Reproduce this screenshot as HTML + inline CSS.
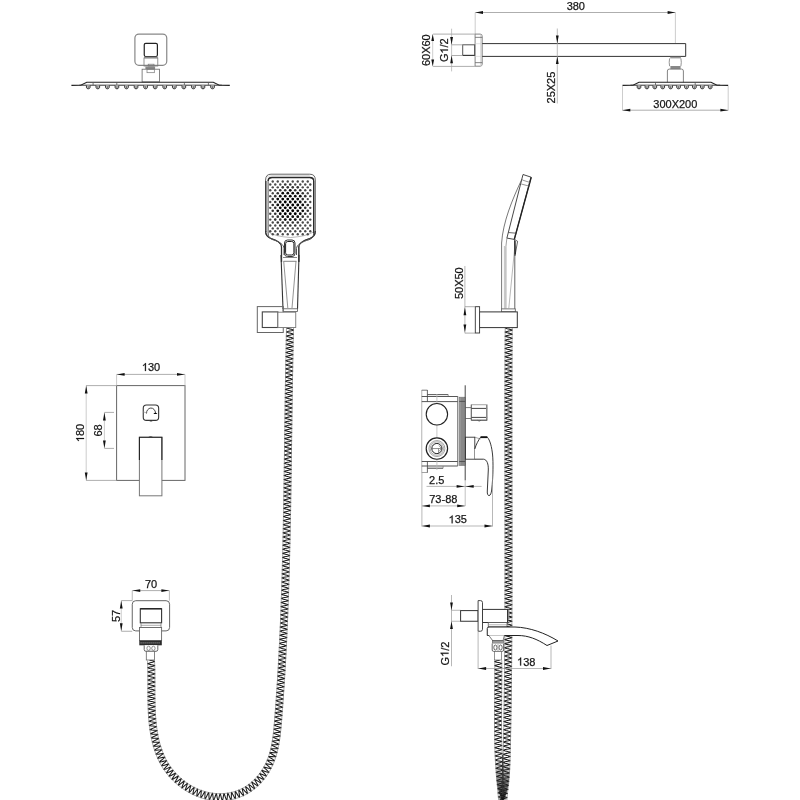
<!DOCTYPE html>
<html><head><meta charset="utf-8"><style>
html,body{margin:0;padding:0;background:#fff;width:800px;height:800px;overflow:hidden}
svg{display:block;will-change:transform}
text{font-family:"Liberation Sans",sans-serif;fill:#111;stroke:#222;stroke-width:0.25}
</style></head><body>
<svg width="800" height="800" viewBox="0 0 800 800">
<rect width="800" height="800" fill="#fff"/>
<path d="M286.52,327.88 L286.50,328.91 L286.48,329.93 L286.45,330.96 L286.43,331.98 L286.40,333.01 L286.38,334.03 L286.36,335.06 L286.34,336.08 L286.31,337.11 L286.29,338.13 L286.27,339.16 L286.24,340.18 L286.22,341.21 L286.20,342.24 L286.18,343.26 L286.16,344.29 L286.14,345.31 L286.11,346.34 L286.09,347.36 L286.07,348.39 L286.05,349.41 L286.03,350.44 L286.01,351.46 L285.99,352.49 L285.97,353.51 L285.95,354.54 L285.93,355.56 L285.91,356.59 L285.89,357.62 L285.87,358.64 L285.85,359.67 L285.83,360.69 L285.81,361.72 L285.79,362.74 L285.78,363.77 L285.76,364.79 L285.74,365.82 L285.72,366.84 L285.70,367.87 L285.68,368.89 L285.67,369.92 L285.65,370.94 L285.63,371.97 L285.61,372.99 L285.59,374.02 L285.58,375.04 L285.56,376.07 L285.54,377.10 L285.53,378.12 L285.51,379.15 L285.49,380.17 L285.48,381.20 L285.46,382.22 L285.44,383.25 L285.43,384.27 L285.41,385.30 L285.39,386.32 L285.38,387.35 L285.36,388.37 L285.34,389.40 L285.33,390.42 L285.31,391.45 L285.30,392.47 L285.28,393.50 L285.27,394.52 L285.25,395.55 L285.24,396.57 L285.22,397.60 L285.20,398.62 L285.19,399.65 L285.17,400.67 L285.16,401.70 L285.14,402.72 L285.13,403.75 L285.11,404.77 L285.10,405.80 L285.09,406.83 L285.07,407.85 L285.06,408.88 L285.04,409.90 L285.03,410.93 L285.01,411.95 L285.00,412.98 L284.98,414.00 L284.97,415.03 L284.95,416.05 L284.94,417.08 L284.93,418.10 L284.91,419.13 L284.90,420.15 L284.88,421.18 L284.87,422.20 L284.86,423.23 L284.84,424.25 L284.83,425.28 L284.81,426.30 L284.80,427.33 L284.79,428.35 L284.77,429.38 L284.76,430.40 L284.74,431.43 L284.73,432.45 L284.72,433.48 L284.70,434.50 L284.69,435.53 L284.68,436.55 L284.66,437.58 L284.65,438.60 L284.63,439.63 L284.62,440.65 L284.61,441.67 L284.59,442.70 L284.58,443.72 L284.57,444.75 L284.55,445.77 L284.54,446.80 L284.52,447.82 L284.51,448.85 L284.50,449.87 L284.48,450.90 L284.47,451.92 L284.45,452.95 L284.44,453.97 L284.43,455.00 L284.41,456.02 L284.40,457.05 L284.38,458.07 L284.37,459.10 L284.36,460.12 L284.34,461.15 L284.33,462.17 L284.31,463.20 L284.30,464.22 L284.29,465.25 L284.27,466.27 L284.26,467.30 L284.24,468.32 L284.23,469.34 L284.21,470.37 L284.20,471.39 L284.18,472.42 L284.17,473.44 L284.15,474.47 L284.14,475.49 L284.12,476.52 L284.11,477.54 L284.09,478.57 L284.08,479.59 L284.06,480.62 L284.05,481.64 L284.03,482.67 L284.02,483.69 L284.00,484.71 L283.99,485.74 L283.97,486.76 L283.95,487.79 L283.94,488.81 L283.92,489.84 L283.91,490.86 L283.89,491.89 L283.87,492.91 L283.86,493.94 L283.84,494.96 L283.83,495.98 L283.81,497.01 L283.79,498.03 L283.77,499.06 L283.76,500.08 L283.74,501.11 L283.72,502.13 L283.71,503.16 L283.69,504.18 L283.67,505.20 L283.65,506.23 L283.64,507.25 L283.62,508.28 L283.60,509.30 L283.58,510.33 L283.56,511.35 L283.55,512.38 L283.53,513.40 L283.51,514.42 L283.49,515.45 L283.47,516.47 L283.45,517.50 L283.43,518.52 L283.41,519.55 L283.39,520.57 L283.37,521.60 L283.35,522.62 L283.33,523.64 L283.31,524.67 L283.29,525.69 L283.27,526.72 L283.25,527.74 L283.23,528.76 L283.21,529.79 L283.19,530.81 L283.17,531.84 L283.15,532.86 L283.13,533.89 L283.11,534.91 L283.08,535.93 L283.06,536.96 L283.04,537.98 L283.02,539.01 L282.99,540.03 L282.97,541.06 L282.95,542.08 L282.93,543.10 L282.90,544.13 L282.88,545.15 L282.86,546.18 L282.83,547.20 L282.81,548.22 L282.78,549.25 L282.76,550.27 L282.73,551.30 L282.71,552.32 L282.68,553.34 L282.66,554.37 L282.63,555.39 L282.61,556.42 L282.58,557.44 L282.56,558.46 L282.53,559.49 L282.50,560.51 L282.48,561.54 L282.45,562.56 L282.42,563.58 L282.40,564.61 L282.37,565.63 L282.34,566.65 L282.31,567.68 L282.28,568.70 L282.26,569.73 L282.23,570.75 L282.20,571.77 L282.17,572.80 L282.14,573.82 L282.11,574.85 L282.08,575.87 L282.05,576.89 L282.02,577.92 L281.99,578.94 L281.96,579.96 L281.93,580.99 L281.90,582.01 L281.86,583.03 L281.83,584.06 L281.80,585.08 L281.77,586.11 L281.74,587.13 L281.70,588.15 L281.67,589.18 L281.64,590.20 L281.60,591.22 L281.57,592.25 L281.53,593.27 L281.50,594.29 L281.46,595.32 L281.43,596.34 L281.39,597.36 L281.36,598.39 L281.32,599.41 L281.29,600.43 L281.25,601.46 L281.21,602.48 L281.18,603.50 L281.14,604.53 L281.10,605.55 L281.06,606.57 L281.02,607.60 L280.99,608.62 L280.95,609.64 L280.91,610.67 L280.87,611.69 L280.83,612.71 L280.79,613.74 L280.75,614.76 L280.71,615.78 L280.67,616.81 L280.63,617.83 L280.58,618.85 L280.54,619.88 L280.50,620.90 L280.46,621.92 L280.41,622.94 L280.37,623.97 L280.33,624.99 L280.28,626.01 L280.24,627.04 L280.20,628.06 L280.15,629.08 L280.10,630.10 L280.06,631.13 L280.01,632.15 L279.97,633.17 L279.92,634.20 L279.87,635.22 L279.83,636.24 L279.78,637.26 L279.73,638.29 L279.68,639.31 L279.63,640.33 L279.59,641.35 L279.54,642.38 L279.49,643.40 L279.44,644.42 L279.39,645.45 L279.33,646.47 L279.28,647.49 L279.23,648.51 L279.18,649.53 L279.13,650.56 L279.07,651.58 L279.02,652.60 L278.97,653.62 L278.91,654.65 L278.86,655.67 L278.81,656.69 L278.75,657.71 L278.70,658.74 L278.64,659.76 L278.58,660.78 L278.53,661.80 L278.47,662.82 L278.41,663.85 L278.36,664.87 L278.30,665.89 L278.24,666.91 L278.18,667.93 L278.12,668.96 L278.06,669.98 L278.00,671.00 L277.94,672.02 L277.88,673.04 L277.82,674.06 L277.76,675.09 L277.70,676.11 L277.63,677.13 L277.57,678.15 L277.51,679.17 L277.44,680.19 L277.38,681.22 L277.31,682.24 L277.25,683.26 L277.18,684.28 L277.12,685.30 L277.05,686.32 L276.98,687.34 L276.92,688.37 L276.85,689.39 L276.78,690.41 L276.71,691.43 L276.64,692.45 L276.57,693.47 L276.50,694.49 L276.43,695.51 L276.36,696.54 L276.29,697.56 L276.22,698.58 L276.15,699.60 L276.08,700.62 L276.00,701.64 L275.93,702.66 L275.86,703.68 L275.78,704.70 L275.71,705.72 L275.63,706.74 L275.56,707.76 L275.48,708.78 L275.40,709.81 L275.33,710.83 L275.25,711.85 L275.17,712.87 L275.09,713.89 L275.01,714.91 L274.93,715.93 L274.85,716.95 L274.77,717.97 L274.69,718.99 L274.61,720.01 L274.53,721.03 L274.45,722.05 L274.36,723.06 L274.28,724.08 L274.19,725.09 L274.10,726.11 L274.01,727.12 L273.92,728.13 L273.82,729.14 L273.72,730.15 L273.62,731.15 L273.51,732.16 L273.40,733.16 L273.28,734.16 L273.16,735.16 L273.03,736.16 L272.90,737.15 L272.76,738.14 L272.61,739.14 L272.46,740.13 L272.31,741.11 L272.14,742.10 L271.97,743.08 L271.79,744.06 L271.60,745.03 L271.40,746.01 L271.19,746.98 L270.98,747.94 L270.75,748.90 L270.52,749.86 L270.27,750.82 L270.02,751.77 L269.75,752.72 L269.48,753.66 L269.19,754.60 L268.89,755.53 L268.58,756.46 L268.25,757.38 L267.92,758.30 L267.57,759.21 L267.21,760.11 L266.83,761.01 L266.45,761.90 L266.05,762.78 L265.63,763.66 L265.20,764.53 L264.76,765.39 L264.31,766.24 L263.84,767.09 L263.36,767.93 L262.86,768.76 L262.35,769.58 L261.83,770.39 L261.29,771.19 L260.74,771.98 L260.17,772.77 L259.59,773.55 L259.00,774.31 L258.40,775.07 L257.79,775.81 L257.16,776.55 L256.52,777.27 L255.87,777.98 L255.21,778.68 L254.53,779.37 L253.84,780.05 L253.15,780.72 L252.44,781.37 L251.72,782.00 L250.99,782.63 L250.25,783.24 L249.50,783.83 L248.73,784.41 L247.96,784.98 L247.18,785.52 L246.39,786.05 L245.59,786.57 L244.78,787.06 L243.95,787.54 L243.12,788.00 L242.28,788.45 L241.43,788.87 L240.57,789.28 L239.70,789.67 L238.83,790.04 L237.94,790.39 L237.05,790.73 L236.15,791.05 L235.24,791.35 L234.33,791.63 L233.41,791.89 L232.49,792.14 L231.56,792.36 L230.63,792.57 L229.69,792.76 L228.75,792.93 L227.80,793.09 L226.85,793.23 L225.90,793.34 L224.95,793.44 L223.99,793.53 L223.03,793.59 L222.07,793.64 L221.11,793.67 L220.15,793.68 L219.19,793.68 L218.23,793.66 L217.26,793.62 L216.30,793.56 L215.34,793.49 L214.39,793.40 L213.43,793.29 L212.47,793.16 L211.52,793.02 L210.57,792.87 L209.62,792.69 L208.68,792.50 L207.73,792.29 L206.80,792.07 L205.86,791.83 L204.93,791.57 L204.01,791.30 L203.09,791.01 L202.17,790.71 L201.26,790.39 L200.35,790.05 L199.45,789.70 L198.55,789.34 L197.66,788.96 L196.78,788.56 L195.90,788.15 L195.02,787.73 L194.15,787.29 L193.30,786.85 L192.44,786.38 L191.59,785.91 L190.75,785.42 L189.92,784.92 L189.09,784.40 L188.28,783.87 L187.47,783.33 L186.66,782.78 L185.87,782.22 L185.08,781.65 L184.30,781.06 L183.54,780.46 L182.77,779.85 L182.02,779.24 L181.28,778.60 L180.55,777.96 L179.82,777.31 L179.11,776.65 L178.40,775.98 L177.70,775.30 L177.02,774.60 L176.34,773.90 L175.68,773.19 L175.03,772.47 L174.39,771.74 L173.75,771.00 L173.13,770.25 L172.53,769.49 L171.93,768.73 L171.34,767.95 L170.77,767.17 L170.21,766.37 L169.67,765.57 L169.13,764.76 L168.61,763.94 L168.10,763.11 L167.60,762.28 L167.11,761.44 L166.64,760.59 L166.17,759.73 L165.72,758.86 L165.28,757.99 L164.86,757.11 L164.44,756.23 L164.04,755.34 L163.65,754.44 L163.27,753.54 L162.90,752.63 L162.54,751.71 L162.19,750.79 L161.86,749.87 L161.53,748.94 L161.21,748.01 L160.91,747.07 L160.62,746.13 L160.33,745.18 L160.06,744.24 L159.79,743.28 L159.53,742.33 L159.29,741.37 L159.05,740.40 L158.82,739.44 L158.60,738.47 L158.39,737.50 L158.19,736.52 L157.99,735.55 L157.81,734.57 L157.63,733.59 L157.46,732.61 L157.29,731.62 L157.14,730.63 L156.99,729.64 L156.85,728.66 L156.71,727.66 L156.58,726.67 L156.46,725.67 L156.34,724.68 L156.23,723.68 L156.13,722.68 L156.03,721.68 L155.93,720.68 L155.84,719.68 L155.76,718.67 L155.68,717.67 L155.61,716.66 L155.54,715.66 L155.48,714.65 L155.42,713.64 L155.36,712.63 L155.31,711.62 L155.26,710.61 L155.22,709.60 L155.18,708.59 L155.14,707.57 L155.11,706.56 L155.08,705.55 L155.05,704.53 L155.02,703.52 L155.00,702.50 L154.98,701.49 L154.96,700.47 L154.95,699.45 L154.94,698.43 L154.93,697.41 L154.92,696.40 L154.91,695.38 L154.90,694.36 L154.90,693.34 L154.90,692.31 L154.89,691.29 L154.89,690.27 L154.89,689.25 L154.89,688.23 L154.89,687.20 L154.89,686.18 L154.89,685.15 L154.90,684.13 L154.90,683.10 L154.90,682.07 L154.90,681.05 L154.90,680.02 L154.89,678.99 L154.89,677.96 L154.89,676.93 L154.88,675.90 L154.88,674.87 L154.87,673.84 L154.86,672.81 L154.84,671.78 L154.83,670.74 L154.81,669.71 L154.79,668.68 L154.77,667.64 L154.74,666.60 L154.71,665.57 L154.68,664.53 L154.64,663.49 L154.60,662.45 L154.55,661.41 L154.50,660.37 L147.49,660.40 L147.54,661.41 L147.59,662.42 L147.63,663.43 L147.67,664.44 L147.70,665.45 L147.73,666.46 L147.76,667.47 L147.79,668.49 L147.81,669.50 L147.82,670.52 L147.84,671.53 L147.85,672.55 L147.86,673.57 L147.87,674.59 L147.88,675.60 L147.89,676.62 L147.89,677.64 L147.89,678.67 L147.90,679.69 L147.90,680.71 L147.90,681.73 L147.90,682.76 L147.90,683.78 L147.89,684.80 L147.89,685.83 L147.89,686.85 L147.89,687.88 L147.89,688.91 L147.89,689.93 L147.89,690.96 L147.90,691.99 L147.90,693.02 L147.90,694.05 L147.91,695.08 L147.91,696.11 L147.92,697.14 L147.93,698.17 L147.95,699.20 L147.96,700.23 L147.98,701.27 L148.00,702.30 L148.02,703.33 L148.04,704.37 L148.07,705.40 L148.10,706.44 L148.13,707.47 L148.17,708.51 L148.21,709.55 L148.25,710.58 L148.30,711.62 L148.35,712.66 L148.41,713.69 L148.47,714.73 L148.53,715.77 L148.60,716.81 L148.68,717.85 L148.76,718.89 L148.84,719.93 L148.93,720.97 L149.03,722.00 L149.13,723.04 L149.23,724.08 L149.35,725.12 L149.47,726.16 L149.59,727.20 L149.73,728.24 L149.87,729.28 L150.01,730.32 L150.17,731.36 L150.33,732.40 L150.50,733.43 L150.68,734.47 L150.86,735.51 L151.06,736.54 L151.26,737.58 L151.47,738.61 L151.69,739.64 L151.92,740.67 L152.16,741.70 L152.41,742.73 L152.67,743.76 L152.94,744.78 L153.23,745.81 L153.52,746.83 L153.82,747.84 L154.13,748.86 L154.46,749.87 L154.80,750.88 L155.14,751.89 L155.51,752.89 L155.88,753.89 L156.26,754.89 L156.66,755.88 L157.07,756.87 L157.50,757.85 L157.94,758.83 L158.39,759.80 L158.85,760.77 L159.33,761.73 L159.82,762.69 L160.33,763.64 L160.85,764.58 L161.38,765.51 L161.93,766.44 L162.49,767.36 L163.06,768.27 L163.65,769.18 L164.26,770.07 L164.88,770.95 L165.51,771.83 L166.15,772.69 L166.81,773.55 L167.48,774.39 L168.16,775.23 L168.86,776.05 L169.57,776.86 L170.29,777.67 L171.02,778.46 L171.76,779.24 L172.51,780.00 L173.28,780.76 L174.05,781.51 L174.84,782.24 L175.63,782.96 L176.44,783.68 L177.26,784.38 L178.08,785.06 L178.92,785.74 L179.77,786.40 L180.63,787.05 L181.49,787.69 L182.37,788.32 L183.25,788.93 L184.14,789.53 L185.05,790.12 L185.96,790.70 L186.88,791.26 L187.81,791.80 L188.74,792.34 L189.69,792.85 L190.64,793.36 L191.60,793.85 L192.57,794.32 L193.55,794.78 L194.53,795.23 L195.53,795.66 L196.53,796.07 L197.53,796.47 L198.55,796.85 L199.57,797.21 L200.59,797.56 L201.63,797.89 L202.67,798.20 L203.71,798.50 L204.76,798.77 L205.82,799.03 L206.87,799.27 L207.94,799.49 L209.01,799.70 L210.07,799.88 L211.15,800.05 L212.22,800.19 L213.31,800.32 L214.39,800.43 L215.47,800.52 L216.55,800.59 L217.64,800.64 L218.73,800.67 L219.81,800.68 L220.91,800.68 L221.99,800.65 L223.08,800.60 L224.17,800.53 L225.25,800.45 L226.34,800.34 L227.42,800.21 L228.50,800.06 L229.58,799.89 L230.66,799.70 L231.73,799.49 L232.80,799.26 L233.86,799.01 L234.92,798.73 L235.98,798.44 L237.02,798.12 L238.07,797.79 L239.10,797.43 L240.13,797.05 L241.15,796.65 L242.17,796.23 L243.17,795.79 L244.17,795.32 L245.15,794.84 L246.13,794.33 L247.09,793.81 L248.05,793.26 L248.99,792.69 L249.92,792.11 L250.84,791.50 L251.74,790.88 L252.63,790.24 L253.50,789.59 L254.36,788.91 L255.21,788.23 L256.04,787.52 L256.86,786.81 L257.66,786.07 L258.46,785.33 L259.23,784.57 L260.00,783.80 L260.75,783.01 L261.48,782.22 L262.21,781.41 L262.92,780.59 L263.61,779.76 L264.29,778.91 L264.95,778.06 L265.61,777.19 L266.24,776.32 L266.87,775.43 L267.47,774.54 L268.07,773.63 L268.65,772.71 L269.21,771.79 L269.75,770.85 L270.29,769.90 L270.80,768.95 L271.30,767.99 L271.78,767.02 L272.25,766.05 L272.70,765.07 L273.13,764.08 L273.55,763.09 L273.96,762.09 L274.35,761.09 L274.72,760.08 L275.08,759.07 L275.43,758.05 L275.76,757.04 L276.08,756.02 L276.38,754.99 L276.68,753.97 L276.96,752.94 L277.22,751.91 L277.48,750.88 L277.72,749.84 L277.96,748.81 L278.18,747.77 L278.40,746.74 L278.60,745.70 L278.79,744.66 L278.98,743.63 L279.16,742.59 L279.33,741.55 L279.49,740.52 L279.64,739.48 L279.79,738.44 L279.93,737.40 L280.06,736.37 L280.19,735.33 L280.31,734.30 L280.43,733.26 L280.54,732.23 L280.65,731.19 L280.75,730.16 L280.85,729.13 L280.95,728.10 L281.04,727.07 L281.13,726.04 L281.22,725.01 L281.31,723.98 L281.39,722.96 L281.48,721.93 L281.56,720.91 L281.64,719.88 L281.72,718.86 L281.80,717.84 L281.89,716.81 L281.97,715.79 L282.04,714.77 L282.12,713.74 L282.20,712.72 L282.28,711.70 L282.36,710.67 L282.43,709.65 L282.51,708.62 L282.59,707.60 L282.66,706.58 L282.74,705.55 L282.81,704.53 L282.89,703.51 L282.96,702.48 L283.03,701.46 L283.11,700.43 L283.18,699.41 L283.25,698.39 L283.32,697.36 L283.39,696.34 L283.46,695.31 L283.54,694.29 L283.60,693.27 L283.67,692.24 L283.74,691.22 L283.81,690.19 L283.88,689.17 L283.95,688.14 L284.01,687.12 L284.08,686.10 L284.15,685.07 L284.21,684.05 L284.28,683.02 L284.34,682.00 L284.41,680.97 L284.47,679.95 L284.54,678.92 L284.60,677.90 L284.66,676.88 L284.72,675.85 L284.79,674.83 L284.85,673.80 L284.91,672.78 L284.97,671.75 L285.03,670.73 L285.09,669.70 L285.15,668.68 L285.21,667.65 L285.27,666.63 L285.33,665.61 L285.38,664.58 L285.44,663.56 L285.50,662.53 L285.55,661.51 L285.61,660.48 L285.67,659.46 L285.72,658.43 L285.78,657.41 L285.83,656.38 L285.89,655.36 L285.94,654.33 L285.99,653.31 L286.05,652.28 L286.10,651.26 L286.15,650.23 L286.21,649.21 L286.26,648.18 L286.31,647.16 L286.36,646.13 L286.41,645.11 L286.46,644.08 L286.51,643.06 L286.56,642.03 L286.61,641.01 L286.66,639.98 L286.71,638.96 L286.76,637.93 L286.80,636.91 L286.85,635.88 L286.90,634.86 L286.94,633.83 L286.99,632.81 L287.04,631.78 L287.08,630.76 L287.13,629.73 L287.17,628.71 L287.22,627.68 L287.26,626.66 L287.31,625.63 L287.35,624.61 L287.39,623.58 L287.44,622.56 L287.48,621.53 L287.52,620.51 L287.56,619.48 L287.61,618.45 L287.65,617.43 L287.69,616.40 L287.73,615.38 L287.77,614.35 L287.81,613.33 L287.85,612.30 L287.89,611.28 L287.93,610.25 L287.97,609.23 L288.01,608.20 L288.05,607.18 L288.08,606.15 L288.12,605.13 L288.16,604.10 L288.20,603.08 L288.23,602.05 L288.27,601.02 L288.31,600.00 L288.34,598.97 L288.38,597.95 L288.41,596.92 L288.45,595.90 L288.48,594.87 L288.52,593.85 L288.55,592.82 L288.59,591.80 L288.62,590.77 L288.65,589.75 L288.69,588.72 L288.72,587.70 L288.75,586.67 L288.79,585.64 L288.82,584.62 L288.85,583.59 L288.88,582.57 L288.91,581.54 L288.94,580.52 L288.98,579.49 L289.01,578.47 L289.04,577.44 L289.07,576.42 L289.10,575.39 L289.13,574.37 L289.16,573.34 L289.19,572.31 L289.22,571.29 L289.24,570.26 L289.27,569.24 L289.30,568.21 L289.33,567.19 L289.36,566.16 L289.38,565.14 L289.41,564.11 L289.44,563.09 L289.47,562.06 L289.49,561.04 L289.52,560.01 L289.55,558.98 L289.57,557.96 L289.60,556.93 L289.62,555.91 L289.65,554.88 L289.67,553.86 L289.70,552.83 L289.72,551.81 L289.75,550.78 L289.77,549.76 L289.80,548.73 L289.82,547.70 L289.85,546.68 L289.87,545.65 L289.89,544.63 L289.92,543.60 L289.94,542.58 L289.96,541.55 L289.99,540.53 L290.01,539.50 L290.03,538.48 L290.05,537.45 L290.07,536.43 L290.10,535.40 L290.12,534.38 L290.14,533.35 L290.16,532.32 L290.18,531.30 L290.20,530.27 L290.22,529.25 L290.25,528.22 L290.27,527.20 L290.29,526.17 L290.31,525.15 L290.33,524.12 L290.35,523.10 L290.37,522.07 L290.39,521.05 L290.41,520.02 L290.43,519.00 L290.44,517.97 L290.46,516.94 L290.48,515.92 L290.50,514.89 L290.52,513.87 L290.54,512.84 L290.56,511.82 L290.58,510.79 L290.59,509.77 L290.61,508.74 L290.63,507.72 L290.65,506.69 L290.66,505.67 L290.68,504.64 L290.70,503.62 L290.72,502.59 L290.73,501.57 L290.75,500.54 L290.77,499.52 L290.79,498.49 L290.80,497.46 L290.82,496.44 L290.84,495.41 L290.85,494.39 L290.87,493.36 L290.88,492.34 L290.90,491.31 L290.92,490.29 L290.93,489.26 L290.95,488.24 L290.96,487.21 L290.98,486.19 L291.00,485.16 L291.01,484.14 L291.03,483.11 L291.04,482.09 L291.06,481.06 L291.07,480.04 L291.09,479.01 L291.10,477.99 L291.12,476.96 L291.13,475.94 L291.15,474.91 L291.16,473.89 L291.18,472.86 L291.19,471.84 L291.21,470.81 L291.22,469.79 L291.24,468.76 L291.25,467.74 L291.27,466.71 L291.28,465.69 L291.29,464.66 L291.31,463.64 L291.32,462.61 L291.34,461.59 L291.35,460.56 L291.37,459.54 L291.38,458.51 L291.39,457.49 L291.41,456.46 L291.42,455.44 L291.44,454.41 L291.45,453.39 L291.46,452.36 L291.48,451.34 L291.49,450.31 L291.51,449.29 L291.52,448.26 L291.53,447.24 L291.55,446.21 L291.56,445.19 L291.57,444.16 L291.59,443.14 L291.60,442.11 L291.62,441.09 L291.63,440.06 L291.64,439.04 L291.66,438.01 L291.67,436.99 L291.68,435.96 L291.70,434.94 L291.71,433.91 L291.73,432.89 L291.74,431.86 L291.75,430.84 L291.77,429.81 L291.78,428.79 L291.80,427.76 L291.81,426.74 L291.82,425.71 L291.84,424.69 L291.85,423.66 L291.86,422.64 L291.88,421.61 L291.89,420.59 L291.91,419.56 L291.92,418.54 L291.94,417.51 L291.95,416.49 L291.96,415.46 L291.98,414.44 L291.99,413.42 L292.01,412.39 L292.02,411.37 L292.04,410.34 L292.05,409.32 L292.06,408.29 L292.08,407.27 L292.09,406.24 L292.11,405.22 L292.12,404.19 L292.14,403.17 L292.15,402.14 L292.17,401.12 L292.18,400.09 L292.20,399.07 L292.21,398.04 L292.23,397.02 L292.24,396.00 L292.26,394.97 L292.28,393.95 L292.29,392.92 L292.31,391.90 L292.32,390.87 L292.34,389.85 L292.35,388.82 L292.37,387.80 L292.39,386.77 L292.40,385.75 L292.42,384.73 L292.44,383.70 L292.45,382.68 L292.47,381.65 L292.49,380.63 L292.50,379.60 L292.52,378.58 L292.54,377.55 L292.55,376.53 L292.57,375.50 L292.59,374.48 L292.61,373.46 L292.62,372.43 L292.64,371.41 L292.66,370.38 L292.68,369.36 L292.69,368.33 L292.71,367.31 L292.73,366.28 L292.75,365.26 L292.77,364.24 L292.79,363.21 L292.81,362.19 L292.82,361.16 L292.84,360.14 L292.86,359.11 L292.88,358.09 L292.90,357.07 L292.92,356.04 L292.94,355.02 L292.96,353.99 L292.98,352.97 L293.00,351.94 L293.02,350.92 L293.04,349.90 L293.06,348.87 L293.08,347.85 L293.11,346.82 L293.13,345.80 L293.15,344.77 L293.17,343.75 L293.19,342.73 L293.21,341.70 L293.24,340.68 L293.26,339.65 L293.28,338.63 L293.30,337.61 L293.33,336.58 L293.35,335.56 L293.37,334.53 L293.40,333.51 L293.42,332.48 L293.44,331.46 L293.47,330.44 L293.49,329.41 L293.51,328.39Z" fill="#fff" stroke="none"/>
<path d="M286.52,327.88 L287.30,328.24 L288.52,328.61 L290.00,328.99 L291.48,329.36 L292.70,329.74 L293.47,330.10 L292.68,330.42 L291.45,330.73 L289.95,331.04 L288.46,331.34 L287.22,331.66 L286.43,331.98 L287.20,332.34 L288.42,332.71 L289.90,333.09 L291.38,333.46 L292.60,333.83 L293.38,334.19 L292.59,334.52 L291.35,334.83 L289.86,335.14 L288.36,335.44 L287.13,335.76 L286.34,336.08 L287.11,336.44 L288.33,336.81 L289.81,337.19 L291.29,337.56 L292.51,337.93 L293.29,338.29 L292.50,338.61 L291.26,338.93 L289.77,339.24 L288.27,339.54 L287.03,339.86 L286.24,340.18 L287.02,340.54 L288.24,340.91 L289.72,341.29 L291.20,341.66 L292.42,342.03 L293.20,342.38 L292.41,342.71 L291.17,343.02 L289.68,343.33 L288.18,343.64 L286.95,343.96 L286.16,344.29 L286.93,344.64 L288.15,345.01 L289.63,345.38 L291.11,345.76 L292.34,346.12 L293.11,346.48 L292.32,346.81 L291.09,347.12 L289.59,347.43 L288.10,347.74 L286.86,348.06 L286.07,348.39 L286.85,348.74 L288.07,349.11 L289.55,349.48 L291.03,349.85 L292.25,350.22 L293.03,350.58 L292.24,350.90 L291.00,351.22 L289.51,351.53 L288.02,351.84 L286.78,352.16 L285.99,352.49 L286.77,352.85 L287.99,353.21 L289.47,353.58 L290.95,353.95 L292.17,354.32 L292.95,354.68 L292.16,355.00 L290.92,355.32 L289.43,355.63 L287.93,355.95 L286.70,356.26 L285.91,356.59 L286.69,356.95 L287.91,357.31 L289.39,357.68 L290.87,358.05 L292.09,358.42 L292.87,358.77 L292.08,359.10 L290.84,359.42 L289.35,359.73 L287.86,360.05 L286.62,360.36 L285.83,360.69 L286.61,361.05 L287.83,361.41 L289.31,361.78 L290.79,362.15 L292.02,362.51 L292.79,362.87 L292.00,363.20 L290.77,363.52 L289.27,363.83 L287.78,364.15 L286.55,364.46 L285.76,364.79 L286.53,365.15 L287.76,365.51 L289.24,365.88 L290.72,366.25 L291.94,366.61 L292.72,366.97 L291.93,367.30 L290.69,367.61 L289.20,367.93 L287.71,368.25 L286.47,368.57 L285.68,368.89 L286.46,369.25 L287.68,369.61 L289.16,369.98 L290.65,370.35 L291.87,370.71 L292.65,371.07 L291.86,371.39 L290.62,371.71 L289.13,372.03 L287.64,372.35 L286.40,372.67 L285.61,372.99 L286.39,373.35 L287.61,373.71 L289.09,374.08 L290.58,374.45 L291.80,374.81 L292.58,375.16 L291.79,375.49 L290.55,375.81 L289.06,376.13 L287.57,376.45 L286.33,376.77 L285.54,377.10 L286.32,377.45 L287.54,377.81 L289.03,378.18 L290.51,378.54 L291.73,378.91 L292.51,379.26 L291.72,379.59 L290.48,379.91 L288.99,380.23 L287.50,380.55 L286.26,380.87 L285.48,381.20 L286.25,381.55 L287.48,381.91 L288.96,382.28 L290.44,382.64 L291.66,383.01 L292.44,383.36 L291.65,383.69 L290.42,384.01 L288.93,384.33 L287.43,384.65 L286.20,384.97 L285.41,385.30 L286.19,385.65 L287.41,386.01 L288.89,386.38 L290.37,386.74 L291.60,387.10 L292.38,387.46 L291.59,387.79 L290.35,388.11 L288.86,388.43 L287.37,388.75 L286.13,389.07 L285.34,389.40 L286.12,389.75 L287.35,390.11 L288.83,390.48 L290.31,390.84 L291.53,391.20 L292.31,391.56 L291.52,391.89 L290.29,392.21 L288.80,392.53 L287.30,392.85 L286.07,393.17 L285.28,393.50 L286.06,393.85 L287.28,394.21 L288.77,394.58 L290.25,394.94 L291.47,395.30 L292.25,395.65 L291.46,395.98 L290.23,396.31 L288.73,396.63 L287.24,396.95 L286.01,397.27 L285.22,397.60 L286.00,397.95 L287.22,398.31 L288.70,398.68 L290.19,399.04 L291.41,399.40 L292.19,399.75 L291.40,400.08 L290.17,400.41 L288.67,400.73 L287.18,401.05 L285.95,401.37 L285.16,401.70 L285.94,402.05 L287.16,402.41 L288.64,402.78 L290.13,403.14 L291.35,403.50 L292.13,403.85 L291.34,404.18 L290.11,404.51 L288.61,404.83 L287.12,405.15 L285.89,405.47 L285.10,405.80 L285.88,406.15 L287.10,406.51 L288.58,406.88 L290.07,407.24 L291.29,407.60 L292.07,407.95 L291.28,408.28 L290.05,408.60 L288.56,408.92 L287.06,409.25 L285.83,409.57 L285.04,409.90 L285.82,410.25 L287.04,410.61 L288.53,410.97 L290.01,411.34 L291.23,411.70 L292.01,412.05 L291.22,412.38 L289.99,412.70 L288.50,413.02 L287.01,413.35 L285.77,413.67 L284.98,414.00 L285.76,414.35 L286.99,414.71 L288.47,415.07 L289.95,415.44 L291.18,415.80 L291.95,416.15 L291.17,416.48 L289.93,416.80 L288.44,417.12 L286.95,417.45 L285.71,417.77 L284.93,418.10 L285.70,418.45 L286.93,418.81 L288.41,419.17 L289.89,419.54 L291.12,419.89 L291.90,420.25 L291.11,420.58 L289.88,420.90 L288.38,421.22 L286.89,421.54 L285.66,421.87 L284.87,422.20 L285.65,422.55 L286.87,422.91 L288.36,423.27 L289.84,423.64 L291.06,423.99 L291.84,424.35 L291.05,424.68 L289.82,425.00 L288.33,425.32 L286.84,425.64 L285.60,425.97 L284.81,426.30 L285.59,426.65 L286.82,427.01 L288.30,427.37 L289.78,427.73 L291.01,428.09 L291.79,428.45 L291.00,428.78 L289.76,429.10 L288.27,429.42 L286.78,429.74 L285.55,430.07 L284.76,430.40 L285.54,430.75 L286.76,431.11 L288.24,431.47 L289.73,431.83 L290.95,432.19 L291.73,432.54 L290.94,432.88 L289.71,433.20 L288.22,433.52 L286.72,433.84 L285.49,434.17 L284.70,434.50 L285.48,434.85 L286.71,435.21 L288.19,435.57 L289.67,435.93 L290.90,436.29 L291.68,436.64 L290.89,436.98 L289.65,437.30 L288.16,437.62 L286.67,437.94 L285.44,438.27 L284.65,438.60 L285.43,438.95 L286.65,439.31 L288.13,439.67 L289.62,440.03 L290.84,440.39 L291.62,440.74 L290.83,441.08 L289.60,441.40 L288.11,441.72 L286.61,442.04 L285.38,442.37 L284.59,442.70 L285.37,443.05 L286.60,443.41 L288.08,443.77 L289.56,444.13 L290.79,444.49 L291.56,444.84 L290.78,445.17 L289.54,445.50 L288.05,445.82 L286.56,446.14 L285.33,446.47 L284.54,446.80 L285.32,447.15 L286.54,447.51 L288.02,447.87 L289.51,448.23 L290.73,448.59 L291.51,448.94 L290.72,449.27 L289.49,449.60 L288.00,449.92 L286.50,450.24 L285.27,450.57 L284.48,450.90 L285.26,451.25 L286.49,451.61 L287.97,451.97 L289.45,452.33 L290.68,452.69 L291.45,453.04 L290.67,453.37 L289.43,453.70 L287.94,454.02 L286.45,454.34 L285.21,454.67 L284.43,455.00 L285.20,455.35 L286.43,455.71 L287.91,456.07 L289.40,456.43 L290.62,456.79 L291.40,457.14 L290.61,457.47 L289.38,457.80 L287.88,458.12 L286.39,458.44 L285.16,458.77 L284.37,459.10 L285.15,459.45 L286.37,459.81 L287.86,460.17 L289.34,460.53 L290.56,460.89 L291.34,461.24 L290.55,461.57 L289.32,461.90 L287.83,462.22 L286.34,462.54 L285.10,462.87 L284.31,463.20 L285.09,463.55 L286.32,463.91 L287.80,464.27 L289.28,464.63 L290.51,464.99 L291.28,465.34 L290.50,465.67 L289.26,466.00 L287.77,466.32 L286.28,466.64 L285.04,466.96 L284.26,467.30 L285.03,467.65 L286.26,468.01 L287.74,468.37 L289.22,468.73 L290.45,469.09 L291.23,469.44 L290.44,469.77 L289.20,470.10 L287.71,470.42 L286.22,470.74 L284.99,471.06 L284.20,471.39 L284.98,471.75 L286.20,472.11 L287.68,472.47 L289.17,472.83 L290.39,473.19 L291.17,473.54 L290.38,473.87 L289.15,474.20 L287.65,474.52 L286.16,474.84 L284.93,475.16 L284.14,475.49 L284.92,475.85 L286.14,476.21 L287.62,476.57 L289.11,476.93 L290.33,477.29 L291.11,477.64 L290.32,477.98 L289.09,478.30 L287.59,478.62 L286.10,478.94 L284.87,479.26 L284.08,479.59 L284.86,479.94 L286.08,480.30 L287.56,480.67 L289.05,481.03 L290.27,481.39 L291.05,481.75 L290.26,482.08 L289.02,482.40 L287.53,482.72 L286.04,483.04 L284.81,483.36 L284.02,483.69 L284.79,484.04 L286.02,484.40 L287.50,484.77 L288.98,485.13 L290.21,485.49 L290.99,485.85 L290.20,486.18 L288.96,486.50 L287.47,486.82 L285.98,487.14 L284.74,487.46 L283.95,487.79 L284.73,488.14 L285.96,488.50 L287.44,488.87 L288.92,489.23 L290.14,489.59 L290.92,489.95 L290.13,490.28 L288.90,490.60 L287.41,490.92 L285.91,491.24 L284.68,491.56 L283.89,491.89 L284.67,492.24 L285.89,492.60 L287.37,492.97 L288.86,493.33 L290.08,493.69 L290.86,494.05 L290.07,494.38 L288.83,494.70 L287.34,495.02 L285.85,495.33 L284.61,495.66 L283.83,495.98 L284.60,496.34 L285.83,496.70 L287.31,497.07 L288.79,497.43 L290.01,497.79 L290.79,498.15 L290.00,498.48 L288.77,498.80 L287.27,499.12 L285.78,499.43 L284.55,499.75 L283.76,500.08 L284.54,500.44 L285.76,500.80 L287.24,501.17 L288.72,501.53 L289.95,501.89 L290.72,502.25 L289.93,502.58 L288.70,502.90 L287.21,503.22 L285.71,503.53 L284.48,503.85 L283.69,504.18 L284.47,504.54 L285.69,504.90 L287.17,505.26 L288.65,505.63 L289.88,505.99 L290.65,506.35 L289.86,506.68 L288.63,507.00 L287.14,507.31 L285.64,507.63 L284.41,507.95 L283.62,508.28 L284.40,508.63 L285.62,509.00 L287.10,509.36 L288.58,509.73 L289.80,510.10 L290.58,510.45 L289.79,510.78 L288.56,511.10 L287.06,511.41 L285.57,511.73 L284.33,512.05 L283.55,512.38 L284.32,512.73 L285.55,513.10 L287.03,513.46 L288.51,513.83 L289.73,514.20 L290.51,514.55 L289.72,514.88 L288.48,515.20 L286.99,515.51 L285.50,515.83 L284.26,516.15 L283.47,516.47 L284.25,516.83 L285.47,517.19 L286.95,517.56 L288.43,517.93 L289.66,518.30 L290.43,518.65 L289.64,518.98 L288.41,519.30 L286.91,519.61 L285.42,519.93 L284.18,520.24 L283.39,520.57 L284.17,520.93 L285.39,521.29 L286.87,521.66 L288.35,522.03 L289.58,522.40 L290.35,522.75 L289.56,523.08 L288.33,523.40 L286.83,523.71 L285.34,524.02 L284.10,524.34 L283.31,524.67 L284.09,525.02 L285.31,525.39 L286.79,525.76 L288.27,526.13 L289.50,526.50 L290.27,526.86 L289.48,527.18 L288.25,527.50 L286.75,527.81 L285.26,528.12 L284.02,528.44 L283.23,528.76 L284.01,529.12 L285.23,529.49 L286.71,529.86 L288.19,530.23 L289.41,530.60 L290.19,530.96 L289.40,531.28 L288.16,531.60 L286.67,531.91 L285.18,532.22 L283.94,532.54 L283.15,532.86 L283.92,533.22 L285.15,533.59 L286.63,533.96 L288.11,534.33 L289.33,534.70 L290.10,535.06 L289.31,535.38 L288.08,535.70 L286.58,536.01 L285.09,536.32 L283.85,536.63 L283.06,536.96 L283.84,537.32 L285.06,537.69 L286.54,538.06 L288.02,538.43 L289.24,538.80 L290.02,539.16 L289.23,539.48 L287.99,539.80 L286.49,540.11 L285.00,540.42 L283.76,540.73 L282.97,541.06 L283.75,541.41 L284.97,541.78 L286.45,542.16 L287.93,542.53 L289.15,542.90 L289.92,543.26 L289.13,543.59 L287.90,543.90 L286.40,544.21 L284.91,544.51 L283.67,544.83 L282.88,545.15 L283.65,545.51 L284.88,545.88 L286.35,546.26 L287.83,546.63 L289.06,547.00 L289.83,547.36 L289.04,547.69 L287.80,548.00 L286.31,548.31 L284.81,548.61 L283.57,548.93 L282.78,549.25 L283.56,549.61 L284.78,549.98 L286.26,550.36 L287.74,550.73 L288.96,551.10 L289.73,551.46 L288.94,551.79 L287.70,552.10 L286.21,552.41 L284.71,552.71 L283.48,553.02 L282.68,553.34 L283.46,553.70 L284.68,554.08 L286.16,554.45 L287.64,554.83 L288.86,555.21 L289.63,555.57 L288.84,555.89 L287.60,556.20 L286.11,556.50 L284.61,556.81 L283.37,557.12 L282.58,557.44 L283.36,557.80 L284.58,558.17 L286.06,558.55 L287.53,558.93 L288.75,559.31 L289.53,559.67 L288.74,559.99 L287.50,560.30 L286.00,560.60 L284.51,560.91 L283.27,561.21 L282.48,561.54 L283.25,561.90 L284.47,562.27 L285.95,562.65 L287.43,563.03 L288.65,563.41 L289.42,563.77 L288.63,564.09 L287.39,564.40 L285.89,564.70 L284.40,565.00 L283.16,565.31 L282.37,565.63 L283.14,565.99 L284.36,566.37 L285.84,566.75 L287.32,567.13 L288.54,567.51 L289.31,567.87 L288.52,568.19 L287.28,568.50 L285.78,568.80 L284.29,569.10 L283.05,569.41 L282.26,569.73 L283.03,570.09 L284.25,570.47 L285.73,570.85 L287.20,571.23 L288.42,571.61 L289.20,571.97 L288.40,572.29 L287.16,572.60 L285.67,572.90 L284.17,573.20 L282.93,573.50 L282.14,573.82 L282.91,574.19 L284.13,574.56 L285.61,574.95 L287.09,575.33 L288.30,575.71 L289.08,576.07 L288.28,576.39 L287.05,576.70 L285.55,577.00 L284.05,577.29 L282.81,577.60 L282.02,577.92 L282.79,578.28 L284.01,578.66 L285.49,579.05 L286.96,579.43 L288.18,579.81 L288.96,580.18 L288.16,580.49 L286.92,580.80 L285.43,581.09 L283.93,581.39 L282.69,581.69 L281.90,582.01 L282.67,582.38 L283.89,582.76 L285.36,583.14 L286.84,583.53 L288.06,583.91 L288.83,584.28 L288.04,584.59 L286.80,584.90 L285.30,585.19 L283.80,585.49 L282.56,585.79 L281.77,586.11 L282.54,586.47 L283.76,586.85 L285.23,587.24 L286.71,587.63 L287.93,588.01 L288.70,588.38 L287.91,588.70 L286.67,589.00 L285.17,589.29 L283.67,589.58 L282.43,589.88 L281.64,590.20 L282.41,590.57 L283.62,590.95 L285.10,591.34 L286.58,591.73 L287.79,592.11 L288.56,592.48 L287.77,592.80 L286.53,593.10 L285.03,593.39 L283.53,593.68 L282.29,593.98 L281.50,594.29 L282.27,594.66 L283.49,595.04 L284.96,595.44 L286.44,595.83 L287.65,596.21 L288.43,596.58 L287.63,596.90 L286.39,597.20 L284.89,597.49 L283.39,597.78 L282.15,598.07 L281.36,598.39 L282.13,598.76 L283.35,599.14 L284.82,599.53 L286.29,599.93 L287.51,600.31 L288.28,600.68 L287.49,601.00 L286.25,601.29 L284.75,601.58 L283.25,601.87 L282.01,602.17 L281.21,602.48 L281.98,602.85 L283.20,603.24 L284.67,603.63 L286.15,604.03 L287.36,604.41 L288.13,604.78 L287.34,605.10 L286.10,605.39 L284.60,605.68 L283.10,605.97 L281.86,606.26 L281.06,606.57 L281.83,606.94 L283.05,607.33 L284.52,607.73 L286.00,608.13 L287.21,608.51 L287.98,608.89 L287.19,609.20 L285.94,609.49 L284.44,609.78 L282.95,610.06 L281.70,610.36 L280.91,610.67 L281.68,611.04 L282.89,611.43 L284.37,611.83 L285.84,612.23 L287.05,612.61 L287.82,612.99 L287.03,613.30 L285.79,613.59 L284.29,613.87 L282.79,614.16 L281.54,614.45 L280.75,614.76 L281.52,615.13 L282.73,615.52 L284.21,615.92 L285.68,616.32 L286.89,616.71 L287.66,617.09 L286.87,617.40 L285.62,617.69 L284.12,617.97 L282.62,618.25 L281.38,618.54 L280.58,618.85 L281.35,619.23 L282.57,619.62 L284.04,620.02 L285.51,620.42 L286.73,620.81 L287.49,621.19 L286.70,621.50 L285.45,621.79 L283.95,622.07 L282.45,622.35 L281.21,622.64 L280.41,622.94 L281.18,623.32 L282.40,623.71 L283.87,624.12 L285.34,624.52 L286.55,624.91 L287.32,625.29 L286.52,625.60 L285.28,625.89 L283.78,626.16 L282.28,626.44 L281.04,626.73 L280.24,627.04 L281.01,627.41 L282.22,627.81 L283.69,628.21 L285.16,628.62 L286.38,629.01 L287.14,629.39 L286.35,629.70 L285.10,629.98 L283.60,630.26 L282.10,630.54 L280.86,630.82 L280.06,631.13 L280.83,631.50 L282.04,631.90 L283.51,632.31 L284.98,632.72 L286.19,633.11 L286.96,633.49 L286.16,633.80 L284.92,634.08 L283.42,634.36 L281.92,634.63 L280.67,634.91 L279.87,635.22 L280.64,635.60 L281.85,635.99 L283.32,636.40 L284.79,636.81 L286.01,637.21 L286.77,637.59 L285.97,637.90 L284.73,638.18 L283.23,638.45 L281.73,638.72 L280.48,639.01 L279.68,639.31 L280.45,639.69 L281.66,640.09 L283.13,640.50 L284.60,640.91 L285.81,641.31 L286.58,641.69 L285.78,642.00 L284.53,642.28 L283.03,642.55 L281.53,642.82 L280.28,643.10 L279.49,643.40 L280.25,643.78 L281.46,644.18 L282.93,644.59 L284.40,645.01 L285.61,645.41 L286.38,645.79 L285.58,646.09 L284.33,646.37 L282.83,646.64 L281.33,646.91 L280.08,647.19 L279.28,647.49 L280.05,647.87 L281.26,648.27 L282.73,648.69 L284.20,649.11 L285.41,649.51 L286.17,649.89 L285.37,650.19 L284.13,650.47 L282.62,650.74 L281.12,651.00 L279.87,651.28 L279.07,651.58 L279.84,651.96 L281.05,652.37 L282.52,652.78 L283.98,653.20 L285.19,653.61 L285.96,653.99 L285.16,654.29 L283.91,654.57 L282.41,654.83 L280.91,655.09 L279.66,655.37 L278.86,655.67 L279.62,656.05 L280.83,656.46 L282.30,656.88 L283.77,657.30 L284.98,657.71 L285.74,658.09 L284.94,658.39 L283.69,658.66 L282.19,658.93 L280.69,659.19 L279.44,659.46 L278.64,659.76 L279.40,660.14 L280.61,660.55 L282.08,660.97 L283.55,661.40 L284.75,661.80 L285.52,662.19 L284.72,662.49 L283.47,662.76 L281.97,663.02 L280.46,663.28 L279.21,663.55 L278.41,663.85 L279.18,664.23 L280.38,664.64 L281.85,665.07 L283.32,665.49 L284.52,665.90 L285.29,666.29 L284.49,666.59 L283.24,666.86 L281.73,667.11 L280.23,667.37 L278.98,667.64 L278.18,667.93 L278.94,668.32 L280.15,668.73 L281.62,669.16 L283.08,669.59 L284.29,670.00 L285.05,670.39 L284.25,670.68 L283.00,670.95 L281.50,671.21 L279.99,671.46 L278.74,671.73 L277.94,672.02 L278.70,672.41 L279.91,672.82 L281.37,673.25 L282.84,673.68 L284.05,674.10 L284.81,674.49 L284.00,674.78 L282.76,675.05 L281.25,675.30 L279.75,675.55 L278.50,675.82 L277.70,676.11 L278.46,676.50 L279.66,676.91 L281.13,677.34 L282.59,677.78 L283.80,678.19 L284.56,678.58 L283.75,678.88 L282.51,679.14 L281.00,679.39 L279.49,679.64 L278.25,679.90 L277.44,680.19 L278.20,680.58 L279.41,681.00 L280.87,681.44 L282.33,681.87 L283.54,682.29 L284.30,682.68 L283.50,682.97 L282.25,683.24 L280.74,683.48 L279.24,683.73 L277.99,683.99 L277.18,684.28 L277.94,684.67 L279.15,685.09 L280.61,685.53 L282.07,685.97 L283.28,686.39 L284.04,686.78 L283.23,687.07 L281.98,687.33 L280.48,687.57 L278.97,687.82 L277.72,688.08 L276.92,688.37 L277.68,688.76 L278.88,689.18 L280.34,689.62 L281.80,690.06 L283.01,690.48 L283.77,690.88 L282.96,691.16 L281.71,691.42 L280.21,691.66 L278.70,691.91 L277.45,692.16 L276.64,692.45 L277.40,692.84 L278.61,693.27 L280.07,693.71 L281.53,694.15 L282.73,694.58 L283.49,694.97 L282.68,695.26 L281.43,695.52 L279.93,695.76 L278.42,695.99 L277.17,696.25 L276.36,696.54 L277.12,696.93 L278.32,697.36 L279.78,697.80 L281.24,698.25 L282.45,698.67 L283.20,699.07 L282.40,699.35 L281.15,699.61 L279.64,699.85 L278.13,700.08 L276.88,700.33 L276.08,700.62 L276.83,701.02 L278.04,701.44 L279.49,701.89 L280.95,702.34 L282.16,702.77 L282.91,703.16 L282.11,703.45 L280.86,703.70 L279.35,703.93 L277.84,704.17 L276.59,704.42 L275.78,704.70 L276.54,705.10 L277.74,705.53 L279.20,705.98 L280.66,706.43 L281.86,706.86 L282.61,707.26 L281.81,707.54 L280.56,707.79 L279.05,708.02 L277.54,708.25 L276.29,708.50 L275.48,708.78 L276.24,709.18 L277.44,709.62 L278.89,710.07 L280.35,710.52 L281.55,710.95 L282.31,711.35 L281.50,711.64 L280.25,711.88 L278.74,712.11 L277.23,712.34 L275.98,712.59 L275.17,712.87 L275.92,713.27 L277.12,713.70 L278.58,714.16 L280.04,714.61 L281.24,715.05 L281.99,715.45 L281.18,715.73 L279.93,715.98 L278.42,716.20 L276.91,716.42 L275.66,716.67 L274.85,716.95 L275.61,717.35 L276.81,717.79 L278.26,718.24 L279.72,718.70 L280.92,719.14 L281.67,719.54 L280.86,719.82 L279.61,720.07 L278.10,720.29 L276.59,720.51 L275.34,720.75 L274.53,721.03 L275.28,721.43 L276.48,721.87 L277.93,722.33 L279.39,722.79 L280.59,723.24 L281.34,723.64 L280.53,723.92 L279.28,724.16 L277.76,724.37 L276.25,724.59 L275.00,724.82 L274.19,725.09 L274.94,725.50 L276.14,725.95 L277.59,726.42 L279.04,726.89 L280.23,727.34 L280.98,727.76 L280.17,728.03 L278.91,728.26 L277.40,728.46 L275.89,728.66 L274.63,728.88 L273.82,729.14 L274.57,729.55 L275.76,730.01 L277.20,730.50 L278.65,730.99 L279.83,731.46 L280.58,731.88 L279.76,732.14 L278.50,732.36 L276.99,732.54 L275.47,732.71 L274.21,732.91 L273.40,733.16 L274.13,733.58 L275.32,734.06 L276.75,734.57 L278.19,735.09 L279.37,735.58 L280.10,736.02 L279.28,736.27 L278.02,736.46 L276.50,736.61 L274.98,736.75 L273.72,736.92 L272.90,737.15 L273.63,737.59 L274.80,738.09 L276.22,738.64 L277.65,739.19 L278.81,739.71 L279.54,740.17 L278.71,740.40 L277.44,740.55 L275.92,740.67 L274.40,740.77 L273.13,740.91 L272.31,741.11 L273.02,741.57 L274.18,742.10 L275.59,742.69 L277.00,743.28 L278.15,743.84 L278.86,744.32 L278.02,744.52 L276.75,744.64 L275.23,744.71 L273.70,744.76 L272.43,744.86 L271.60,745.03 L272.30,745.51 L273.44,746.09 L274.83,746.72 L276.21,747.36 L277.34,747.96 L278.03,748.46 L277.19,748.64 L275.92,748.71 L274.39,748.72 L272.87,748.72 L271.59,748.76 L270.75,748.90 L271.44,749.41 L272.55,750.03 L273.91,750.71 L275.27,751.41 L276.38,752.06 L277.05,752.60 L276.20,752.74 L274.92,752.76 L273.39,752.70 L271.87,752.63 L270.60,752.62 L269.75,752.72 L270.41,753.25 L271.50,753.92 L272.83,754.67 L274.15,755.43 L275.22,756.13 L275.87,756.70 L275.01,756.80 L273.74,756.76 L272.21,756.62 L270.70,756.48 L269.42,756.40 L268.58,756.46 L269.21,757.02 L270.26,757.74 L271.55,758.56 L272.83,759.39 L273.86,760.15 L274.47,760.75 L273.61,760.81 L272.34,760.70 L270.83,760.48 L269.32,760.25 L268.06,760.10 L267.21,760.11 L267.81,760.71 L268.82,761.49 L270.05,762.38 L271.29,763.28 L272.27,764.10 L272.84,764.74 L271.98,764.75 L270.72,764.56 L269.22,764.25 L267.73,763.93 L266.48,763.71 L265.63,763.66 L266.19,764.30 L267.15,765.13 L268.33,766.10 L269.50,767.08 L270.44,767.95 L270.97,768.63 L270.11,768.59 L268.86,768.32 L267.38,767.92 L265.92,767.50 L264.68,767.19 L263.84,767.09 L264.36,767.76 L265.26,768.66 L266.37,769.70 L267.48,770.76 L268.35,771.69 L268.83,772.40 L267.98,772.30 L266.75,771.95 L265.31,771.45 L263.87,770.93 L262.66,770.54 L261.83,770.39 L262.30,771.09 L263.14,772.05 L264.18,773.16 L265.21,774.29 L266.02,775.28 L266.45,776.02 L265.61,775.86 L264.40,775.43 L263.00,774.84 L261.60,774.23 L260.42,773.76 L259.59,773.55 L260.02,774.28 L260.79,775.29 L261.76,776.47 L262.71,777.66 L263.45,778.71 L263.84,779.48 L263.00,779.26 L261.83,778.75 L260.47,778.06 L259.11,777.36 L257.96,776.81 L257.16,776.55 L257.54,777.31 L258.24,778.37 L259.12,779.61 L259.99,780.86 L260.66,781.96 L261.00,782.75 L260.18,782.48 L259.04,781.89 L257.73,781.11 L256.42,780.32 L255.31,779.69 L254.53,779.37 L254.85,780.16 L255.48,781.26 L256.28,782.56 L257.06,783.88 L257.66,785.01 L257.93,785.83 L257.13,785.50 L256.04,784.83 L254.78,783.96 L253.54,783.08 L252.48,782.38 L251.72,782.00 L251.99,782.81 L252.54,783.96 L253.24,785.31 L253.92,786.67 L254.43,787.85 L254.64,788.69 L253.87,788.30 L252.83,787.56 L251.64,786.60 L250.47,785.62 L249.46,784.85 L248.73,784.41 L248.94,785.23 L249.40,786.42 L250.00,787.82 L250.58,789.24 L250.99,790.45 L251.14,791.30 L250.40,790.85 L249.42,790.03 L248.31,788.98 L247.21,787.92 L246.27,787.06 L245.59,786.57 L245.73,787.40 L246.09,788.62 L246.57,790.07 L247.03,791.53 L247.34,792.77 L247.41,793.63 L246.71,793.12 L245.80,792.22 L244.79,791.08 L243.79,789.93 L242.93,788.99 L242.28,788.45 L242.35,789.29 L242.61,790.53 L242.96,792.02 L243.30,793.51 L243.50,794.77 L243.50,795.63 L242.85,795.07 L242.02,794.10 L241.10,792.88 L240.20,791.64 L239.42,790.64 L238.83,790.04 L238.83,790.89 L238.98,792.15 L239.21,793.66 L239.42,795.17 L239.52,796.45 L239.45,797.31 L238.84,796.69 L238.09,795.65 L237.28,794.36 L236.49,793.06 L235.79,791.99 L235.24,791.35 L235.17,792.19 L235.22,793.46 L235.33,794.98 L235.41,796.51 L235.41,797.79 L235.27,798.64 L234.72,797.98 L234.06,796.88 L233.35,795.53 L232.66,794.17 L232.05,793.05 L231.56,792.36 L231.42,793.20 L231.37,794.47 L231.36,795.99 L231.32,797.52 L231.22,798.80 L231.02,799.63 L230.51,798.93 L229.94,797.79 L229.34,796.38 L228.76,794.97 L228.24,793.81 L227.80,793.09 L227.60,793.91 L227.45,795.17 L227.32,796.69 L227.17,798.21 L226.97,799.48 L226.70,800.30 L226.26,799.56 L225.77,798.37 L225.28,796.93 L224.81,795.48 L224.37,794.28 L223.99,793.53 L223.73,794.33 L223.48,795.58 L223.24,797.09 L222.97,798.59 L222.68,799.84 L222.36,800.63 L221.97,799.87 L221.57,798.65 L221.19,797.17 L220.82,795.69 L220.48,794.46 L220.15,793.68 L219.83,794.47 L219.49,795.69 L219.14,797.18 L218.77,798.66 L218.39,799.88 L218.00,800.65 L217.67,799.86 L217.37,798.61 L217.09,797.11 L216.83,795.61 L216.58,794.36 L216.30,793.56 L215.93,794.32 L215.50,795.52 L215.05,796.97 L214.57,798.43 L214.10,799.62 L213.66,800.36 L213.39,799.54 L213.17,798.28 L213.01,796.76 L212.86,795.25 L212.69,793.98 L212.47,793.16 L212.04,793.89 L211.54,795.06 L210.98,796.48 L210.40,797.89 L209.85,799.05 L209.36,799.76 L209.14,798.93 L209.02,797.65 L208.96,796.13 L208.91,794.60 L208.83,793.33 L208.68,792.50 L208.20,793.20 L207.61,794.33 L206.95,795.70 L206.28,797.07 L205.65,798.19 L205.11,798.86 L204.95,798.02 L204.92,796.74 L204.96,795.21 L205.02,793.69 L205.03,792.41 L204.93,791.57 L204.41,792.23 L203.74,793.32 L202.99,794.65 L202.22,795.97 L201.52,797.04 L200.94,797.67 L200.84,796.82 L200.89,795.54 L201.04,794.02 L201.20,792.50 L201.30,791.23 L201.26,790.39 L200.69,791.01 L199.95,792.05 L199.11,793.32 L198.26,794.59 L197.48,795.61 L196.86,796.21 L196.82,795.35 L196.96,794.07 L197.21,792.57 L197.47,791.06 L197.65,789.80 L197.66,788.96 L197.05,789.54 L196.25,790.53 L195.33,791.75 L194.39,792.96 L193.55,793.92 L192.90,794.48 L192.91,793.62 L193.13,792.36 L193.47,790.87 L193.83,789.39 L194.09,788.14 L194.15,787.29 L193.51,787.84 L192.64,788.78 L191.65,789.93 L190.64,791.08 L189.75,792.00 L189.06,792.51 L189.12,791.65 L189.42,790.41 L189.86,788.94 L190.30,787.49 L190.64,786.26 L190.75,785.42 L190.07,785.92 L189.15,786.80 L188.09,787.90 L187.02,788.98 L186.07,789.84 L185.35,790.31 L185.47,789.46 L185.84,788.24 L186.36,786.80 L186.89,785.37 L187.30,784.17 L187.47,783.33 L186.76,783.80 L185.79,784.62 L184.66,785.65 L183.53,786.67 L182.53,787.47 L181.78,787.90 L181.95,787.06 L182.39,785.86 L183.00,784.46 L183.62,783.06 L184.09,781.88 L184.30,781.06 L183.57,781.48 L182.55,782.25 L181.37,783.21 L180.17,784.16 L179.13,784.90 L178.36,785.29 L178.58,784.46 L179.09,783.29 L179.78,781.92 L180.47,780.56 L181.02,779.41 L181.28,778.60 L180.52,778.98 L179.46,779.69 L178.22,780.58 L176.98,781.46 L175.89,782.14 L175.10,782.48 L175.37,781.67 L175.95,780.52 L176.71,779.20 L177.48,777.89 L178.09,776.77 L178.40,775.98 L177.62,776.31 L176.52,776.96 L175.24,777.78 L173.94,778.58 L172.82,779.20 L172.01,779.49 L172.32,778.69 L172.96,777.59 L173.80,776.31 L174.65,775.04 L175.33,773.96 L175.68,773.19 L174.88,773.48 L173.75,774.06 L172.42,774.80 L171.07,775.53 L169.92,776.08 L169.09,776.32 L169.45,775.54 L170.16,774.47 L171.07,773.25 L172.00,772.04 L172.73,771.00 L173.13,770.25 L172.32,770.49 L171.15,771.00 L169.78,771.66 L168.40,772.31 L167.21,772.79 L166.37,772.98 L166.78,772.22 L167.55,771.20 L168.53,770.03 L169.53,768.88 L170.33,767.89 L170.77,767.17 L169.95,767.36 L168.75,767.79 L167.34,768.37 L165.92,768.93 L164.70,769.33 L163.85,769.47 L164.31,768.74 L165.14,767.77 L166.19,766.67 L167.26,765.58 L168.12,764.64 L168.61,763.94 L167.77,764.08 L166.55,764.44 L165.10,764.93 L163.65,765.41 L162.42,765.73 L161.56,765.82 L162.06,765.12 L162.95,764.20 L164.07,763.16 L165.20,762.14 L166.11,761.25 L166.64,760.59 L165.79,760.67 L164.55,760.97 L163.08,761.37 L161.60,761.75 L160.35,762.01 L159.49,762.05 L160.03,761.38 L160.97,760.51 L162.15,759.54 L163.33,758.58 L164.29,757.75 L164.86,757.11 L164.01,757.15 L162.76,757.37 L161.26,757.69 L159.77,758.00 L158.50,758.19 L157.64,758.18 L158.22,757.54 L159.20,756.72 L160.43,755.82 L161.67,754.92 L162.67,754.14 L163.27,753.54 L162.42,753.53 L161.15,753.68 L159.65,753.92 L158.14,754.15 L156.86,754.27 L156.01,754.23 L156.61,753.62 L157.64,752.85 L158.91,752.01 L160.19,751.18 L161.23,750.44 L161.86,749.87 L161.01,749.82 L159.74,749.91 L158.22,750.08 L156.70,750.24 L155.42,750.30 L154.57,750.21 L155.20,749.63 L156.26,748.92 L157.58,748.14 L158.89,747.36 L159.96,746.68 L160.62,746.13 L159.77,746.04 L158.50,746.08 L156.97,746.18 L155.45,746.26 L154.17,746.27 L153.32,746.15 L153.98,745.60 L155.07,744.93 L156.41,744.20 L157.76,743.49 L158.86,742.85 L159.53,742.33 L158.69,742.20 L157.42,742.18 L155.89,742.22 L154.37,742.25 L153.09,742.20 L152.25,742.05 L152.93,741.52 L154.04,740.90 L155.41,740.23 L156.79,739.56 L157.91,738.97 L158.60,738.47 L157.77,738.31 L156.49,738.25 L154.97,738.23 L153.44,738.20 L152.17,738.11 L151.33,737.92 L152.03,737.42 L153.17,736.84 L154.56,736.22 L155.96,735.60 L157.10,735.04 L157.81,734.57 L156.98,734.38 L155.71,734.27 L154.18,734.20 L152.66,734.12 L151.39,733.99 L150.56,733.78 L151.27,733.30 L152.43,732.76 L153.84,732.18 L155.25,731.61 L156.42,731.08 L157.14,730.63 L156.31,730.42 L155.05,730.27 L153.53,730.16 L152.00,730.03 L150.74,729.86 L149.91,729.63 L150.64,729.17 L151.81,728.66 L153.24,728.13 L154.67,727.59 L155.85,727.10 L156.58,726.67 L155.76,726.43 L154.50,726.25 L152.98,726.09 L151.47,725.93 L150.20,725.73 L149.39,725.47 L150.13,725.04 L151.31,724.56 L152.75,724.06 L154.19,723.56 L155.38,723.09 L156.13,722.68 L155.31,722.43 L154.06,722.21 L152.54,722.02 L151.03,721.82 L149.77,721.59 L148.96,721.31 L149.71,720.90 L150.91,720.44 L152.36,719.97 L153.81,719.51 L155.01,719.07 L155.76,718.67 L154.95,718.40 L153.70,718.16 L152.19,717.93 L150.68,717.70 L149.43,717.44 L148.63,717.16 L149.38,716.75 L150.59,716.33 L152.05,715.89 L153.51,715.45 L154.72,715.03 L155.48,714.65 L154.68,714.36 L153.43,714.09 L151.92,713.84 L150.42,713.58 L149.17,713.31 L148.37,713.00 L149.13,712.62 L150.35,712.21 L151.81,711.79 L153.28,711.38 L154.50,710.98 L155.26,710.61 L154.46,710.31 L153.22,710.02 L151.72,709.74 L150.22,709.46 L148.98,709.17 L148.18,708.85 L148.95,708.48 L150.17,708.09 L151.64,707.70 L153.12,707.30 L154.34,706.92 L155.11,706.56 L154.31,706.25 L153.07,705.94 L151.58,705.65 L150.08,705.35 L148.84,705.04 L148.05,704.71 L148.82,704.35 L150.05,703.98 L151.52,703.60 L153.00,703.22 L154.23,702.86 L155.00,702.50 L154.21,702.18 L152.98,701.86 L151.48,701.55 L149.99,701.23 L148.75,700.91 L147.97,700.58 L148.74,700.22 L149.97,699.86 L151.45,699.50 L152.93,699.14 L154.16,698.78 L154.94,698.43 L154.15,698.10 L152.92,697.78 L151.43,697.45 L149.94,697.12 L148.70,696.79 L147.92,696.45 L148.70,696.10 L149.92,695.75 L151.41,695.40 L152.90,695.05 L154.12,694.70 L154.90,694.36 L154.12,694.02 L152.89,693.68 L151.40,693.35 L149.91,693.01 L148.68,692.67 L147.90,692.33 L148.68,691.99 L149.91,691.64 L151.39,691.30 L152.88,690.96 L154.11,690.61 L154.89,690.27 L154.11,689.93 L152.88,689.59 L151.39,689.25 L149.90,688.91 L148.68,688.57 L147.89,688.22 L148.68,687.88 L149.91,687.54 L151.39,687.20 L152.88,686.86 L154.11,686.52 L154.89,686.18 L154.11,685.83 L152.88,685.49 L151.39,685.15 L149.91,684.81 L148.68,684.46 L147.90,684.12 L148.68,683.78 L149.91,683.44 L151.40,683.10 L152.88,682.76 L154.11,682.42 L154.90,682.07 L154.11,681.73 L152.88,681.39 L151.40,681.05 L149.91,680.71 L148.68,680.37 L147.90,680.03 L148.68,679.69 L149.91,679.34 L151.39,679.00 L152.88,678.65 L154.11,678.31 L154.89,677.96 L154.11,677.62 L152.88,677.28 L151.39,676.95 L149.90,676.61 L148.67,676.28 L147.88,675.94 L148.66,675.60 L149.89,675.25 L151.38,674.90 L152.86,674.55 L154.09,674.19 L154.87,673.84 L154.08,673.51 L152.85,673.18 L151.36,672.85 L149.87,672.53 L148.63,672.20 L147.85,671.87 L148.62,671.52 L149.85,671.16 L151.33,670.80 L152.81,670.43 L154.04,670.07 L154.81,669.71 L154.02,669.38 L152.79,669.06 L151.29,668.75 L149.80,668.44 L148.56,668.13 L147.77,667.81 L148.54,667.45 L149.76,667.08 L151.24,666.70 L152.72,666.32 L153.94,665.94 L154.71,665.57 L153.92,665.25 L152.68,664.94 L151.18,664.65 L149.68,664.36 L148.44,664.07 L147.64,663.76 L148.41,663.39 L149.63,663.01 L151.10,662.60 L152.57,662.20 L153.78,661.80 L154.55,661.41 L153.75,661.10 L152.51,660.82 L151.00,660.56 L149.50,660.29" fill="none" stroke="#1a1a1a" stroke-width="1.05" stroke-linejoin="round"/>
<path d="M286.52,327.88 L286.50,328.91 L286.48,329.93 L286.45,330.96 L286.43,331.98 L286.40,333.01 L286.38,334.03 L286.36,335.06 L286.34,336.08 L286.31,337.11 L286.29,338.13 L286.27,339.16 L286.24,340.18 L286.22,341.21 L286.20,342.24 L286.18,343.26 L286.16,344.29 L286.14,345.31 L286.11,346.34 L286.09,347.36 L286.07,348.39 L286.05,349.41 L286.03,350.44 L286.01,351.46 L285.99,352.49 L285.97,353.51 L285.95,354.54 L285.93,355.56 L285.91,356.59 L285.89,357.62 L285.87,358.64 L285.85,359.67 L285.83,360.69 L285.81,361.72 L285.79,362.74 L285.78,363.77 L285.76,364.79 L285.74,365.82 L285.72,366.84 L285.70,367.87 L285.68,368.89 L285.67,369.92 L285.65,370.94 L285.63,371.97 L285.61,372.99 L285.59,374.02 L285.58,375.04 L285.56,376.07 L285.54,377.10 L285.53,378.12 L285.51,379.15 L285.49,380.17 L285.48,381.20 L285.46,382.22 L285.44,383.25 L285.43,384.27 L285.41,385.30 L285.39,386.32 L285.38,387.35 L285.36,388.37 L285.34,389.40 L285.33,390.42 L285.31,391.45 L285.30,392.47 L285.28,393.50 L285.27,394.52 L285.25,395.55 L285.24,396.57 L285.22,397.60 L285.20,398.62 L285.19,399.65 L285.17,400.67 L285.16,401.70 L285.14,402.72 L285.13,403.75 L285.11,404.77 L285.10,405.80 L285.09,406.83 L285.07,407.85 L285.06,408.88 L285.04,409.90 L285.03,410.93 L285.01,411.95 L285.00,412.98 L284.98,414.00 L284.97,415.03 L284.95,416.05 L284.94,417.08 L284.93,418.10 L284.91,419.13 L284.90,420.15 L284.88,421.18 L284.87,422.20 L284.86,423.23 L284.84,424.25 L284.83,425.28 L284.81,426.30 L284.80,427.33 L284.79,428.35 L284.77,429.38 L284.76,430.40 L284.74,431.43 L284.73,432.45 L284.72,433.48 L284.70,434.50 L284.69,435.53 L284.68,436.55 L284.66,437.58 L284.65,438.60 L284.63,439.63 L284.62,440.65 L284.61,441.67 L284.59,442.70 L284.58,443.72 L284.57,444.75 L284.55,445.77 L284.54,446.80 L284.52,447.82 L284.51,448.85 L284.50,449.87 L284.48,450.90 L284.47,451.92 L284.45,452.95 L284.44,453.97 L284.43,455.00 L284.41,456.02 L284.40,457.05 L284.38,458.07 L284.37,459.10 L284.36,460.12 L284.34,461.15 L284.33,462.17 L284.31,463.20 L284.30,464.22 L284.29,465.25 L284.27,466.27 L284.26,467.30 L284.24,468.32 L284.23,469.34 L284.21,470.37 L284.20,471.39 L284.18,472.42 L284.17,473.44 L284.15,474.47 L284.14,475.49 L284.12,476.52 L284.11,477.54 L284.09,478.57 L284.08,479.59 L284.06,480.62 L284.05,481.64 L284.03,482.67 L284.02,483.69 L284.00,484.71 L283.99,485.74 L283.97,486.76 L283.95,487.79 L283.94,488.81 L283.92,489.84 L283.91,490.86 L283.89,491.89 L283.87,492.91 L283.86,493.94 L283.84,494.96 L283.83,495.98 L283.81,497.01 L283.79,498.03 L283.77,499.06 L283.76,500.08 L283.74,501.11 L283.72,502.13 L283.71,503.16 L283.69,504.18 L283.67,505.20 L283.65,506.23 L283.64,507.25 L283.62,508.28 L283.60,509.30 L283.58,510.33 L283.56,511.35 L283.55,512.38 L283.53,513.40 L283.51,514.42 L283.49,515.45 L283.47,516.47 L283.45,517.50 L283.43,518.52 L283.41,519.55 L283.39,520.57 L283.37,521.60 L283.35,522.62 L283.33,523.64 L283.31,524.67 L283.29,525.69 L283.27,526.72 L283.25,527.74 L283.23,528.76 L283.21,529.79 L283.19,530.81 L283.17,531.84 L283.15,532.86 L283.13,533.89 L283.11,534.91 L283.08,535.93 L283.06,536.96 L283.04,537.98 L283.02,539.01 L282.99,540.03 L282.97,541.06 L282.95,542.08 L282.93,543.10 L282.90,544.13 L282.88,545.15 L282.86,546.18 L282.83,547.20 L282.81,548.22 L282.78,549.25 L282.76,550.27 L282.73,551.30 L282.71,552.32 L282.68,553.34 L282.66,554.37 L282.63,555.39 L282.61,556.42 L282.58,557.44 L282.56,558.46 L282.53,559.49 L282.50,560.51 L282.48,561.54 L282.45,562.56 L282.42,563.58 L282.40,564.61 L282.37,565.63 L282.34,566.65 L282.31,567.68 L282.28,568.70 L282.26,569.73 L282.23,570.75 L282.20,571.77 L282.17,572.80 L282.14,573.82 L282.11,574.85 L282.08,575.87 L282.05,576.89 L282.02,577.92 L281.99,578.94 L281.96,579.96 L281.93,580.99 L281.90,582.01 L281.86,583.03 L281.83,584.06 L281.80,585.08 L281.77,586.11 L281.74,587.13 L281.70,588.15 L281.67,589.18 L281.64,590.20 L281.60,591.22 L281.57,592.25 L281.53,593.27 L281.50,594.29 L281.46,595.32 L281.43,596.34 L281.39,597.36 L281.36,598.39 L281.32,599.41 L281.29,600.43 L281.25,601.46 L281.21,602.48 L281.18,603.50 L281.14,604.53 L281.10,605.55 L281.06,606.57 L281.02,607.60 L280.99,608.62 L280.95,609.64 L280.91,610.67 L280.87,611.69 L280.83,612.71 L280.79,613.74 L280.75,614.76 L280.71,615.78 L280.67,616.81 L280.63,617.83 L280.58,618.85 L280.54,619.88 L280.50,620.90 L280.46,621.92 L280.41,622.94 L280.37,623.97 L280.33,624.99 L280.28,626.01 L280.24,627.04 L280.20,628.06 L280.15,629.08 L280.10,630.10 L280.06,631.13 L280.01,632.15 L279.97,633.17 L279.92,634.20 L279.87,635.22 L279.83,636.24 L279.78,637.26 L279.73,638.29 L279.68,639.31 L279.63,640.33 L279.59,641.35 L279.54,642.38 L279.49,643.40 L279.44,644.42 L279.39,645.45 L279.33,646.47 L279.28,647.49 L279.23,648.51 L279.18,649.53 L279.13,650.56 L279.07,651.58 L279.02,652.60 L278.97,653.62 L278.91,654.65 L278.86,655.67 L278.81,656.69 L278.75,657.71 L278.70,658.74 L278.64,659.76 L278.58,660.78 L278.53,661.80 L278.47,662.82 L278.41,663.85 L278.36,664.87 L278.30,665.89 L278.24,666.91 L278.18,667.93 L278.12,668.96 L278.06,669.98 L278.00,671.00 L277.94,672.02 L277.88,673.04 L277.82,674.06 L277.76,675.09 L277.70,676.11 L277.63,677.13 L277.57,678.15 L277.51,679.17 L277.44,680.19 L277.38,681.22 L277.31,682.24 L277.25,683.26 L277.18,684.28 L277.12,685.30 L277.05,686.32 L276.98,687.34 L276.92,688.37 L276.85,689.39 L276.78,690.41 L276.71,691.43 L276.64,692.45 L276.57,693.47 L276.50,694.49 L276.43,695.51 L276.36,696.54 L276.29,697.56 L276.22,698.58 L276.15,699.60 L276.08,700.62 L276.00,701.64 L275.93,702.66 L275.86,703.68 L275.78,704.70 L275.71,705.72 L275.63,706.74 L275.56,707.76 L275.48,708.78 L275.40,709.81 L275.33,710.83 L275.25,711.85 L275.17,712.87 L275.09,713.89 L275.01,714.91 L274.93,715.93 L274.85,716.95 L274.77,717.97 L274.69,718.99 L274.61,720.01 L274.53,721.03 L274.45,722.05 L274.36,723.06 L274.28,724.08 L274.19,725.09 L274.10,726.11 L274.01,727.12 L273.92,728.13 L273.82,729.14 L273.72,730.15 L273.62,731.15 L273.51,732.16 L273.40,733.16 L273.28,734.16 L273.16,735.16 L273.03,736.16 L272.90,737.15 L272.76,738.14 L272.61,739.14 L272.46,740.13 L272.31,741.11 L272.14,742.10 L271.97,743.08 L271.79,744.06 L271.60,745.03 L271.40,746.01 L271.19,746.98 L270.98,747.94 L270.75,748.90 L270.52,749.86 L270.27,750.82 L270.02,751.77 L269.75,752.72 L269.48,753.66 L269.19,754.60 L268.89,755.53 L268.58,756.46 L268.25,757.38 L267.92,758.30 L267.57,759.21 L267.21,760.11 L266.83,761.01 L266.45,761.90 L266.05,762.78 L265.63,763.66 L265.20,764.53 L264.76,765.39 L264.31,766.24 L263.84,767.09 L263.36,767.93 L262.86,768.76 L262.35,769.58 L261.83,770.39 L261.29,771.19 L260.74,771.98 L260.17,772.77 L259.59,773.55 L259.00,774.31 L258.40,775.07 L257.79,775.81 L257.16,776.55 L256.52,777.27 L255.87,777.98 L255.21,778.68 L254.53,779.37 L253.84,780.05 L253.15,780.72 L252.44,781.37 L251.72,782.00 L250.99,782.63 L250.25,783.24 L249.50,783.83 L248.73,784.41 L247.96,784.98 L247.18,785.52 L246.39,786.05 L245.59,786.57 L244.78,787.06 L243.95,787.54 L243.12,788.00 L242.28,788.45 L241.43,788.87 L240.57,789.28 L239.70,789.67 L238.83,790.04 L237.94,790.39 L237.05,790.73 L236.15,791.05 L235.24,791.35 L234.33,791.63 L233.41,791.89 L232.49,792.14 L231.56,792.36 L230.63,792.57 L229.69,792.76 L228.75,792.93 L227.80,793.09 L226.85,793.23 L225.90,793.34 L224.95,793.44 L223.99,793.53 L223.03,793.59 L222.07,793.64 L221.11,793.67 L220.15,793.68 L219.19,793.68 L218.23,793.66 L217.26,793.62 L216.30,793.56 L215.34,793.49 L214.39,793.40 L213.43,793.29 L212.47,793.16 L211.52,793.02 L210.57,792.87 L209.62,792.69 L208.68,792.50 L207.73,792.29 L206.80,792.07 L205.86,791.83 L204.93,791.57 L204.01,791.30 L203.09,791.01 L202.17,790.71 L201.26,790.39 L200.35,790.05 L199.45,789.70 L198.55,789.34 L197.66,788.96 L196.78,788.56 L195.90,788.15 L195.02,787.73 L194.15,787.29 L193.30,786.85 L192.44,786.38 L191.59,785.91 L190.75,785.42 L189.92,784.92 L189.09,784.40 L188.28,783.87 L187.47,783.33 L186.66,782.78 L185.87,782.22 L185.08,781.65 L184.30,781.06 L183.54,780.46 L182.77,779.85 L182.02,779.24 L181.28,778.60 L180.55,777.96 L179.82,777.31 L179.11,776.65 L178.40,775.98 L177.70,775.30 L177.02,774.60 L176.34,773.90 L175.68,773.19 L175.03,772.47 L174.39,771.74 L173.75,771.00 L173.13,770.25 L172.53,769.49 L171.93,768.73 L171.34,767.95 L170.77,767.17 L170.21,766.37 L169.67,765.57 L169.13,764.76 L168.61,763.94 L168.10,763.11 L167.60,762.28 L167.11,761.44 L166.64,760.59 L166.17,759.73 L165.72,758.86 L165.28,757.99 L164.86,757.11 L164.44,756.23 L164.04,755.34 L163.65,754.44 L163.27,753.54 L162.90,752.63 L162.54,751.71 L162.19,750.79 L161.86,749.87 L161.53,748.94 L161.21,748.01 L160.91,747.07 L160.62,746.13 L160.33,745.18 L160.06,744.24 L159.79,743.28 L159.53,742.33 L159.29,741.37 L159.05,740.40 L158.82,739.44 L158.60,738.47 L158.39,737.50 L158.19,736.52 L157.99,735.55 L157.81,734.57 L157.63,733.59 L157.46,732.61 L157.29,731.62 L157.14,730.63 L156.99,729.64 L156.85,728.66 L156.71,727.66 L156.58,726.67 L156.46,725.67 L156.34,724.68 L156.23,723.68 L156.13,722.68 L156.03,721.68 L155.93,720.68 L155.84,719.68 L155.76,718.67 L155.68,717.67 L155.61,716.66 L155.54,715.66 L155.48,714.65 L155.42,713.64 L155.36,712.63 L155.31,711.62 L155.26,710.61 L155.22,709.60 L155.18,708.59 L155.14,707.57 L155.11,706.56 L155.08,705.55 L155.05,704.53 L155.02,703.52 L155.00,702.50 L154.98,701.49 L154.96,700.47 L154.95,699.45 L154.94,698.43 L154.93,697.41 L154.92,696.40 L154.91,695.38 L154.90,694.36 L154.90,693.34 L154.90,692.31 L154.89,691.29 L154.89,690.27 L154.89,689.25 L154.89,688.23 L154.89,687.20 L154.89,686.18 L154.89,685.15 L154.90,684.13 L154.90,683.10 L154.90,682.07 L154.90,681.05 L154.90,680.02 L154.89,678.99 L154.89,677.96 L154.89,676.93 L154.88,675.90 L154.88,674.87 L154.87,673.84 L154.86,672.81 L154.84,671.78 L154.83,670.74 L154.81,669.71 L154.79,668.68 L154.77,667.64 L154.74,666.60 L154.71,665.57 L154.68,664.53 L154.64,663.49 L154.60,662.45 L154.55,661.41 L154.50,660.37" fill="none" stroke="#666" stroke-width="0.6"/>
<path d="M293.52,328.05 L293.50,329.07 L293.47,330.10 L293.45,331.12 L293.43,332.14 L293.40,333.17 L293.38,334.19 L293.36,335.22 L293.33,336.24 L293.31,337.26 L293.29,338.29 L293.27,339.31 L293.24,340.34 L293.22,341.36 L293.20,342.38 L293.18,343.41 L293.16,344.43 L293.13,345.46 L293.11,346.48 L293.09,347.51 L293.07,348.53 L293.05,349.55 L293.03,350.58 L293.01,351.60 L292.99,352.63 L292.97,353.65 L292.95,354.68 L292.93,355.70 L292.91,356.72 L292.89,357.75 L292.87,358.77 L292.85,359.80 L292.83,360.82 L292.81,361.85 L292.79,362.87 L292.77,363.89 L292.76,364.92 L292.74,365.94 L292.72,366.97 L292.70,367.99 L292.68,369.02 L292.66,370.04 L292.65,371.07 L292.63,372.09 L292.61,373.11 L292.59,374.14 L292.58,375.16 L292.56,376.19 L292.54,377.21 L292.52,378.24 L292.51,379.26 L292.49,380.29 L292.47,381.31 L292.46,382.33 L292.44,383.36 L292.42,384.38 L292.41,385.41 L292.39,386.43 L292.38,387.46 L292.36,388.48 L292.34,389.51 L292.33,390.53 L292.31,391.56 L292.30,392.58 L292.28,393.60 L292.27,394.63 L292.25,395.65 L292.23,396.68 L292.22,397.70 L292.20,398.73 L292.19,399.75 L292.17,400.78 L292.16,401.80 L292.14,402.83 L292.13,403.85 L292.11,404.88 L292.10,405.90 L292.08,406.93 L292.07,407.95 L292.06,408.97 L292.04,410.00 L292.03,411.02 L292.01,412.05 L292.00,413.07 L291.98,414.10 L291.97,415.12 L291.95,416.15 L291.94,417.17 L291.93,418.20 L291.91,419.22 L291.90,420.25 L291.88,421.27 L291.87,422.30 L291.86,423.32 L291.84,424.35 L291.83,425.37 L291.81,426.40 L291.80,427.42 L291.79,428.45 L291.77,429.47 L291.76,430.50 L291.74,431.52 L291.73,432.54 L291.72,433.57 L291.70,434.59 L291.69,435.62 L291.68,436.64 L291.66,437.67 L291.65,438.69 L291.63,439.72 L291.62,440.74 L291.61,441.77 L291.59,442.79 L291.58,443.82 L291.56,444.84 L291.55,445.87 L291.54,446.89 L291.52,447.92 L291.51,448.94 L291.50,449.97 L291.48,450.99 L291.47,452.02 L291.45,453.04 L291.44,454.07 L291.43,455.09 L291.41,456.12 L291.40,457.14 L291.38,458.17 L291.37,459.19 L291.36,460.22 L291.34,461.24 L291.33,462.27 L291.31,463.29 L291.30,464.32 L291.28,465.34 L291.27,466.37 L291.26,467.39 L291.24,468.42 L291.23,469.44 L291.21,470.47 L291.20,471.49 L291.18,472.52 L291.17,473.54 L291.15,474.57 L291.14,475.59 L291.12,476.62 L291.11,477.64 L291.09,478.67 L291.08,479.70 L291.06,480.72 L291.05,481.75 L291.03,482.77 L291.02,483.80 L291.00,484.82 L290.99,485.85 L290.97,486.87 L290.95,487.90 L290.94,488.92 L290.92,489.95 L290.91,490.97 L290.89,492.00 L290.87,493.02 L290.86,494.05 L290.84,495.07 L290.82,496.10 L290.81,497.12 L290.79,498.15 L290.77,499.17 L290.76,500.20 L290.74,501.22 L290.72,502.25 L290.71,503.27 L290.69,504.30 L290.67,505.32 L290.65,506.35 L290.64,507.38 L290.62,508.40 L290.60,509.43 L290.58,510.45 L290.56,511.48 L290.54,512.50 L290.53,513.53 L290.51,514.55 L290.49,515.58 L290.47,516.60 L290.45,517.63 L290.43,518.65 L290.41,519.68 L290.39,520.70 L290.37,521.73 L290.35,522.75 L290.33,523.78 L290.31,524.81 L290.29,525.83 L290.27,526.86 L290.25,527.88 L290.23,528.91 L290.21,529.93 L290.19,530.96 L290.17,531.98 L290.15,533.01 L290.13,534.03 L290.10,535.06 L290.08,536.08 L290.06,537.11 L290.04,538.13 L290.02,539.16 L289.99,540.19 L289.97,541.21 L289.95,542.24 L289.92,543.26 L289.90,544.29 L289.88,545.31 L289.85,546.34 L289.83,547.36 L289.81,548.39 L289.78,549.41 L289.76,550.44 L289.73,551.46 L289.71,552.49 L289.68,553.52 L289.66,554.54 L289.63,555.57 L289.61,556.59 L289.58,557.62 L289.55,558.64 L289.53,559.67 L289.50,560.69 L289.48,561.72 L289.45,562.74 L289.42,563.77 L289.39,564.79 L289.37,565.82 L289.34,566.85 L289.31,567.87 L289.28,568.90 L289.25,569.92 L289.22,570.95 L289.20,571.97 L289.17,573.00 L289.14,574.02 L289.11,575.05 L289.08,576.07 L289.05,577.10 L289.02,578.12 L288.99,579.15 L288.96,580.18 L288.92,581.20 L288.89,582.23 L288.86,583.25 L288.83,584.28 L288.80,585.30 L288.76,586.33 L288.73,587.35 L288.70,588.38 L288.67,589.40 L288.63,590.43 L288.60,591.45 L288.56,592.48 L288.53,593.51 L288.50,594.53 L288.46,595.56 L288.43,596.58 L288.39,597.61 L288.35,598.63 L288.32,599.66 L288.28,600.68 L288.25,601.71 L288.21,602.73 L288.17,603.76 L288.13,604.78 L288.10,605.81 L288.06,606.83 L288.02,607.86 L287.98,608.89 L287.94,609.91 L287.90,610.94 L287.86,611.96 L287.82,612.99 L287.78,614.01 L287.74,615.04 L287.70,616.06 L287.66,617.09 L287.62,618.11 L287.58,619.14 L287.54,620.16 L287.49,621.19 L287.45,622.21 L287.41,623.24 L287.36,624.26 L287.32,625.29 L287.28,626.31 L287.23,627.34 L287.19,628.36 L287.14,629.39 L287.10,630.42 L287.05,631.44 L287.01,632.47 L286.96,633.49 L286.91,634.52 L286.87,635.54 L286.82,636.57 L286.77,637.59 L286.72,638.62 L286.67,639.64 L286.63,640.67 L286.58,641.69 L286.53,642.72 L286.48,643.74 L286.43,644.77 L286.38,645.79 L286.33,646.82 L286.27,647.84 L286.22,648.87 L286.17,649.89 L286.12,650.92 L286.07,651.94 L286.01,652.97 L285.96,653.99 L285.91,655.02 L285.85,656.04 L285.80,657.07 L285.74,658.09 L285.69,659.12 L285.63,660.14 L285.57,661.16 L285.52,662.19 L285.46,663.21 L285.40,664.24 L285.34,665.26 L285.29,666.29 L285.23,667.31 L285.17,668.34 L285.11,669.36 L285.05,670.39 L284.99,671.41 L284.93,672.44 L284.87,673.46 L284.81,674.49 L284.74,675.51 L284.68,676.53 L284.62,677.56 L284.56,678.58 L284.49,679.61 L284.43,680.63 L284.36,681.66 L284.30,682.68 L284.23,683.71 L284.17,684.73 L284.10,685.75 L284.04,686.78 L283.97,687.80 L283.90,688.83 L283.83,689.85 L283.77,690.88 L283.70,691.90 L283.63,692.92 L283.56,693.95 L283.49,694.97 L283.42,696.00 L283.35,697.02 L283.28,698.04 L283.20,699.07 L283.13,700.09 L283.06,701.12 L282.99,702.14 L282.91,703.16 L282.84,704.19 L282.76,705.21 L282.69,706.24 L282.61,707.26 L282.54,708.28 L282.46,709.31 L282.38,710.33 L282.31,711.35 L282.23,712.38 L282.15,713.40 L282.07,714.43 L281.99,715.45 L281.91,716.47 L281.83,717.50 L281.75,718.52 L281.67,719.54 L281.59,720.57 L281.51,721.59 L281.42,722.62 L281.34,723.64 L281.25,724.67 L281.16,725.70 L281.07,726.73 L280.98,727.76 L280.89,728.79 L280.79,729.82 L280.68,730.85 L280.58,731.88 L280.47,732.92 L280.35,733.95 L280.23,734.99 L280.10,736.02 L279.97,737.06 L279.83,738.10 L279.69,739.13 L279.54,740.17 L279.38,741.21 L279.21,742.24 L279.04,743.28 L278.86,744.32 L278.67,745.36 L278.46,746.39 L278.25,747.43 L278.03,748.46 L277.80,749.50 L277.56,750.53 L277.31,751.56 L277.05,752.60 L276.77,753.62 L276.48,754.65 L276.18,755.68 L275.87,756.70 L275.54,757.72 L275.20,758.73 L274.84,759.74 L274.47,760.75 L274.09,761.76 L273.69,762.76 L273.27,763.75 L272.84,764.74 L272.40,765.72 L271.94,766.70 L271.46,767.67 L270.97,768.63 L270.46,769.59 L269.93,770.54 L269.39,771.48 L268.83,772.40 L268.26,773.33 L267.67,774.24 L267.07,775.14 L266.45,776.02 L265.82,776.90 L265.17,777.77 L264.51,778.63 L263.84,779.48 L263.15,780.31 L262.44,781.14 L261.73,781.95 L261.00,782.75 L260.25,783.54 L259.49,784.31 L258.72,785.08 L257.93,785.83 L257.13,786.56 L256.31,787.29 L255.49,787.99 L254.64,788.69 L253.79,789.36 L252.92,790.02 L252.03,790.67 L251.14,791.30 L250.23,791.91 L249.30,792.50 L248.36,793.07 L247.41,793.63 L246.45,794.16 L245.48,794.67 L244.50,795.16 L243.50,795.63 L242.50,796.08 L241.49,796.51 L240.47,796.92 L239.45,797.31 L238.41,797.67 L237.37,798.01 L236.33,798.34 L235.27,798.64 L234.22,798.92 L233.15,799.18 L232.09,799.42 L231.02,799.63 L229.94,799.83 L228.86,800.01 L227.78,800.16 L226.70,800.30 L225.62,800.41 L224.53,800.51 L223.44,800.58 L222.36,800.63 L221.27,800.67 L220.18,800.68 L219.09,800.68 L218.00,800.65 L216.92,800.61 L215.83,800.54 L214.75,800.46 L213.66,800.36 L212.59,800.24 L211.51,800.10 L210.43,799.94 L209.36,799.76 L208.29,799.56 L207.23,799.35 L206.17,799.11 L205.11,798.86 L204.06,798.59 L203.01,798.30 L201.97,798.00 L200.94,797.67 L199.91,797.33 L198.89,796.97 L197.87,796.60 L196.86,796.21 L195.86,795.80 L194.87,795.37 L193.88,794.93 L192.90,794.48 L191.93,794.01 L190.96,793.52 L190.00,793.02 L189.06,792.51 L188.12,791.98 L187.19,791.44 L186.26,790.88 L185.35,790.31 L184.44,789.73 L183.55,789.14 L182.66,788.53 L181.78,787.90 L180.91,787.27 L180.05,786.62 L179.20,785.96 L178.36,785.29 L177.53,784.61 L176.71,783.91 L175.90,783.20 L175.10,782.48 L174.31,781.75 L173.53,781.01 L172.77,780.26 L172.01,779.49 L171.26,778.72 L170.53,777.93 L169.81,777.13 L169.09,776.32 L168.40,775.50 L167.71,774.67 L167.03,773.83 L166.37,772.98 L165.72,772.12 L165.09,771.25 L164.46,770.36 L163.85,769.47 L163.26,768.57 L162.68,767.67 L162.11,766.75 L161.56,765.82 L161.02,764.89 L160.50,763.95 L159.99,763.01 L159.49,762.05 L159.01,761.09 L158.54,760.13 L158.08,759.16 L157.64,758.18 L157.21,757.20 L156.80,756.21 L156.40,755.22 L156.01,754.23 L155.63,753.23 L155.26,752.23 L154.91,751.22 L154.57,750.21 L154.24,749.20 L153.92,748.18 L153.62,747.17 L153.32,746.15 L153.04,745.13 L152.76,744.10 L152.50,743.07 L152.25,742.05 L152.00,741.02 L151.77,739.99 L151.55,738.95 L151.33,737.92 L151.12,736.89 L150.93,735.85 L150.74,734.82 L150.56,733.78 L150.39,732.74 L150.22,731.70 L150.06,730.67 L149.91,729.63 L149.77,728.59 L149.64,727.55 L149.51,726.51 L149.39,725.47 L149.27,724.43 L149.16,723.39 L149.06,722.35 L148.96,721.31 L148.87,720.27 L148.78,719.23 L148.70,718.19 L148.63,717.16 L148.56,716.12 L148.49,715.08 L148.43,714.04 L148.37,713.00 L148.32,711.96 L148.27,710.93 L148.22,709.89 L148.18,708.85 L148.14,707.82 L148.11,706.78 L148.08,705.75 L148.05,704.71 L148.03,703.68 L148.00,702.64 L147.98,701.61 L147.97,700.58 L147.95,699.55 L147.94,698.51 L147.93,697.48 L147.92,696.45 L147.91,695.42 L147.90,694.39 L147.90,693.36 L147.90,692.33 L147.89,691.30 L147.89,690.28 L147.89,689.25 L147.89,688.22 L147.89,687.20 L147.89,686.17 L147.89,685.15 L147.90,684.12 L147.90,683.10 L147.90,682.07 L147.90,681.05 L147.90,680.03 L147.89,679.01 L147.89,677.98 L147.89,676.96 L147.88,675.94 L147.88,674.92 L147.87,673.91 L147.86,672.89 L147.85,671.87 L147.83,670.85 L147.81,669.84 L147.79,668.82 L147.77,667.81 L147.74,666.80 L147.71,665.78 L147.68,664.77 L147.64,663.76 L147.60,662.75 L147.56,661.74 L147.51,660.74" fill="none" stroke="#666" stroke-width="0.6"/>
<path d="M505.20,327.98 L505.20,329.00 L505.19,330.03 L505.18,331.05 L505.17,332.08 L505.17,333.11 L505.16,334.13 L505.15,335.16 L505.14,336.18 L505.14,337.21 L505.13,338.23 L505.12,339.26 L505.12,340.28 L505.11,341.31 L505.10,342.33 L505.10,343.36 L505.09,344.38 L505.09,345.41 L505.08,346.43 L505.07,347.46 L505.07,348.49 L505.06,349.51 L505.06,350.54 L505.05,351.56 L505.05,352.59 L505.04,353.61 L505.04,354.64 L505.03,355.66 L505.03,356.69 L505.02,357.71 L505.02,358.74 L505.01,359.76 L505.01,360.79 L505.00,361.81 L505.00,362.84 L504.99,363.87 L504.99,364.89 L504.99,365.92 L504.98,366.94 L504.98,367.97 L504.97,368.99 L504.97,370.02 L504.97,371.04 L504.96,372.07 L504.96,373.09 L504.96,374.12 L504.95,375.14 L504.95,376.17 L504.95,377.19 L504.94,378.22 L504.94,379.24 L504.94,380.27 L504.94,381.30 L504.93,382.32 L504.93,383.35 L504.93,384.37 L504.93,385.40 L504.92,386.42 L504.92,387.45 L504.92,388.47 L504.92,389.50 L504.91,390.52 L504.91,391.55 L504.91,392.57 L504.91,393.60 L504.91,394.62 L504.91,395.65 L504.90,396.67 L504.90,397.70 L504.90,398.72 L504.90,399.75 L504.90,400.78 L504.90,401.80 L504.90,402.83 L504.89,403.85 L504.89,404.88 L504.89,405.90 L504.89,406.93 L504.89,407.95 L504.89,408.98 L504.89,410.00 L504.89,411.03 L504.89,412.05 L504.89,413.08 L504.89,414.10 L504.89,415.13 L504.88,416.15 L504.88,417.18 L504.88,418.20 L504.88,419.23 L504.88,420.25 L504.88,421.28 L504.88,422.30 L504.88,423.33 L504.88,424.35 L504.88,425.38 L504.88,426.41 L504.88,427.43 L504.88,428.46 L504.88,429.48 L504.88,430.51 L504.88,431.53 L504.88,432.56 L504.88,433.58 L504.89,434.61 L504.89,435.63 L504.89,436.66 L504.89,437.68 L504.89,438.71 L504.89,439.73 L504.89,440.76 L504.89,441.78 L504.89,442.81 L504.89,443.83 L504.89,444.86 L504.89,445.88 L504.89,446.91 L504.89,447.93 L504.90,448.96 L504.90,449.98 L504.90,451.01 L504.90,452.03 L504.90,453.06 L504.90,454.08 L504.90,455.11 L504.90,456.13 L504.90,457.16 L504.90,458.18 L504.91,459.21 L504.91,460.23 L504.91,461.26 L504.91,462.28 L504.91,463.31 L504.91,464.33 L504.91,465.36 L504.91,466.38 L504.92,467.41 L504.92,468.43 L504.92,469.46 L504.92,470.48 L504.92,471.51 L504.92,472.53 L504.92,473.56 L504.93,474.58 L504.93,475.61 L504.93,476.63 L504.93,477.66 L504.93,478.68 L504.93,479.71 L504.94,480.73 L504.94,481.76 L504.94,482.78 L504.94,483.81 L504.94,484.83 L504.94,485.86 L504.94,486.89 L504.95,487.91 L504.95,488.94 L504.95,489.96 L504.95,490.99 L504.95,492.01 L504.95,493.04 L504.96,494.06 L504.96,495.08 L504.96,496.11 L504.96,497.13 L504.96,498.16 L504.96,499.18 L504.96,500.21 L504.97,501.23 L504.97,502.26 L504.97,503.28 L504.97,504.31 L504.97,505.33 L504.97,506.36 L504.98,507.38 L504.98,508.41 L504.98,509.43 L504.98,510.46 L504.98,511.48 L504.98,512.51 L504.98,513.53 L504.99,514.56 L504.99,515.58 L504.99,516.61 L504.99,517.63 L504.99,518.66 L504.99,519.68 L504.99,520.71 L504.99,521.73 L505.00,522.76 L505.00,523.78 L505.00,524.81 L505.00,525.83 L505.00,526.86 L505.00,527.88 L505.00,528.91 L505.00,529.93 L505.00,530.96 L505.01,531.98 L505.01,533.01 L505.01,534.03 L505.01,535.06 L505.01,536.08 L505.01,537.11 L505.01,538.13 L505.01,539.16 L505.01,540.18 L505.01,541.21 L505.01,542.23 L505.01,543.26 L505.01,544.28 L505.01,545.31 L505.02,546.33 L505.02,547.36 L505.02,548.38 L505.02,549.41 L505.02,550.43 L505.02,551.46 L505.02,552.48 L505.02,553.51 L505.02,554.53 L505.02,555.55 L505.02,556.58 L505.02,557.60 L505.02,558.63 L505.02,559.65 L505.02,560.68 L505.02,561.70 L505.02,562.73 L505.02,563.75 L505.02,564.78 L505.02,565.80 L505.02,566.83 L505.01,567.85 L505.01,568.88 L505.01,569.90 L505.01,570.93 L505.01,571.95 L505.01,572.98 L505.01,574.00 L505.01,575.03 L505.01,576.05 L505.01,577.08 L505.01,578.10 L505.00,579.13 L505.00,580.15 L505.00,581.17 L505.00,582.20 L505.00,583.22 L505.00,584.25 L505.00,585.27 L504.99,586.30 L504.99,587.32 L504.99,588.35 L504.99,589.37 L504.99,590.40 L504.99,591.42 L504.98,592.45 L504.98,593.47 L504.98,594.50 L504.98,595.52 L504.97,596.55 L504.97,597.57 L504.97,598.60 L504.97,599.62 L504.96,600.65 L504.96,601.67 L504.96,602.69 L504.95,603.72 L504.95,604.74 L504.95,605.77 L504.95,606.79 L504.94,607.82 L504.94,608.84 L504.94,609.87 L504.93,610.89 L504.93,611.92 L504.92,612.94 L504.92,613.97 L504.92,614.99 L504.91,616.02 L504.91,617.04 L504.90,618.06 L504.90,619.09 L504.90,620.11 L504.89,621.14 L504.89,622.16 L504.88,623.19 L504.88,624.21 L504.87,625.24 L504.87,626.26 L504.86,627.29 L504.86,628.31 L504.85,629.34 L504.85,630.36 L504.84,631.39 L504.84,632.41 L504.83,633.43 L504.82,634.46 L504.82,635.48 L504.81,636.51 L504.81,637.53 L504.80,638.56 L504.79,639.58 L504.79,640.61 L504.78,641.63 L504.77,642.66 L504.77,643.68 L504.76,644.71 L504.75,645.73 L504.75,646.75 L504.74,647.78 L504.73,648.80 L504.72,649.83 L504.72,650.85 L504.71,651.88 L504.70,652.90 L504.69,653.93 L504.68,654.95 L504.68,655.98 L504.67,657.00 L504.66,658.02 L504.65,659.05 L504.64,660.07 L504.63,661.10 L504.62,662.12 L504.62,663.15 L504.61,664.17 L504.60,665.20 L504.59,666.22 L504.58,667.25 L504.57,668.27 L504.56,669.29 L504.55,670.32 L504.54,671.34 L504.53,672.37 L504.52,673.39 L504.51,674.42 L504.50,675.44 L504.49,676.47 L504.48,677.49 L504.46,678.51 L504.45,679.54 L504.44,680.56 L504.43,681.59 L504.42,682.61 L504.41,683.64 L504.40,684.66 L504.38,685.69 L504.37,686.71 L504.36,687.73 L504.35,688.76 L504.33,689.78 L504.32,690.81 L504.31,691.83 L504.29,692.86 L504.28,693.88 L504.27,694.91 L504.25,695.93 L504.24,696.95 L504.23,697.98 L504.21,699.00 L504.20,700.03 L504.18,701.05 L504.17,702.08 L504.16,703.10 L504.14,704.13 L504.13,705.15 L504.11,706.17 L504.10,707.20 L504.08,708.22 L504.07,709.25 L504.05,710.27 L504.03,711.30 L504.02,712.32 L504.00,713.34 L503.98,714.37 L503.97,715.39 L503.95,716.42 L503.93,717.44 L503.92,718.47 L503.90,719.49 L503.88,720.51 L503.87,721.54 L503.85,722.56 L503.83,723.59 L503.81,724.61 L503.79,725.64 L503.78,726.66 L503.76,727.68 L503.74,728.71 L503.72,729.73 L503.70,730.76 L503.68,731.78 L503.66,732.80 L503.64,733.83 L503.62,734.85 L503.60,735.88 L503.58,736.90 L503.56,737.93 L503.54,738.95 L503.52,739.97 L503.50,741.00 L503.48,742.02 L503.46,743.05 L503.44,744.07 L503.41,745.09 L503.39,746.12 L503.37,747.14 L503.35,748.17 L503.32,749.19 L503.30,750.22 L503.28,751.24 L503.26,752.26 L503.23,753.28 L503.21,754.31 L503.18,755.33 L503.16,756.35 L503.13,757.37 L503.10,758.39 L503.07,759.41 L503.04,760.43 L503.00,761.44 L502.97,762.46 L502.93,763.48 L502.89,764.49 L502.85,765.51 L502.80,766.52 L502.75,767.54 L502.70,768.55 L502.65,769.57 L502.59,770.58 L502.53,771.59 L502.47,772.60 L502.40,773.61 L502.33,774.62 L502.26,775.63 L502.18,776.64 L502.10,777.64 L502.01,778.65 L501.92,779.66 L501.82,780.66 L501.73,781.67 L501.62,782.67 L501.51,783.67 L501.40,784.68 L501.28,785.69 L501.16,786.70 L501.04,787.72 L500.92,788.75 L500.81,789.78 L500.69,790.82 L500.59,791.85 L500.48,792.89 L500.39,793.93 L500.30,794.96 L500.21,795.98 L500.12,797.00 L500.03,798.01 L499.93,799.02 L499.83,800.00 L499.72,800.94 L499.61,801.72 L505.96,801.67 L505.88,801.20 L505.76,800.30 L505.64,799.33 L505.54,798.34 L505.43,797.34 L505.34,796.34 L505.25,795.32 L505.15,794.31 L505.06,793.29 L504.97,792.27 L504.88,791.24 L504.78,790.22 L504.69,789.20 L504.60,788.17 L504.50,787.15 L504.41,786.13 L504.31,785.11 L504.22,784.09 L504.12,783.07 L504.03,782.05 L503.94,781.03 L503.84,780.01 L503.75,779.00 L503.66,777.98 L503.57,776.96 L503.48,775.95 L503.40,774.93 L503.31,773.92 L503.23,772.90 L503.15,771.89 L503.07,770.87 L503.00,769.86 L502.92,768.85 L502.85,767.83 L502.78,766.82 L502.72,765.80 L502.65,764.79 L502.59,763.77 L502.53,762.76 L502.48,761.74 L502.42,760.72 L502.37,759.71 L502.32,758.69 L502.27,757.67 L502.22,756.66 L502.18,755.64 L502.13,754.62 L502.09,753.60 L502.05,752.58 L502.01,751.57 L501.98,750.55 L501.94,749.53 L501.91,748.51 L501.88,747.49 L501.85,746.47 L501.82,745.45 L501.79,744.43 L501.77,743.41 L501.74,742.39 L501.72,741.37 L501.70,740.35 L501.68,739.33 L501.66,738.31 L501.65,737.29 L501.63,736.27 L501.62,735.25 L501.60,734.23 L501.59,733.21 L501.58,732.19 L501.57,731.17 L501.56,730.14 L501.55,729.12 L501.54,728.10 L501.54,727.08 L501.53,726.06 L501.53,725.04 L501.52,724.01 L501.52,722.99 L501.52,721.97 L501.52,720.95 L501.52,719.92 L501.52,718.90 L501.52,717.88 L501.52,716.86 L501.52,715.83 L501.53,714.81 L501.53,713.79 L501.53,712.76 L501.54,711.74 L501.54,710.72 L501.55,709.69 L501.55,708.67 L501.56,707.65 L501.56,706.62 L501.57,705.60 L501.58,704.57 L501.59,703.55 L501.59,702.52 L501.60,701.50 L501.61,700.48 L501.62,699.45 L501.62,698.43 L501.63,697.40 L501.64,696.38 L501.65,695.35 L501.66,694.33 L501.66,693.30 L501.67,692.28 L501.68,691.25 L501.69,690.23 L501.69,689.20 L501.70,688.17 L501.71,687.15 L501.72,686.12 L501.72,685.10 L501.73,684.07 L501.73,683.04 L501.74,682.02 L501.74,680.99 L501.75,679.96 L501.75,678.94 L501.76,677.91 L501.76,676.88 L501.76,675.86 L501.76,674.83 L501.76,673.80 L501.76,672.77 L501.76,671.75 L501.76,670.72 L501.76,669.69 L501.76,668.66 L501.75,667.64 L501.75,666.61 L501.74,665.58 L501.74,664.55 L501.73,663.52 L501.72,662.49 L501.71,661.47 L501.70,660.44 L494.70,660.17 L494.71,661.19 L494.72,662.21 L494.73,663.24 L494.74,664.26 L494.74,665.28 L494.75,666.30 L494.75,667.32 L494.76,668.35 L494.76,669.37 L494.76,670.39 L494.76,671.41 L494.76,672.43 L494.76,673.46 L494.76,674.48 L494.76,675.50 L494.76,676.53 L494.76,677.55 L494.75,678.57 L494.75,679.59 L494.75,680.62 L494.74,681.64 L494.74,682.66 L494.73,683.69 L494.72,684.71 L494.72,685.74 L494.71,686.76 L494.70,687.78 L494.70,688.81 L494.69,689.83 L494.68,690.86 L494.67,691.88 L494.67,692.91 L494.66,693.93 L494.65,694.96 L494.64,695.98 L494.63,697.01 L494.63,698.03 L494.62,699.06 L494.61,700.08 L494.60,701.11 L494.60,702.13 L494.59,703.16 L494.58,704.18 L494.57,705.21 L494.57,706.24 L494.56,707.26 L494.55,708.29 L494.55,709.31 L494.54,710.34 L494.54,711.37 L494.53,712.39 L494.53,713.42 L494.53,714.45 L494.52,715.47 L494.52,716.50 L494.52,717.53 L494.52,718.55 L494.52,719.58 L494.52,720.61 L494.52,721.64 L494.52,722.66 L494.52,723.69 L494.53,724.72 L494.53,725.75 L494.54,726.78 L494.54,727.80 L494.55,728.83 L494.56,729.86 L494.56,730.89 L494.57,731.92 L494.59,732.95 L494.60,733.98 L494.61,735.00 L494.63,736.03 L494.64,737.06 L494.66,738.09 L494.68,739.12 L494.70,740.15 L494.72,741.18 L494.74,742.21 L494.76,743.24 L494.79,744.27 L494.81,745.30 L494.84,746.33 L494.87,747.36 L494.90,748.39 L494.94,749.42 L494.97,750.45 L495.01,751.48 L495.04,752.51 L495.08,753.54 L495.12,754.57 L495.17,755.60 L495.21,756.63 L495.26,757.66 L495.31,758.69 L495.36,759.72 L495.41,760.75 L495.47,761.78 L495.53,762.81 L495.59,763.84 L495.65,764.87 L495.71,765.90 L495.78,766.94 L495.85,767.97 L495.92,769.00 L495.99,770.03 L496.07,771.06 L496.14,772.09 L496.22,773.12 L496.31,774.15 L496.39,775.18 L496.48,776.20 L496.57,777.23 L496.66,778.26 L496.75,779.28 L496.84,780.31 L496.93,781.33 L497.03,782.35 L497.12,783.37 L497.22,784.40 L497.31,785.42 L497.41,786.44 L497.50,787.46 L497.60,788.48 L497.69,789.50 L497.78,790.52 L497.88,791.53 L497.97,792.55 L498.06,793.57 L498.15,794.59 L498.24,795.62 L498.34,796.65 L498.43,797.68 L498.54,798.71 L498.65,799.76 L498.77,800.82 L498.91,801.92 L499.13,803.18 L506.32,803.71 L506.62,802.22 L506.76,801.10 L506.87,800.04 L506.97,798.99 L507.06,797.96 L507.15,796.93 L507.24,795.91 L507.33,794.90 L507.42,793.89 L507.52,792.89 L507.62,791.89 L507.73,790.89 L507.84,789.88 L507.95,788.87 L508.07,787.86 L508.19,786.84 L508.31,785.82 L508.43,784.79 L508.55,783.75 L508.65,782.72 L508.76,781.68 L508.86,780.65 L508.95,779.61 L509.04,778.57 L509.13,777.54 L509.21,776.50 L509.29,775.47 L509.36,774.43 L509.43,773.40 L509.50,772.36 L509.56,771.33 L509.62,770.29 L509.67,769.26 L509.73,768.22 L509.78,767.19 L509.82,766.16 L509.87,765.12 L509.91,764.09 L509.95,763.06 L509.99,762.03 L510.02,761.00 L510.05,759.97 L510.09,758.94 L510.12,757.91 L510.14,756.88 L510.17,755.85 L510.20,754.82 L510.22,753.79 L510.25,752.77 L510.27,751.74 L510.29,750.71 L510.32,749.69 L510.34,748.66 L510.36,747.64 L510.38,746.61 L510.40,745.59 L510.43,744.56 L510.45,743.53 L510.47,742.51 L510.49,741.48 L510.51,740.46 L510.53,739.43 L510.55,738.41 L510.57,737.38 L510.59,736.36 L510.61,735.33 L510.63,734.31 L510.65,733.28 L510.67,732.25 L510.69,731.23 L510.71,730.20 L510.73,729.18 L510.75,728.15 L510.77,727.13 L510.79,726.10 L510.80,725.08 L510.82,724.05 L510.84,723.03 L510.86,722.00 L510.88,720.98 L510.89,719.95 L510.91,718.92 L510.93,717.90 L510.95,716.87 L510.96,715.85 L510.98,714.82 L510.99,713.80 L511.01,712.77 L511.03,711.75 L511.04,710.72 L511.06,709.70 L511.07,708.67 L511.09,707.64 L511.11,706.62 L511.12,705.59 L511.14,704.57 L511.15,703.54 L511.16,702.52 L511.18,701.49 L511.19,700.47 L511.21,699.44 L511.22,698.42 L511.24,697.39 L511.25,696.36 L511.26,695.34 L511.28,694.31 L511.29,693.29 L511.30,692.26 L511.32,691.24 L511.33,690.21 L511.34,689.19 L511.35,688.16 L511.37,687.14 L511.38,686.11 L511.39,685.09 L511.40,684.06 L511.41,683.03 L511.43,682.01 L511.44,680.98 L511.45,679.96 L511.46,678.93 L511.47,677.91 L511.48,676.88 L511.49,675.86 L511.50,674.83 L511.51,673.81 L511.52,672.78 L511.53,671.75 L511.55,670.73 L511.56,669.70 L511.56,668.68 L511.57,667.65 L511.58,666.63 L511.59,665.60 L511.60,664.58 L511.61,663.55 L511.62,662.53 L511.63,661.50 L511.64,660.48 L511.65,659.45 L511.66,658.42 L511.67,657.40 L511.67,656.37 L511.68,655.35 L511.69,654.32 L511.70,653.30 L511.71,652.27 L511.71,651.25 L511.72,650.22 L511.73,649.20 L511.74,648.17 L511.74,647.15 L511.75,646.12 L511.76,645.09 L511.76,644.07 L511.77,643.04 L511.78,642.02 L511.78,640.99 L511.79,639.97 L511.80,638.94 L511.80,637.92 L511.81,636.89 L511.82,635.87 L511.82,634.84 L511.83,633.82 L511.83,632.79 L511.84,631.77 L511.84,630.74 L511.85,629.71 L511.85,628.69 L511.86,627.66 L511.87,626.64 L511.87,625.61 L511.88,624.59 L511.88,623.56 L511.88,622.54 L511.89,621.51 L511.89,620.49 L511.90,619.46 L511.90,618.44 L511.91,617.41 L511.91,616.39 L511.92,615.36 L511.92,614.33 L511.92,613.31 L511.93,612.28 L511.93,611.26 L511.93,610.23 L511.94,609.21 L511.94,608.18 L511.94,607.16 L511.95,606.13 L511.95,605.11 L511.95,604.08 L511.96,603.06 L511.96,602.03 L511.96,601.01 L511.97,599.98 L511.97,598.96 L511.97,597.93 L511.97,596.90 L511.98,595.88 L511.98,594.85 L511.98,593.83 L511.98,592.80 L511.98,591.78 L511.99,590.75 L511.99,589.73 L511.99,588.70 L511.99,587.68 L511.99,586.65 L512.00,585.63 L512.00,584.60 L512.00,583.58 L512.00,582.55 L512.00,581.53 L512.00,580.50 L512.00,579.48 L512.01,578.45 L512.01,577.43 L512.01,576.40 L512.01,575.37 L512.01,574.35 L512.01,573.32 L512.01,572.30 L512.01,571.27 L512.01,570.25 L512.01,569.22 L512.01,568.20 L512.02,567.17 L512.02,566.15 L512.02,565.12 L512.02,564.10 L512.02,563.07 L512.02,562.05 L512.02,561.02 L512.02,560.00 L512.02,558.97 L512.02,557.95 L512.02,556.92 L512.02,555.90 L512.02,554.87 L512.02,553.85 L512.02,552.82 L512.02,551.80 L512.02,550.77 L512.02,549.75 L512.02,548.72 L512.02,547.69 L512.02,546.67 L512.01,545.64 L512.01,544.62 L512.01,543.59 L512.01,542.57 L512.01,541.54 L512.01,540.52 L512.01,539.49 L512.01,538.47 L512.01,537.44 L512.01,536.42 L512.01,535.39 L512.01,534.37 L512.01,533.34 L512.01,532.32 L512.00,531.29 L512.00,530.27 L512.00,529.24 L512.00,528.22 L512.00,527.19 L512.00,526.17 L512.00,525.14 L512.00,524.12 L512.00,523.09 L511.99,522.07 L511.99,521.04 L511.99,520.02 L511.99,518.99 L511.99,517.97 L511.99,516.94 L511.99,515.92 L511.99,514.89 L511.98,513.87 L511.98,512.84 L511.98,511.82 L511.98,510.79 L511.98,509.77 L511.98,508.74 L511.98,507.72 L511.97,506.69 L511.97,505.67 L511.97,504.64 L511.97,503.62 L511.97,502.59 L511.97,501.57 L511.97,500.54 L511.96,499.52 L511.96,498.49 L511.96,497.47 L511.96,496.44 L511.96,495.42 L511.96,494.39 L511.95,493.37 L511.95,492.34 L511.95,491.32 L511.95,490.29 L511.95,489.27 L511.95,488.24 L511.95,487.22 L511.94,486.19 L511.94,485.17 L511.94,484.14 L511.94,483.12 L511.94,482.09 L511.94,481.07 L511.93,480.04 L511.93,479.02 L511.93,477.99 L511.93,476.97 L511.93,475.94 L511.93,474.92 L511.93,473.89 L511.92,472.87 L511.92,471.84 L511.92,470.82 L511.92,469.79 L511.92,468.77 L511.92,467.74 L511.92,466.72 L511.91,465.69 L511.91,464.67 L511.91,463.64 L511.91,462.62 L511.91,461.59 L511.91,460.57 L511.91,459.54 L511.91,458.52 L511.90,457.49 L511.90,456.47 L511.90,455.44 L511.90,454.42 L511.90,453.39 L511.90,452.37 L511.90,451.34 L511.90,450.32 L511.90,449.29 L511.89,448.27 L511.89,447.24 L511.89,446.22 L511.89,445.19 L511.89,444.17 L511.89,443.14 L511.89,442.12 L511.89,441.09 L511.89,440.07 L511.89,439.04 L511.89,438.02 L511.89,436.99 L511.89,435.97 L511.89,434.94 L511.88,433.92 L511.88,432.90 L511.88,431.87 L511.88,430.85 L511.88,429.82 L511.88,428.80 L511.88,427.77 L511.88,426.75 L511.88,425.72 L511.88,424.70 L511.88,423.67 L511.88,422.65 L511.88,421.62 L511.88,420.60 L511.88,419.57 L511.88,418.55 L511.88,417.52 L511.88,416.50 L511.88,415.47 L511.89,414.45 L511.89,413.42 L511.89,412.40 L511.89,411.37 L511.89,410.35 L511.89,409.32 L511.89,408.30 L511.89,407.27 L511.89,406.25 L511.89,405.22 L511.89,404.20 L511.89,403.18 L511.90,402.15 L511.90,401.13 L511.90,400.10 L511.90,399.08 L511.90,398.05 L511.90,397.03 L511.90,396.00 L511.91,394.98 L511.91,393.95 L511.91,392.93 L511.91,391.90 L511.91,390.88 L511.92,389.85 L511.92,388.83 L511.92,387.80 L511.92,386.78 L511.92,385.75 L511.93,384.73 L511.93,383.71 L511.93,382.68 L511.93,381.66 L511.94,380.63 L511.94,379.61 L511.94,378.58 L511.95,377.56 L511.95,376.53 L511.95,375.51 L511.96,374.48 L511.96,373.46 L511.96,372.43 L511.97,371.41 L511.97,370.38 L511.97,369.36 L511.98,368.33 L511.98,367.31 L511.98,366.29 L511.99,365.26 L511.99,364.24 L512.00,363.21 L512.00,362.19 L512.01,361.16 L512.01,360.14 L512.02,359.11 L512.02,358.09 L512.02,357.06 L512.03,356.04 L512.03,355.01 L512.04,353.99 L512.04,352.96 L512.05,351.94 L512.06,350.92 L512.06,349.89 L512.07,348.87 L512.07,347.84 L512.08,346.82 L512.08,345.79 L512.09,344.77 L512.10,343.74 L512.10,342.72 L512.11,341.69 L512.12,340.67 L512.12,339.64 L512.13,338.62 L512.14,337.60 L512.14,336.57 L512.15,335.55 L512.16,334.52 L512.16,333.50 L512.17,332.47 L512.18,331.45 L512.19,330.42 L512.19,329.40 L512.20,328.37Z" fill="#fff" stroke="none"/>
<path d="M505.20,327.98 L505.99,328.33 L507.21,328.68 L508.70,329.03 L510.18,329.38 L511.41,329.73 L512.19,330.08 L511.40,330.42 L510.17,330.75 L508.68,331.08 L507.19,331.41 L505.96,331.74 L505.17,332.08 L505.95,332.43 L507.18,332.78 L508.67,333.13 L510.15,333.48 L511.38,333.83 L512.16,334.18 L511.37,334.52 L510.14,334.85 L508.65,335.18 L507.16,335.51 L505.93,335.84 L505.14,336.18 L505.93,336.53 L507.15,336.88 L508.64,337.23 L510.12,337.58 L511.35,337.93 L512.13,338.28 L511.35,338.61 L510.11,338.95 L508.62,339.28 L507.13,339.61 L505.90,339.95 L505.12,340.28 L505.90,340.63 L507.13,340.98 L508.61,341.33 L510.10,341.68 L511.32,342.03 L512.10,342.38 L511.32,342.71 L510.09,343.05 L508.60,343.38 L507.11,343.71 L505.88,344.05 L505.09,344.38 L505.87,344.73 L507.10,345.08 L508.59,345.43 L510.07,345.78 L511.30,346.13 L512.08,346.48 L511.30,346.81 L510.06,347.15 L508.57,347.48 L507.08,347.81 L505.85,348.15 L505.07,348.49 L505.85,348.83 L507.08,349.18 L508.56,349.53 L510.05,349.88 L511.28,350.23 L512.06,350.57 L511.27,350.91 L510.04,351.25 L508.55,351.58 L507.06,351.91 L505.83,352.25 L505.05,352.59 L505.83,352.93 L507.06,353.28 L508.54,353.63 L510.03,353.98 L511.26,354.33 L512.04,354.67 L511.25,355.01 L510.02,355.35 L508.53,355.68 L507.04,356.01 L505.81,356.35 L505.03,356.69 L505.81,357.03 L507.04,357.38 L508.52,357.73 L510.01,358.08 L511.24,358.43 L512.02,358.77 L511.23,359.11 L510.00,359.44 L508.51,359.78 L507.02,360.11 L505.79,360.45 L505.01,360.79 L505.79,361.13 L507.02,361.48 L508.50,361.83 L509.99,362.18 L511.22,362.52 L512.00,362.87 L511.21,363.21 L509.98,363.54 L508.49,363.88 L507.01,364.22 L505.77,364.55 L504.99,364.89 L505.77,365.24 L507.00,365.58 L508.49,365.93 L509.97,366.28 L511.20,366.62 L511.98,366.97 L511.20,367.31 L509.97,367.64 L508.48,367.98 L506.99,368.32 L505.76,368.65 L504.97,368.99 L505.76,369.34 L506.98,369.68 L508.47,370.03 L509.96,370.38 L511.19,370.72 L511.97,371.07 L511.18,371.41 L509.95,371.74 L508.46,372.08 L506.98,372.42 L505.74,372.75 L504.96,373.09 L505.74,373.44 L506.97,373.78 L508.46,374.13 L509.94,374.48 L511.17,374.82 L511.95,375.17 L511.17,375.50 L509.94,375.84 L508.45,376.18 L506.96,376.52 L505.73,376.85 L504.95,377.19 L505.73,377.54 L506.96,377.88 L508.44,378.23 L509.93,378.58 L511.16,378.92 L511.94,379.26 L511.16,379.60 L509.93,379.94 L508.44,380.28 L506.95,380.62 L505.72,380.96 L504.94,381.30 L505.72,381.64 L506.95,381.98 L508.43,382.33 L509.92,382.68 L511.15,383.02 L511.93,383.36 L511.15,383.70 L509.92,384.04 L508.43,384.38 L506.94,384.72 L505.71,385.06 L504.93,385.40 L505.71,385.74 L506.94,386.08 L508.42,386.43 L509.91,386.77 L511.14,387.12 L511.92,387.46 L511.14,387.80 L509.91,388.14 L508.42,388.48 L506.93,388.82 L505.70,389.16 L504.92,389.50 L505.70,389.84 L506.93,390.19 L508.41,390.53 L509.90,390.87 L511.13,391.22 L511.91,391.56 L511.13,391.90 L509.90,392.24 L508.41,392.58 L506.92,392.92 L505.69,393.26 L504.91,393.60 L505.69,393.94 L506.92,394.29 L508.41,394.63 L509.89,394.97 L511.12,395.32 L511.91,395.66 L511.12,396.00 L509.89,396.34 L508.40,396.68 L506.92,397.02 L505.69,397.36 L504.90,397.70 L505.68,398.04 L506.91,398.39 L508.40,398.73 L509.89,399.07 L511.12,399.42 L511.90,399.76 L511.12,400.10 L509.89,400.44 L508.40,400.78 L506.91,401.12 L505.68,401.46 L504.90,401.80 L505.68,402.14 L506.91,402.49 L508.40,402.83 L509.88,403.17 L511.11,403.52 L511.89,403.86 L511.11,404.20 L509.88,404.54 L508.39,404.88 L506.90,405.22 L505.68,405.56 L504.89,405.90 L505.67,406.24 L506.90,406.59 L508.39,406.93 L509.88,407.27 L511.11,407.62 L511.89,407.96 L511.11,408.30 L509.88,408.64 L508.39,408.98 L506.90,409.32 L505.67,409.66 L504.89,410.00 L505.67,410.34 L506.90,410.69 L508.39,411.03 L509.87,411.37 L511.10,411.71 L511.89,412.06 L511.10,412.40 L509.87,412.74 L508.39,413.08 L506.90,413.42 L505.67,413.76 L504.89,414.10 L505.67,414.45 L506.90,414.79 L508.39,415.13 L509.87,415.47 L511.10,415.81 L511.88,416.16 L511.10,416.50 L509.87,416.84 L508.38,417.18 L506.90,417.52 L505.67,417.86 L504.88,418.20 L505.67,418.55 L506.90,418.89 L508.38,419.23 L509.87,419.57 L511.10,419.91 L511.88,420.26 L511.10,420.60 L509.87,420.94 L508.38,421.28 L506.90,421.62 L505.67,421.96 L504.88,422.30 L505.67,422.65 L506.90,422.99 L508.38,423.33 L509.87,423.67 L511.10,424.01 L511.88,424.35 L511.10,424.70 L509.87,425.04 L508.38,425.38 L506.90,425.72 L505.67,426.06 L504.88,426.41 L505.67,426.75 L506.90,427.09 L508.38,427.43 L509.87,427.77 L511.10,428.11 L511.88,428.45 L511.10,428.80 L509.87,429.14 L508.38,429.48 L506.90,429.82 L505.67,430.16 L504.88,430.51 L505.67,430.85 L506.90,431.19 L508.38,431.53 L509.87,431.87 L511.10,432.21 L511.88,432.55 L511.10,432.90 L509.87,433.24 L508.38,433.58 L506.90,433.92 L505.67,434.26 L504.89,434.61 L505.67,434.95 L506.90,435.29 L508.39,435.63 L509.87,435.97 L511.10,436.31 L511.89,436.65 L511.10,436.99 L509.87,437.34 L508.39,437.68 L506.90,438.02 L505.67,438.36 L504.89,438.71 L505.67,439.05 L506.90,439.39 L508.39,439.73 L509.88,440.07 L511.11,440.41 L511.89,440.75 L511.11,441.09 L509.88,441.44 L508.39,441.78 L506.90,442.12 L505.67,442.46 L504.89,442.81 L505.67,443.15 L506.90,443.49 L508.39,443.83 L509.88,444.17 L511.11,444.51 L511.89,444.85 L511.11,445.19 L509.88,445.54 L508.39,445.88 L506.91,446.22 L505.68,446.57 L504.89,446.91 L505.68,447.25 L506.91,447.59 L508.39,447.93 L509.88,448.27 L511.11,448.61 L511.90,448.95 L511.11,449.29 L509.88,449.64 L508.40,449.98 L506.91,450.32 L505.68,450.67 L504.90,451.01 L505.68,451.35 L506.91,451.69 L508.40,452.03 L509.89,452.37 L511.12,452.71 L511.90,453.05 L511.12,453.39 L509.89,453.74 L508.40,454.08 L506.91,454.42 L505.68,454.77 L504.90,455.11 L505.68,455.45 L506.91,455.79 L508.40,456.13 L509.89,456.47 L511.12,456.81 L511.90,457.15 L511.12,457.49 L509.89,457.84 L508.40,458.18 L506.92,458.52 L505.69,458.87 L504.91,459.21 L505.69,459.55 L506.92,459.89 L508.41,460.23 L509.89,460.57 L511.12,460.91 L511.91,461.25 L511.13,461.59 L509.90,461.94 L508.41,462.28 L506.92,462.62 L505.69,462.97 L504.91,463.31 L505.69,463.65 L506.92,463.99 L508.41,464.33 L509.90,464.67 L511.13,465.01 L511.91,465.35 L511.13,465.69 L509.90,466.04 L508.41,466.38 L506.93,466.72 L505.70,467.07 L504.92,467.41 L505.70,467.75 L506.93,468.09 L508.42,468.43 L509.91,468.77 L511.14,469.11 L511.92,469.45 L511.14,469.79 L509.91,470.14 L508.42,470.48 L506.93,470.82 L505.70,471.17 L504.92,471.51 L505.71,471.85 L506.94,472.19 L508.42,472.53 L509.91,472.87 L511.14,473.21 L511.92,473.55 L511.14,473.89 L509.91,474.24 L508.43,474.58 L506.94,474.92 L505.71,475.27 L504.93,475.61 L505.71,475.95 L506.94,476.29 L508.43,476.63 L509.92,476.97 L511.15,477.31 L511.93,477.65 L511.15,477.99 L509.92,478.34 L508.43,478.68 L506.95,479.02 L505.72,479.37 L504.93,479.71 L505.72,480.05 L506.95,480.39 L508.44,480.73 L509.92,481.07 L511.15,481.41 L511.94,481.75 L511.15,482.09 L509.93,482.44 L508.44,482.78 L506.95,483.12 L505.72,483.47 L504.94,483.81 L505.72,484.15 L506.95,484.49 L508.44,484.83 L509.93,485.17 L511.16,485.51 L511.94,485.85 L511.16,486.19 L509.93,486.54 L508.44,486.88 L506.96,487.22 L505.73,487.57 L504.95,487.91 L505.73,488.25 L506.96,488.59 L508.45,488.93 L509.94,489.27 L511.17,489.61 L511.95,489.95 L511.17,490.29 L509.94,490.64 L508.45,490.98 L506.96,491.32 L505.73,491.67 L504.95,492.01 L505.74,492.35 L506.97,492.69 L508.45,493.03 L509.94,493.37 L511.17,493.71 L511.96,494.05 L511.17,494.39 L509.94,494.74 L508.46,495.08 L506.97,495.42 L505.74,495.77 L504.96,496.11 L505.74,496.45 L506.97,496.79 L508.46,497.13 L509.95,497.47 L511.18,497.81 L511.96,498.15 L511.18,498.49 L509.95,498.84 L508.46,499.18 L506.98,499.52 L505.75,499.87 L504.96,500.21 L505.75,500.55 L506.98,500.89 L508.47,501.23 L509.95,501.57 L511.18,501.91 L511.97,502.25 L511.19,502.59 L509.96,502.94 L508.47,503.28 L506.98,503.62 L505.75,503.97 L504.97,504.31 L505.75,504.65 L506.98,504.99 L508.47,505.33 L509.96,505.67 L511.19,506.01 L511.97,506.35 L511.19,506.69 L509.96,507.04 L508.48,507.38 L506.99,507.72 L505.76,508.07 L504.98,508.41 L505.76,508.75 L506.99,509.09 L508.48,509.43 L509.97,509.77 L511.20,510.11 L511.98,510.45 L511.20,510.79 L509.97,511.14 L508.48,511.48 L506.99,511.82 L505.76,512.17 L504.98,512.51 L505.77,512.85 L507.00,513.19 L508.48,513.53 L509.97,513.87 L511.20,514.21 L511.99,514.55 L511.20,514.89 L509.97,515.24 L508.49,515.58 L507.00,515.92 L505.77,516.27 L504.99,516.61 L505.77,516.95 L507.00,517.29 L508.49,517.63 L509.98,517.97 L511.21,518.31 L511.99,518.65 L511.21,518.99 L509.98,519.34 L508.49,519.68 L507.00,520.02 L505.78,520.37 L504.99,520.71 L505.78,521.05 L507.01,521.39 L508.49,521.73 L509.98,522.07 L511.21,522.41 L512.00,522.75 L511.21,523.09 L509.98,523.44 L508.50,523.78 L507.01,524.12 L505.78,524.47 L505.00,524.81 L505.78,525.15 L507.01,525.49 L508.50,525.83 L509.99,526.17 L511.22,526.51 L512.00,526.85 L511.22,527.19 L509.99,527.54 L508.50,527.88 L507.01,528.22 L505.78,528.57 L505.00,528.91 L505.79,529.25 L507.02,529.59 L508.50,529.93 L509.99,530.27 L511.22,530.61 L512.00,530.95 L511.22,531.29 L509.99,531.64 L508.51,531.98 L507.02,532.32 L505.79,532.67 L505.01,533.01 L505.79,533.35 L507.02,533.69 L508.51,534.03 L509.99,534.37 L511.22,534.71 L512.01,535.05 L511.23,535.39 L510.00,535.74 L508.51,536.08 L507.02,536.42 L505.79,536.77 L505.01,537.11 L505.79,537.45 L507.02,537.79 L508.51,538.13 L510.00,538.47 L511.23,538.81 L512.01,539.15 L511.23,539.49 L510.00,539.84 L508.51,540.18 L507.02,540.52 L505.80,540.86 L505.01,541.21 L505.80,541.55 L507.03,541.89 L508.51,542.23 L510.00,542.57 L511.23,542.91 L512.01,543.25 L511.23,543.59 L510.00,543.94 L508.51,544.28 L507.03,544.62 L505.80,544.96 L505.01,545.31 L505.80,545.65 L507.03,545.99 L508.52,546.33 L510.00,546.67 L511.23,547.01 L512.02,547.35 L511.23,547.70 L510.00,548.04 L508.52,548.38 L507.03,548.72 L505.80,549.06 L505.02,549.41 L505.80,549.75 L507.03,550.09 L508.52,550.43 L510.00,550.77 L511.23,551.11 L512.02,551.45 L511.23,551.80 L510.00,552.14 L508.52,552.48 L507.03,552.82 L505.80,553.16 L505.02,553.51 L505.80,553.85 L507.03,554.19 L508.52,554.53 L510.01,554.87 L511.23,555.21 L512.02,555.55 L511.23,555.90 L510.01,556.24 L508.52,556.58 L507.03,556.92 L505.80,557.26 L505.02,557.60 L505.80,557.95 L507.03,558.29 L508.52,558.63 L510.01,558.97 L511.23,559.31 L512.02,559.66 L511.23,560.00 L510.00,560.34 L508.52,560.68 L507.03,561.02 L505.80,561.36 L505.02,561.70 L505.80,562.05 L507.03,562.39 L508.52,562.73 L510.00,563.07 L511.23,563.41 L512.02,563.76 L511.23,564.10 L510.00,564.44 L508.52,564.78 L507.03,565.12 L505.80,565.46 L505.02,565.80 L505.80,566.15 L507.03,566.49 L508.52,566.83 L510.00,567.17 L511.23,567.51 L512.01,567.86 L511.23,568.20 L510.00,568.54 L508.51,568.88 L507.03,569.22 L505.80,569.56 L505.01,569.90 L505.80,570.24 L507.03,570.59 L508.51,570.93 L510.00,571.27 L511.23,571.62 L512.01,571.96 L511.23,572.30 L510.00,572.64 L508.51,572.98 L507.02,573.32 L505.79,573.66 L505.01,574.00 L505.79,574.34 L507.02,574.69 L508.51,575.03 L510.00,575.37 L511.23,575.72 L512.01,576.06 L511.23,576.40 L510.00,576.74 L508.51,577.08 L507.02,577.42 L505.79,577.76 L505.01,578.10 L505.79,578.44 L507.02,578.79 L508.50,579.13 L509.99,579.47 L511.22,579.82 L512.00,580.16 L511.22,580.50 L509.99,580.84 L508.50,581.18 L507.01,581.52 L505.78,581.86 L505.00,582.20 L505.78,582.54 L507.01,582.89 L508.50,583.23 L509.99,583.57 L511.22,583.92 L512.00,584.26 L511.21,584.60 L509.98,584.94 L508.50,585.28 L507.01,585.62 L505.78,585.96 L504.99,586.30 L505.78,586.64 L507.01,586.99 L508.49,587.33 L509.98,587.67 L511.21,588.02 L511.99,588.36 L511.21,588.70 L509.98,589.04 L508.49,589.38 L507.00,589.72 L505.77,590.06 L504.99,590.40 L505.77,590.74 L507.00,591.08 L508.49,591.43 L509.97,591.77 L511.20,592.12 L511.98,592.46 L511.20,592.80 L509.97,593.14 L508.48,593.48 L506.99,593.82 L505.76,594.16 L504.98,594.50 L505.76,594.84 L506.99,595.18 L508.48,595.53 L509.96,595.87 L511.19,596.22 L511.97,596.56 L511.19,596.90 L509.96,597.24 L508.47,597.58 L506.98,597.92 L505.75,598.26 L504.97,598.60 L505.75,598.94 L506.98,599.28 L508.47,599.63 L509.95,599.98 L511.18,600.32 L511.96,600.66 L511.18,601.00 L509.95,601.34 L508.46,601.68 L506.97,602.02 L505.74,602.36 L504.96,602.69 L505.74,603.04 L506.97,603.38 L508.45,603.73 L509.94,604.08 L511.17,604.42 L511.95,604.77 L511.17,605.10 L509.94,605.44 L508.45,605.78 L506.96,606.12 L505.73,606.45 L504.95,606.79 L505.73,607.14 L506.96,607.48 L508.44,607.83 L509.93,608.18 L511.16,608.52 L511.94,608.87 L511.15,609.21 L509.92,609.54 L508.44,609.88 L506.95,610.22 L505.72,610.55 L504.93,610.89 L505.71,611.24 L506.94,611.58 L508.43,611.93 L509.91,612.28 L511.14,612.62 L511.92,612.97 L511.14,613.31 L509.91,613.64 L508.42,613.98 L506.93,614.32 L505.70,614.65 L504.92,614.99 L505.70,615.34 L506.93,615.68 L508.41,616.03 L509.90,616.38 L511.13,616.72 L511.91,617.07 L511.12,617.41 L509.89,617.74 L508.40,618.08 L506.92,618.41 L505.68,618.75 L504.90,619.09 L505.68,619.43 L506.91,619.78 L508.40,620.13 L509.88,620.48 L511.11,620.82 L511.89,621.17 L511.11,621.51 L509.88,621.84 L508.39,622.18 L506.90,622.51 L505.67,622.85 L504.88,623.19 L505.66,623.53 L506.89,623.88 L508.38,624.23 L509.86,624.58 L511.09,624.93 L511.87,625.27 L511.09,625.61 L509.86,625.94 L508.37,626.28 L506.88,626.61 L505.65,626.95 L504.86,627.29 L505.64,627.63 L506.87,627.98 L508.36,628.33 L509.84,628.68 L511.07,629.03 L511.85,629.37 L511.07,629.71 L509.84,630.05 L508.35,630.38 L506.86,630.71 L505.63,631.05 L504.84,631.39 L505.62,631.73 L506.85,632.08 L508.34,632.43 L509.82,632.78 L511.05,633.13 L511.83,633.47 L511.04,633.81 L509.81,634.15 L508.32,634.48 L506.83,634.81 L505.60,635.15 L504.82,635.48 L505.60,635.83 L506.83,636.18 L508.31,636.53 L509.80,636.88 L511.02,637.23 L511.81,637.58 L511.02,637.91 L509.79,638.25 L508.30,638.58 L506.81,638.91 L505.58,639.25 L504.79,639.58 L505.57,639.93 L506.80,640.28 L508.29,640.63 L509.77,640.98 L511.00,641.33 L511.78,641.68 L510.99,642.01 L509.76,642.35 L508.27,642.68 L506.78,643.01 L505.55,643.34 L504.77,643.68 L505.55,644.03 L506.77,644.38 L508.26,644.73 L509.74,645.08 L510.97,645.43 L511.75,645.78 L510.97,646.11 L509.74,646.45 L508.25,646.78 L506.76,647.11 L505.52,647.44 L504.74,647.78 L505.52,648.13 L506.75,648.48 L508.23,648.83 L509.72,649.18 L510.94,649.53 L511.72,649.88 L510.94,650.22 L509.71,650.55 L508.22,650.88 L506.73,651.21 L505.49,651.54 L504.71,651.88 L505.49,652.22 L506.72,652.58 L508.20,652.93 L509.69,653.28 L510.91,653.63 L511.69,653.98 L510.91,654.32 L509.67,654.65 L508.18,654.98 L506.69,655.31 L505.46,655.64 L504.68,655.98 L505.46,656.32 L506.68,656.68 L508.17,657.03 L509.65,657.38 L510.88,657.73 L511.66,658.08 L510.87,658.42 L509.64,658.75 L508.15,659.08 L506.66,659.41 L505.43,659.74 L504.64,660.07 L505.42,660.42 L506.65,660.77 L508.13,661.13 L509.62,661.48 L510.84,661.84 L511.62,662.18 L510.84,662.52 L509.61,662.85 L508.12,663.18 L506.63,663.51 L505.39,663.84 L504.61,664.17 L505.39,664.52 L506.61,664.87 L508.10,665.23 L509.58,665.58 L510.81,665.94 L511.59,666.29 L510.80,666.62 L509.57,666.95 L508.08,667.28 L506.59,667.61 L505.35,667.94 L504.57,668.27 L505.35,668.62 L506.57,668.97 L508.06,669.33 L509.54,669.68 L510.77,670.04 L511.55,670.39 L510.76,670.72 L509.53,671.05 L508.04,671.38 L506.55,671.70 L505.31,672.03 L504.53,672.37 L505.31,672.72 L506.53,673.07 L508.02,673.43 L509.50,673.78 L510.73,674.14 L511.51,674.49 L510.72,674.82 L509.49,675.15 L508.00,675.48 L506.51,675.80 L505.27,676.13 L504.49,676.47 L505.27,676.82 L506.49,677.17 L507.98,677.53 L509.46,677.89 L510.68,678.24 L511.46,678.59 L510.68,678.92 L509.44,679.25 L507.95,679.58 L506.46,679.90 L505.23,680.23 L504.44,680.56 L505.22,680.91 L506.45,681.27 L507.93,681.63 L509.41,681.99 L510.64,682.34 L511.42,682.69 L510.63,683.03 L509.40,683.35 L507.91,683.68 L506.42,684.00 L505.18,684.33 L504.40,684.66 L505.17,685.01 L506.40,685.37 L507.88,685.73 L509.37,686.09 L510.59,686.44 L511.37,686.79 L510.58,687.13 L509.35,687.45 L507.86,687.78 L506.37,688.10 L505.13,688.43 L504.35,688.76 L505.12,689.11 L506.35,689.47 L507.83,689.83 L509.32,690.19 L510.54,690.54 L511.32,690.90 L510.53,691.23 L509.30,691.55 L507.81,691.88 L506.32,692.20 L505.08,692.53 L504.29,692.86 L505.07,693.21 L506.30,693.57 L507.78,693.93 L509.26,694.29 L510.49,694.65 L511.27,695.00 L510.48,695.33 L509.25,695.65 L507.75,695.98 L506.26,696.30 L505.03,696.62 L504.24,696.95 L505.02,697.31 L506.24,697.66 L507.73,698.03 L509.21,698.39 L510.43,698.75 L511.21,699.10 L510.43,699.43 L509.19,699.76 L507.70,700.08 L506.21,700.40 L504.97,700.72 L504.18,701.05 L504.96,701.40 L506.19,701.76 L507.67,702.13 L509.15,702.49 L510.38,702.85 L511.16,703.20 L510.37,703.53 L509.13,703.86 L507.64,704.18 L506.15,704.50 L504.91,704.82 L504.13,705.15 L504.90,705.50 L506.13,705.86 L507.61,706.23 L509.09,706.59 L510.32,706.95 L511.10,707.30 L510.31,707.63 L509.07,707.96 L507.58,708.28 L506.09,708.59 L504.85,708.92 L504.07,709.25 L504.84,709.60 L506.07,709.96 L507.55,710.33 L509.03,710.69 L510.26,711.05 L511.03,711.40 L510.24,711.73 L509.01,712.06 L507.52,712.37 L506.02,712.69 L504.79,713.02 L504.00,713.34 L504.78,713.70 L506.00,714.06 L507.48,714.42 L508.97,714.79 L510.19,715.15 L510.97,715.51 L510.18,715.84 L508.94,716.16 L507.45,716.47 L505.96,716.79 L504.72,717.11 L503.93,717.44 L504.71,717.80 L505.94,718.16 L507.42,718.52 L508.90,718.89 L510.12,719.25 L510.90,719.61 L510.11,719.94 L508.88,720.26 L507.38,720.57 L505.89,720.89 L504.65,721.21 L503.87,721.54 L504.64,721.89 L505.87,722.26 L507.35,722.62 L508.83,722.99 L510.05,723.35 L510.83,723.71 L510.04,724.04 L508.80,724.36 L507.31,724.67 L505.82,724.99 L504.58,725.31 L503.79,725.64 L504.57,725.99 L505.79,726.35 L507.27,726.72 L508.76,727.09 L509.98,727.46 L510.76,727.81 L509.97,728.14 L508.73,728.46 L507.24,728.77 L505.74,729.09 L504.51,729.41 L503.72,729.73 L504.50,730.09 L505.72,730.45 L507.20,730.82 L508.68,731.19 L509.90,731.56 L510.68,731.91 L509.89,732.24 L508.65,732.56 L507.16,732.87 L505.67,733.18 L504.43,733.50 L503.64,733.83 L504.42,734.19 L505.64,734.55 L507.12,734.92 L508.60,735.29 L509.82,735.66 L510.60,736.01 L509.81,736.34 L508.57,736.66 L507.08,736.97 L505.59,737.28 L504.35,737.60 L503.56,737.93 L504.34,738.28 L505.56,738.65 L507.04,739.02 L508.52,739.39 L509.74,739.76 L510.52,740.12 L509.73,740.44 L508.49,740.76 L507.00,741.07 L505.50,741.38 L504.27,741.70 L503.48,742.02 L504.25,742.38 L505.48,742.75 L506.96,743.12 L508.44,743.49 L509.66,743.86 L510.43,744.22 L509.64,744.54 L508.41,744.86 L506.91,745.17 L505.42,745.48 L504.18,745.79 L503.39,746.12 L504.17,746.48 L505.39,746.85 L506.87,747.22 L508.35,747.59 L509.57,747.96 L510.35,748.32 L509.56,748.64 L508.32,748.96 L506.82,749.27 L505.33,749.58 L504.09,749.89 L503.30,750.22 L504.08,750.57 L505.30,750.94 L506.78,751.32 L508.26,751.69 L509.48,752.06 L510.25,752.42 L509.46,752.75 L508.23,753.06 L506.73,753.37 L505.24,753.67 L504.00,753.98 L503.21,754.31 L503.98,754.67 L505.20,755.04 L506.68,755.42 L508.16,755.80 L509.38,756.17 L510.15,756.53 L509.36,756.86 L508.12,757.16 L506.63,757.47 L505.13,757.77 L503.89,758.07 L503.10,758.39 L503.87,758.75 L505.09,759.13 L506.57,759.51 L508.04,759.90 L509.26,760.28 L510.03,760.65 L509.24,760.97 L508.00,761.27 L506.50,761.56 L505.00,761.85 L503.76,762.15 L502.97,762.46 L503.74,762.83 L504.95,763.22 L506.43,763.61 L507.90,764.01 L509.11,764.40 L509.88,764.78 L509.09,765.09 L507.84,765.38 L506.34,765.66 L504.84,765.94 L503.60,766.22 L502.80,766.52 L503.57,766.90 L504.78,767.30 L506.25,767.71 L507.72,768.12 L508.93,768.53 L509.69,768.91 L508.89,769.22 L507.65,769.49 L506.14,769.76 L504.64,770.01 L503.39,770.28 L502.59,770.58 L503.35,770.96 L504.56,771.37 L506.03,771.80 L507.49,772.24 L508.69,772.66 L509.45,773.05 L508.65,773.34 L507.40,773.61 L505.89,773.85 L504.39,774.09 L503.14,774.34 L502.33,774.62 L503.09,775.01 L504.29,775.44 L505.75,775.89 L507.20,776.35 L508.40,776.79 L509.16,777.19 L508.35,777.47 L507.10,777.72 L505.58,777.94 L504.07,778.15 L502.82,778.38 L502.01,778.65 L502.76,779.06 L503.95,779.50 L505.40,779.98 L506.85,780.46 L508.05,780.92 L508.79,781.34 L507.98,781.61 L506.72,781.83 L505.21,782.02 L503.69,782.21 L502.44,782.42 L501.62,782.67 L502.36,783.09 L503.55,783.56 L504.99,784.06 L506.43,784.56 L507.61,785.04 L508.35,785.48 L507.54,785.73 L506.27,785.93 L504.76,786.09 L503.24,786.26 L501.98,786.45 L501.16,786.70 L501.90,787.13 L503.08,787.62 L504.52,788.13 L505.96,788.64 L507.14,789.12 L507.88,789.55 L507.06,789.79 L505.80,789.99 L504.28,790.17 L502.77,790.34 L501.51,790.55 L500.69,790.82 L501.44,791.24 L502.62,791.71 L504.07,792.21 L505.51,792.69 L506.71,793.15 L507.45,793.56 L506.64,793.82 L505.39,794.04 L503.87,794.25 L502.36,794.45 L501.11,794.69 L500.30,794.96 L501.05,795.37 L502.24,795.82 L503.69,796.29 L505.14,796.76 L506.34,797.21 L507.09,797.62 L506.28,797.89 L505.02,798.12 L503.51,798.33 L502.00,798.53 L500.74,798.76 L499.93,799.02 L500.68,799.42 L501.87,799.88 L503.31,800.37 L504.76,800.88 L505.94,801.37 L506.67,801.83 L505.84,802.11 L504.57,802.30 L503.04,802.40 L501.54,802.32 L502.56,800.32 L505.96,801.67 L505.20,801.84 L503.95,801.82 L502.43,801.75 L500.90,801.63 L499.64,801.44 L498.81,801.18 L499.54,800.73 L500.72,800.23 L502.16,799.72 L503.60,799.22 L504.79,798.76 L505.54,798.34 L504.72,798.09 L503.47,797.88 L501.95,797.68 L500.44,797.48 L499.18,797.26 L498.37,796.99 L499.12,796.57 L500.31,796.12 L501.76,795.64 L503.21,795.17 L504.40,794.72 L505.15,794.31 L504.34,794.04 L503.09,793.81 L501.58,793.60 L500.06,793.39 L498.81,793.16 L498.00,792.89 L498.75,792.48 L499.94,792.03 L501.39,791.56 L502.84,791.08 L504.04,790.63 L504.78,790.22 L503.97,789.95 L502.72,789.72 L501.21,789.52 L499.69,789.31 L498.44,789.08 L497.63,788.82 L498.38,788.41 L499.57,787.95 L501.02,787.47 L502.47,787.00 L503.66,786.54 L504.41,786.13 L503.60,785.86 L502.34,785.64 L500.83,785.43 L499.32,785.23 L498.06,785.00 L497.25,784.74 L498.00,784.32 L499.19,783.87 L500.64,783.39 L502.09,782.92 L503.28,782.46 L504.03,782.05 L503.22,781.78 L501.96,781.56 L500.45,781.35 L498.94,781.15 L497.68,780.92 L496.87,780.65 L497.62,780.24 L498.81,779.78 L500.27,779.31 L501.72,778.84 L502.91,778.39 L503.66,777.98 L502.85,777.71 L501.60,777.48 L500.08,777.27 L498.57,777.06 L497.32,776.82 L496.51,776.55 L497.26,776.14 L498.46,775.69 L499.91,775.23 L501.36,774.76 L502.56,774.32 L503.31,773.92 L502.50,773.64 L501.25,773.40 L499.74,773.18 L498.23,772.96 L496.98,772.71 L496.17,772.43 L496.92,772.03 L498.12,771.59 L499.58,771.14 L501.04,770.69 L502.24,770.26 L503.00,769.86 L502.19,769.58 L500.94,769.33 L499.43,769.09 L497.92,768.86 L496.67,768.60 L495.87,768.31 L496.63,767.91 L497.83,767.49 L499.29,767.05 L500.75,766.61 L501.96,766.19 L502.72,765.80 L501.92,765.51 L500.67,765.25 L499.16,765.00 L497.66,764.75 L496.41,764.48 L495.61,764.19 L496.37,763.80 L497.57,763.38 L499.04,762.96 L500.51,762.53 L501.71,762.12 L502.48,761.74 L501.68,761.44 L500.43,761.17 L498.93,760.91 L497.42,760.65 L496.18,760.37 L495.38,760.06 L496.14,759.68 L497.35,759.28 L498.82,758.86 L500.29,758.45 L501.50,758.05 L502.27,757.67 L501.47,757.37 L500.23,757.09 L498.73,756.81 L497.22,756.54 L495.98,756.25 L495.18,755.94 L495.95,755.57 L497.16,755.17 L498.64,754.77 L500.11,754.36 L501.32,753.97 L502.09,753.60 L501.30,753.29 L500.05,753.00 L498.55,752.72 L497.05,752.43 L495.81,752.14 L495.02,751.82 L495.79,751.45 L497.00,751.06 L498.48,750.67 L499.95,750.28 L501.17,749.89 L501.94,749.53 L501.15,749.21 L499.91,748.91 L498.41,748.62 L496.91,748.33 L495.67,748.02 L494.88,747.70 L495.65,747.33 L496.87,746.96 L498.35,746.57 L499.83,746.19 L501.05,745.81 L501.82,745.45 L501.03,745.13 L499.79,744.82 L498.29,744.52 L496.80,744.22 L495.56,743.91 L494.77,743.58 L495.54,743.22 L496.77,742.85 L498.25,742.47 L499.72,742.10 L500.95,741.73 L501.72,741.37 L500.93,741.05 L499.70,740.73 L498.20,740.42 L496.71,740.11 L495.47,739.79 L494.68,739.46 L495.46,739.11 L496.68,738.74 L498.16,738.37 L499.64,738.01 L500.87,737.65 L501.65,737.29 L500.86,736.96 L499.62,736.64 L498.13,736.32 L496.64,736.00 L495.40,735.68 L494.62,735.35 L495.39,734.99 L496.62,734.64 L498.10,734.27 L499.59,733.91 L500.81,733.56 L501.59,733.21 L500.80,732.88 L499.57,732.55 L498.08,732.22 L496.59,731.90 L495.35,731.57 L494.57,731.23 L495.35,730.88 L496.57,730.53 L498.06,730.17 L499.54,729.82 L500.77,729.47 L501.55,729.12 L500.77,728.79 L499.53,728.46 L498.04,728.12 L496.55,727.79 L495.32,727.46 L494.54,727.12 L495.32,726.77 L496.55,726.42 L498.03,726.07 L499.52,725.73 L500.75,725.38 L501.53,725.04 L500.74,724.70 L499.51,724.36 L498.02,724.02 L496.54,723.69 L495.30,723.35 L494.52,723.01 L495.30,722.66 L496.53,722.32 L498.02,721.97 L499.51,721.63 L500.74,721.29 L501.52,720.95 L500.73,720.61 L499.51,720.27 L498.02,719.92 L496.53,719.58 L495.30,719.24 L494.52,718.90 L495.30,718.56 L496.53,718.21 L498.02,717.87 L499.51,717.53 L500.74,717.20 L501.52,716.86 L500.74,716.51 L499.51,716.17 L498.02,715.82 L496.54,715.48 L495.31,715.13 L494.53,714.79 L495.31,714.45 L496.54,714.11 L498.03,713.77 L499.52,713.44 L500.75,713.10 L501.53,712.76 L500.75,712.42 L499.52,712.07 L498.04,711.72 L496.55,711.38 L495.32,711.03 L494.54,710.68 L495.33,710.34 L496.56,710.01 L498.05,709.67 L499.54,709.34 L500.77,709.01 L501.55,708.67 L500.77,708.32 L499.54,707.97 L498.06,707.62 L496.57,707.27 L495.35,706.92 L494.56,706.58 L495.35,706.24 L496.58,705.91 L498.07,705.57 L499.56,705.24 L500.79,704.91 L501.58,704.57 L500.80,704.23 L499.57,703.88 L498.09,703.52 L496.60,703.17 L495.37,702.82 L494.59,702.47 L495.38,702.14 L496.61,701.81 L498.10,701.47 L499.59,701.14 L500.82,700.81 L501.61,700.48 L500.83,700.13 L499.60,699.78 L498.12,699.42 L496.63,699.07 L495.40,698.72 L494.62,698.37 L495.41,698.04 L496.64,697.70 L498.13,697.37 L499.62,697.04 L500.85,696.71 L501.64,696.38 L500.86,696.03 L499.63,695.68 L498.15,695.32 L496.66,694.97 L495.44,694.62 L494.66,694.27 L495.44,693.94 L496.67,693.60 L498.16,693.27 L499.65,692.94 L500.89,692.61 L501.67,692.28 L500.89,691.93 L499.66,691.58 L498.18,691.22 L496.69,690.87 L495.47,690.52 L494.69,690.17 L495.47,689.84 L496.70,689.51 L498.19,689.17 L499.68,688.84 L500.92,688.51 L501.70,688.17 L500.92,687.83 L499.69,687.48 L498.21,687.12 L496.72,686.77 L495.50,686.42 L494.72,686.08 L495.50,685.74 L496.73,685.41 L498.22,685.07 L499.71,684.74 L500.94,684.41 L501.73,684.07 L500.95,683.72 L499.72,683.37 L498.23,683.02 L496.75,682.68 L495.52,682.33 L494.74,681.98 L495.52,681.65 L496.75,681.31 L498.24,680.98 L499.73,680.64 L500.96,680.30 L501.75,679.96 L500.97,679.62 L499.74,679.27 L498.25,678.93 L496.77,678.58 L495.54,678.23 L494.76,677.89 L495.54,677.55 L496.77,677.21 L498.26,676.88 L499.75,676.54 L500.98,676.20 L501.76,675.86 L500.98,675.51 L499.75,675.17 L498.26,674.83 L496.78,674.48 L495.55,674.14 L494.76,673.80 L495.55,673.46 L496.78,673.12 L498.26,672.78 L499.75,672.43 L500.98,672.09 L501.76,671.75 L500.98,671.41 L499.75,671.06 L498.26,670.73 L496.77,670.39 L495.54,670.05 L494.76,669.71 L495.54,669.37 L496.77,669.02 L498.26,668.68 L499.74,668.33 L500.97,667.98 L501.75,667.64 L500.97,667.30 L499.74,666.96 L498.25,666.63 L496.76,666.29 L495.53,665.96 L494.74,665.62 L495.53,665.27 L496.75,664.93 L498.24,664.58 L499.72,664.22 L500.95,663.87 L501.73,663.52 L500.94,663.19 L499.71,662.85 L498.22,662.53 L496.73,662.20 L495.50,661.87 L494.71,661.53 L495.49,661.19 L496.72,660.83 L498.20,660.48 L499.69,660.12" fill="none" stroke="#1a1a1a" stroke-width="1.05" stroke-linejoin="round"/>
<path d="M505.20,327.98 L505.20,329.00 L505.19,330.03 L505.18,331.05 L505.17,332.08 L505.17,333.11 L505.16,334.13 L505.15,335.16 L505.14,336.18 L505.14,337.21 L505.13,338.23 L505.12,339.26 L505.12,340.28 L505.11,341.31 L505.10,342.33 L505.10,343.36 L505.09,344.38 L505.09,345.41 L505.08,346.43 L505.07,347.46 L505.07,348.49 L505.06,349.51 L505.06,350.54 L505.05,351.56 L505.05,352.59 L505.04,353.61 L505.04,354.64 L505.03,355.66 L505.03,356.69 L505.02,357.71 L505.02,358.74 L505.01,359.76 L505.01,360.79 L505.00,361.81 L505.00,362.84 L504.99,363.87 L504.99,364.89 L504.99,365.92 L504.98,366.94 L504.98,367.97 L504.97,368.99 L504.97,370.02 L504.97,371.04 L504.96,372.07 L504.96,373.09 L504.96,374.12 L504.95,375.14 L504.95,376.17 L504.95,377.19 L504.94,378.22 L504.94,379.24 L504.94,380.27 L504.94,381.30 L504.93,382.32 L504.93,383.35 L504.93,384.37 L504.93,385.40 L504.92,386.42 L504.92,387.45 L504.92,388.47 L504.92,389.50 L504.91,390.52 L504.91,391.55 L504.91,392.57 L504.91,393.60 L504.91,394.62 L504.91,395.65 L504.90,396.67 L504.90,397.70 L504.90,398.72 L504.90,399.75 L504.90,400.78 L504.90,401.80 L504.90,402.83 L504.89,403.85 L504.89,404.88 L504.89,405.90 L504.89,406.93 L504.89,407.95 L504.89,408.98 L504.89,410.00 L504.89,411.03 L504.89,412.05 L504.89,413.08 L504.89,414.10 L504.89,415.13 L504.88,416.15 L504.88,417.18 L504.88,418.20 L504.88,419.23 L504.88,420.25 L504.88,421.28 L504.88,422.30 L504.88,423.33 L504.88,424.35 L504.88,425.38 L504.88,426.41 L504.88,427.43 L504.88,428.46 L504.88,429.48 L504.88,430.51 L504.88,431.53 L504.88,432.56 L504.88,433.58 L504.89,434.61 L504.89,435.63 L504.89,436.66 L504.89,437.68 L504.89,438.71 L504.89,439.73 L504.89,440.76 L504.89,441.78 L504.89,442.81 L504.89,443.83 L504.89,444.86 L504.89,445.88 L504.89,446.91 L504.89,447.93 L504.90,448.96 L504.90,449.98 L504.90,451.01 L504.90,452.03 L504.90,453.06 L504.90,454.08 L504.90,455.11 L504.90,456.13 L504.90,457.16 L504.90,458.18 L504.91,459.21 L504.91,460.23 L504.91,461.26 L504.91,462.28 L504.91,463.31 L504.91,464.33 L504.91,465.36 L504.91,466.38 L504.92,467.41 L504.92,468.43 L504.92,469.46 L504.92,470.48 L504.92,471.51 L504.92,472.53 L504.92,473.56 L504.93,474.58 L504.93,475.61 L504.93,476.63 L504.93,477.66 L504.93,478.68 L504.93,479.71 L504.94,480.73 L504.94,481.76 L504.94,482.78 L504.94,483.81 L504.94,484.83 L504.94,485.86 L504.94,486.89 L504.95,487.91 L504.95,488.94 L504.95,489.96 L504.95,490.99 L504.95,492.01 L504.95,493.04 L504.96,494.06 L504.96,495.08 L504.96,496.11 L504.96,497.13 L504.96,498.16 L504.96,499.18 L504.96,500.21 L504.97,501.23 L504.97,502.26 L504.97,503.28 L504.97,504.31 L504.97,505.33 L504.97,506.36 L504.98,507.38 L504.98,508.41 L504.98,509.43 L504.98,510.46 L504.98,511.48 L504.98,512.51 L504.98,513.53 L504.99,514.56 L504.99,515.58 L504.99,516.61 L504.99,517.63 L504.99,518.66 L504.99,519.68 L504.99,520.71 L504.99,521.73 L505.00,522.76 L505.00,523.78 L505.00,524.81 L505.00,525.83 L505.00,526.86 L505.00,527.88 L505.00,528.91 L505.00,529.93 L505.00,530.96 L505.01,531.98 L505.01,533.01 L505.01,534.03 L505.01,535.06 L505.01,536.08 L505.01,537.11 L505.01,538.13 L505.01,539.16 L505.01,540.18 L505.01,541.21 L505.01,542.23 L505.01,543.26 L505.01,544.28 L505.01,545.31 L505.02,546.33 L505.02,547.36 L505.02,548.38 L505.02,549.41 L505.02,550.43 L505.02,551.46 L505.02,552.48 L505.02,553.51 L505.02,554.53 L505.02,555.55 L505.02,556.58 L505.02,557.60 L505.02,558.63 L505.02,559.65 L505.02,560.68 L505.02,561.70 L505.02,562.73 L505.02,563.75 L505.02,564.78 L505.02,565.80 L505.02,566.83 L505.01,567.85 L505.01,568.88 L505.01,569.90 L505.01,570.93 L505.01,571.95 L505.01,572.98 L505.01,574.00 L505.01,575.03 L505.01,576.05 L505.01,577.08 L505.01,578.10 L505.00,579.13 L505.00,580.15 L505.00,581.17 L505.00,582.20 L505.00,583.22 L505.00,584.25 L505.00,585.27 L504.99,586.30 L504.99,587.32 L504.99,588.35 L504.99,589.37 L504.99,590.40 L504.99,591.42 L504.98,592.45 L504.98,593.47 L504.98,594.50 L504.98,595.52 L504.97,596.55 L504.97,597.57 L504.97,598.60 L504.97,599.62 L504.96,600.65 L504.96,601.67 L504.96,602.69 L504.95,603.72 L504.95,604.74 L504.95,605.77 L504.95,606.79 L504.94,607.82 L504.94,608.84 L504.94,609.87 L504.93,610.89 L504.93,611.92 L504.92,612.94 L504.92,613.97 L504.92,614.99 L504.91,616.02 L504.91,617.04 L504.90,618.06 L504.90,619.09 L504.90,620.11 L504.89,621.14 L504.89,622.16 L504.88,623.19 L504.88,624.21 L504.87,625.24 L504.87,626.26 L504.86,627.29 L504.86,628.31 L504.85,629.34 L504.85,630.36 L504.84,631.39 L504.84,632.41 L504.83,633.43 L504.82,634.46 L504.82,635.48 L504.81,636.51 L504.81,637.53 L504.80,638.56 L504.79,639.58 L504.79,640.61 L504.78,641.63 L504.77,642.66 L504.77,643.68 L504.76,644.71 L504.75,645.73 L504.75,646.75 L504.74,647.78 L504.73,648.80 L504.72,649.83 L504.72,650.85 L504.71,651.88 L504.70,652.90 L504.69,653.93 L504.68,654.95 L504.68,655.98 L504.67,657.00 L504.66,658.02 L504.65,659.05 L504.64,660.07 L504.63,661.10 L504.62,662.12 L504.62,663.15 L504.61,664.17 L504.60,665.20 L504.59,666.22 L504.58,667.25 L504.57,668.27 L504.56,669.29 L504.55,670.32 L504.54,671.34 L504.53,672.37 L504.52,673.39 L504.51,674.42 L504.50,675.44 L504.49,676.47 L504.48,677.49 L504.46,678.51 L504.45,679.54 L504.44,680.56 L504.43,681.59 L504.42,682.61 L504.41,683.64 L504.40,684.66 L504.38,685.69 L504.37,686.71 L504.36,687.73 L504.35,688.76 L504.33,689.78 L504.32,690.81 L504.31,691.83 L504.29,692.86 L504.28,693.88 L504.27,694.91 L504.25,695.93 L504.24,696.95 L504.23,697.98 L504.21,699.00 L504.20,700.03 L504.18,701.05 L504.17,702.08 L504.16,703.10 L504.14,704.13 L504.13,705.15 L504.11,706.17 L504.10,707.20 L504.08,708.22 L504.07,709.25 L504.05,710.27 L504.03,711.30 L504.02,712.32 L504.00,713.34 L503.98,714.37 L503.97,715.39 L503.95,716.42 L503.93,717.44 L503.92,718.47 L503.90,719.49 L503.88,720.51 L503.87,721.54 L503.85,722.56 L503.83,723.59 L503.81,724.61 L503.79,725.64 L503.78,726.66 L503.76,727.68 L503.74,728.71 L503.72,729.73 L503.70,730.76 L503.68,731.78 L503.66,732.80 L503.64,733.83 L503.62,734.85 L503.60,735.88 L503.58,736.90 L503.56,737.93 L503.54,738.95 L503.52,739.97 L503.50,741.00 L503.48,742.02 L503.46,743.05 L503.44,744.07 L503.41,745.09 L503.39,746.12 L503.37,747.14 L503.35,748.17 L503.32,749.19 L503.30,750.22 L503.28,751.24 L503.26,752.26 L503.23,753.28 L503.21,754.31 L503.18,755.33 L503.16,756.35 L503.13,757.37 L503.10,758.39 L503.07,759.41 L503.04,760.43 L503.00,761.44 L502.97,762.46 L502.93,763.48 L502.89,764.49 L502.85,765.51 L502.80,766.52 L502.75,767.54 L502.70,768.55 L502.65,769.57 L502.59,770.58 L502.53,771.59 L502.47,772.60 L502.40,773.61 L502.33,774.62 L502.26,775.63 L502.18,776.64 L502.10,777.64 L502.01,778.65 L501.92,779.66 L501.82,780.66 L501.73,781.67 L501.62,782.67 L501.51,783.67 L501.40,784.68 L501.28,785.69 L501.16,786.70 L501.04,787.72 L500.92,788.75 L500.81,789.78 L500.69,790.82 L500.59,791.85 L500.48,792.89 L500.39,793.93 L500.30,794.96 L500.21,795.98 L500.12,797.00 L500.03,798.01 L499.93,799.02 L499.83,800.00 L499.72,800.94 L499.61,801.72 L505.96,801.67 L505.88,801.20 L505.76,800.30 L505.64,799.33 L505.54,798.34 L505.43,797.34 L505.34,796.34 L505.25,795.32 L505.15,794.31 L505.06,793.29 L504.97,792.27 L504.88,791.24 L504.78,790.22 L504.69,789.20 L504.60,788.17 L504.50,787.15 L504.41,786.13 L504.31,785.11 L504.22,784.09 L504.12,783.07 L504.03,782.05 L503.94,781.03 L503.84,780.01 L503.75,779.00 L503.66,777.98 L503.57,776.96 L503.48,775.95 L503.40,774.93 L503.31,773.92 L503.23,772.90 L503.15,771.89 L503.07,770.87 L503.00,769.86 L502.92,768.85 L502.85,767.83 L502.78,766.82 L502.72,765.80 L502.65,764.79 L502.59,763.77 L502.53,762.76 L502.48,761.74 L502.42,760.72 L502.37,759.71 L502.32,758.69 L502.27,757.67 L502.22,756.66 L502.18,755.64 L502.13,754.62 L502.09,753.60 L502.05,752.58 L502.01,751.57 L501.98,750.55 L501.94,749.53 L501.91,748.51 L501.88,747.49 L501.85,746.47 L501.82,745.45 L501.79,744.43 L501.77,743.41 L501.74,742.39 L501.72,741.37 L501.70,740.35 L501.68,739.33 L501.66,738.31 L501.65,737.29 L501.63,736.27 L501.62,735.25 L501.60,734.23 L501.59,733.21 L501.58,732.19 L501.57,731.17 L501.56,730.14 L501.55,729.12 L501.54,728.10 L501.54,727.08 L501.53,726.06 L501.53,725.04 L501.52,724.01 L501.52,722.99 L501.52,721.97 L501.52,720.95 L501.52,719.92 L501.52,718.90 L501.52,717.88 L501.52,716.86 L501.52,715.83 L501.53,714.81 L501.53,713.79 L501.53,712.76 L501.54,711.74 L501.54,710.72 L501.55,709.69 L501.55,708.67 L501.56,707.65 L501.56,706.62 L501.57,705.60 L501.58,704.57 L501.59,703.55 L501.59,702.52 L501.60,701.50 L501.61,700.48 L501.62,699.45 L501.62,698.43 L501.63,697.40 L501.64,696.38 L501.65,695.35 L501.66,694.33 L501.66,693.30 L501.67,692.28 L501.68,691.25 L501.69,690.23 L501.69,689.20 L501.70,688.17 L501.71,687.15 L501.72,686.12 L501.72,685.10 L501.73,684.07 L501.73,683.04 L501.74,682.02 L501.74,680.99 L501.75,679.96 L501.75,678.94 L501.76,677.91 L501.76,676.88 L501.76,675.86 L501.76,674.83 L501.76,673.80 L501.76,672.77 L501.76,671.75 L501.76,670.72 L501.76,669.69 L501.76,668.66 L501.75,667.64 L501.75,666.61 L501.74,665.58 L501.74,664.55 L501.73,663.52 L501.72,662.49 L501.71,661.47 L501.70,660.44" fill="none" stroke="#666" stroke-width="0.6"/>
<path d="M512.20,328.03 L512.20,329.06 L512.19,330.08 L512.18,331.11 L512.17,332.13 L512.17,333.16 L512.16,334.18 L512.15,335.20 L512.14,336.23 L512.14,337.25 L512.13,338.28 L512.12,339.30 L512.12,340.33 L512.11,341.35 L512.10,342.38 L512.10,343.40 L512.09,344.43 L512.09,345.45 L512.08,346.48 L512.07,347.50 L512.07,348.52 L512.06,349.55 L512.06,350.57 L512.05,351.60 L512.05,352.62 L512.04,353.65 L512.04,354.67 L512.03,355.70 L512.03,356.72 L512.02,357.75 L512.02,358.77 L512.01,359.80 L512.01,360.82 L512.00,361.84 L512.00,362.87 L511.99,363.89 L511.99,364.92 L511.99,365.94 L511.98,366.97 L511.98,367.99 L511.97,369.02 L511.97,370.04 L511.97,371.07 L511.96,372.09 L511.96,373.12 L511.96,374.14 L511.95,375.17 L511.95,376.19 L511.95,377.22 L511.94,378.24 L511.94,379.26 L511.94,380.29 L511.94,381.31 L511.93,382.34 L511.93,383.36 L511.93,384.39 L511.93,385.41 L511.92,386.44 L511.92,387.46 L511.92,388.49 L511.92,389.51 L511.91,390.54 L511.91,391.56 L511.91,392.59 L511.91,393.61 L511.91,394.64 L511.91,395.66 L511.90,396.69 L511.90,397.71 L511.90,398.73 L511.90,399.76 L511.90,400.78 L511.90,401.81 L511.90,402.83 L511.89,403.86 L511.89,404.88 L511.89,405.91 L511.89,406.93 L511.89,407.96 L511.89,408.98 L511.89,410.01 L511.89,411.03 L511.89,412.06 L511.89,413.08 L511.89,414.11 L511.89,415.13 L511.88,416.16 L511.88,417.18 L511.88,418.21 L511.88,419.23 L511.88,420.26 L511.88,421.28 L511.88,422.31 L511.88,423.33 L511.88,424.35 L511.88,425.38 L511.88,426.40 L511.88,427.43 L511.88,428.45 L511.88,429.48 L511.88,430.50 L511.88,431.53 L511.88,432.55 L511.88,433.58 L511.89,434.60 L511.89,435.63 L511.89,436.65 L511.89,437.68 L511.89,438.70 L511.89,439.73 L511.89,440.75 L511.89,441.78 L511.89,442.80 L511.89,443.83 L511.89,444.85 L511.89,445.88 L511.89,446.90 L511.89,447.93 L511.90,448.95 L511.90,449.98 L511.90,451.00 L511.90,452.03 L511.90,453.05 L511.90,454.08 L511.90,455.10 L511.90,456.13 L511.90,457.15 L511.90,458.18 L511.91,459.20 L511.91,460.23 L511.91,461.25 L511.91,462.28 L511.91,463.30 L511.91,464.33 L511.91,465.35 L511.91,466.38 L511.92,467.40 L511.92,468.42 L511.92,469.45 L511.92,470.47 L511.92,471.50 L511.92,472.52 L511.92,473.55 L511.93,474.57 L511.93,475.60 L511.93,476.62 L511.93,477.65 L511.93,478.67 L511.93,479.70 L511.94,480.72 L511.94,481.75 L511.94,482.77 L511.94,483.80 L511.94,484.82 L511.94,485.85 L511.94,486.87 L511.95,487.90 L511.95,488.92 L511.95,489.95 L511.95,490.97 L511.95,492.00 L511.95,493.02 L511.96,494.05 L511.96,495.07 L511.96,496.10 L511.96,497.12 L511.96,498.15 L511.96,499.17 L511.96,500.20 L511.97,501.22 L511.97,502.25 L511.97,503.27 L511.97,504.30 L511.97,505.32 L511.97,506.35 L511.98,507.37 L511.98,508.40 L511.98,509.42 L511.98,510.45 L511.98,511.47 L511.98,512.50 L511.98,513.52 L511.99,514.55 L511.99,515.58 L511.99,516.60 L511.99,517.63 L511.99,518.65 L511.99,519.68 L511.99,520.70 L511.99,521.73 L512.00,522.75 L512.00,523.78 L512.00,524.80 L512.00,525.83 L512.00,526.85 L512.00,527.88 L512.00,528.90 L512.00,529.93 L512.00,530.95 L512.01,531.98 L512.01,533.00 L512.01,534.03 L512.01,535.05 L512.01,536.08 L512.01,537.10 L512.01,538.13 L512.01,539.15 L512.01,540.18 L512.01,541.20 L512.01,542.23 L512.01,543.25 L512.01,544.28 L512.01,545.30 L512.02,546.33 L512.02,547.35 L512.02,548.38 L512.02,549.40 L512.02,550.43 L512.02,551.45 L512.02,552.48 L512.02,553.50 L512.02,554.53 L512.02,555.55 L512.02,556.58 L512.02,557.60 L512.02,558.63 L512.02,559.66 L512.02,560.68 L512.02,561.71 L512.02,562.73 L512.02,563.76 L512.02,564.78 L512.02,565.81 L512.02,566.83 L512.01,567.86 L512.01,568.88 L512.01,569.91 L512.01,570.93 L512.01,571.96 L512.01,572.98 L512.01,574.01 L512.01,575.03 L512.01,576.06 L512.01,577.08 L512.01,578.11 L512.00,579.13 L512.00,580.16 L512.00,581.18 L512.00,582.21 L512.00,583.23 L512.00,584.26 L512.00,585.29 L511.99,586.31 L511.99,587.34 L511.99,588.36 L511.99,589.39 L511.99,590.41 L511.99,591.44 L511.98,592.46 L511.98,593.49 L511.98,594.51 L511.98,595.54 L511.97,596.56 L511.97,597.59 L511.97,598.61 L511.97,599.64 L511.96,600.66 L511.96,601.69 L511.96,602.71 L511.95,603.74 L511.95,604.77 L511.95,605.79 L511.95,606.82 L511.94,607.84 L511.94,608.87 L511.94,609.89 L511.93,610.92 L511.93,611.94 L511.92,612.97 L511.92,613.99 L511.92,615.02 L511.91,616.04 L511.91,617.07 L511.90,618.09 L511.90,619.12 L511.90,620.14 L511.89,621.17 L511.89,622.20 L511.88,623.22 L511.88,624.25 L511.87,625.27 L511.87,626.30 L511.86,627.32 L511.86,628.35 L511.85,629.37 L511.85,630.40 L511.84,631.42 L511.84,632.45 L511.83,633.47 L511.82,634.50 L511.82,635.52 L511.81,636.55 L511.81,637.58 L511.80,638.60 L511.79,639.63 L511.79,640.65 L511.78,641.68 L511.77,642.70 L511.77,643.73 L511.76,644.75 L511.75,645.78 L511.75,646.80 L511.74,647.83 L511.73,648.85 L511.72,649.88 L511.72,650.91 L511.71,651.93 L511.70,652.96 L511.69,653.98 L511.68,655.01 L511.68,656.03 L511.67,657.06 L511.66,658.08 L511.65,659.11 L511.64,660.13 L511.63,661.16 L511.62,662.18 L511.62,663.21 L511.61,664.24 L511.60,665.26 L511.59,666.29 L511.58,667.31 L511.57,668.34 L511.56,669.36 L511.55,670.39 L511.54,671.41 L511.53,672.44 L511.52,673.46 L511.51,674.49 L511.50,675.51 L511.49,676.54 L511.47,677.57 L511.46,678.59 L511.45,679.62 L511.44,680.64 L511.43,681.67 L511.42,682.69 L511.41,683.72 L511.39,684.74 L511.38,685.77 L511.37,686.79 L511.36,687.82 L511.35,688.84 L511.33,689.87 L511.32,690.90 L511.31,691.92 L511.29,692.95 L511.28,693.97 L511.27,695.00 L511.25,696.02 L511.24,697.05 L511.23,698.07 L511.21,699.10 L511.20,700.12 L511.18,701.15 L511.17,702.18 L511.16,703.20 L511.14,704.23 L511.13,705.25 L511.11,706.28 L511.10,707.30 L511.08,708.33 L511.06,709.35 L511.05,710.38 L511.03,711.40 L511.02,712.43 L511.00,713.46 L510.98,714.48 L510.97,715.51 L510.95,716.53 L510.93,717.56 L510.92,718.58 L510.90,719.61 L510.88,720.63 L510.86,721.66 L510.85,722.68 L510.83,723.71 L510.81,724.74 L510.79,725.76 L510.77,726.79 L510.76,727.81 L510.74,728.84 L510.72,729.86 L510.70,730.89 L510.68,731.91 L510.66,732.94 L510.64,733.96 L510.62,734.99 L510.60,736.01 L510.58,737.04 L510.56,738.07 L510.54,739.09 L510.52,740.12 L510.50,741.14 L510.48,742.17 L510.46,743.19 L510.43,744.22 L510.41,745.24 L510.39,746.27 L510.37,747.29 L510.35,748.32 L510.32,749.35 L510.30,750.37 L510.28,751.40 L510.25,752.42 L510.23,753.45 L510.21,754.48 L510.18,755.51 L510.15,756.53 L510.13,757.56 L510.10,758.59 L510.07,759.62 L510.03,760.65 L510.00,761.68 L509.96,762.72 L509.92,763.75 L509.88,764.78 L509.84,765.81 L509.79,766.84 L509.74,767.88 L509.69,768.91 L509.64,769.95 L509.58,770.98 L509.52,772.02 L509.45,773.05 L509.39,774.09 L509.31,775.12 L509.24,776.16 L509.16,777.19 L509.07,778.23 L508.98,779.26 L508.89,780.30 L508.79,781.34 L508.69,782.37 L508.58,783.41 L508.47,784.44 L508.35,785.48 L508.23,786.50 L508.11,787.52 L507.99,788.54 L507.88,789.55 L507.76,790.55 L507.65,791.56 L507.55,792.56 L507.45,793.56 L507.36,794.56 L507.27,795.58 L507.18,796.59 L507.09,797.62 L507.00,798.65 L506.90,799.69 L506.79,800.74 L506.67,801.83 L506.47,803.08 L499.31,803.84 L498.97,802.31 L498.81,801.18 L498.69,800.11 L498.57,799.06 L498.47,798.02 L498.37,796.99 L498.27,795.96 L498.18,794.93 L498.09,793.91 L498.00,792.89 L497.91,791.87 L497.81,790.85 L497.72,789.84 L497.63,788.82 L497.53,787.80 L497.44,786.78 L497.34,785.76 L497.25,784.74 L497.15,783.72 L497.06,782.69 L496.97,781.67 L496.87,780.65 L496.78,779.62 L496.69,778.60 L496.60,777.57 L496.51,776.55 L496.42,775.52 L496.34,774.49 L496.25,773.46 L496.17,772.43 L496.09,771.40 L496.01,770.37 L495.94,769.34 L495.87,768.31 L495.80,767.28 L495.73,766.25 L495.67,765.22 L495.61,764.19 L495.55,763.16 L495.49,762.13 L495.43,761.10 L495.38,760.06 L495.33,759.03 L495.28,758.00 L495.23,756.97 L495.18,755.94 L495.14,754.91 L495.10,753.88 L495.06,752.85 L495.02,751.82 L494.98,750.79 L494.95,749.76 L494.91,748.73 L494.88,747.70 L494.85,746.67 L494.82,745.64 L494.80,744.61 L494.77,743.58 L494.75,742.55 L494.72,741.52 L494.70,740.49 L494.68,739.46 L494.66,738.43 L494.65,737.41 L494.63,736.38 L494.62,735.35 L494.60,734.32 L494.59,733.29 L494.58,732.26 L494.57,731.23 L494.56,730.20 L494.55,729.18 L494.54,728.15 L494.54,727.12 L494.53,726.09 L494.53,725.06 L494.52,724.04 L494.52,723.01 L494.52,721.98 L494.52,720.95 L494.52,719.92 L494.52,718.90 L494.52,717.87 L494.52,716.84 L494.52,715.82 L494.53,714.79 L494.53,713.76 L494.53,712.74 L494.54,711.71 L494.54,710.68 L494.55,709.66 L494.55,708.63 L494.56,707.60 L494.56,706.58 L494.57,705.55 L494.58,704.53 L494.59,703.50 L494.59,702.47 L494.60,701.45 L494.61,700.42 L494.62,699.40 L494.62,698.37 L494.63,697.35 L494.64,696.32 L494.65,695.30 L494.66,694.27 L494.66,693.25 L494.67,692.22 L494.68,691.20 L494.69,690.17 L494.69,689.15 L494.70,688.13 L494.71,687.10 L494.72,686.08 L494.72,685.05 L494.73,684.03 L494.73,683.01 L494.74,681.98 L494.74,680.96 L494.75,679.94 L494.75,678.91 L494.76,677.89 L494.76,676.87 L494.76,675.84 L494.76,674.82 L494.76,673.80 L494.76,672.78 L494.76,671.75 L494.76,670.73 L494.76,669.71 L494.76,668.69 L494.75,667.66 L494.75,666.64 L494.74,665.62 L494.74,664.60 L494.73,663.58 L494.72,662.56 L494.71,661.53 L494.70,660.51" fill="none" stroke="#666" stroke-width="0.6"/>
<defs><linearGradient id="vg" x1="0" y1="0" x2="0" y2="1"><stop offset="0" stop-color="#222" stop-opacity="0"/><stop offset="0.55" stop-color="#222" stop-opacity="0.55"/><stop offset="1" stop-color="#111" stop-opacity="0.95"/></linearGradient></defs>
<path d="M495.8,758 L509.8,758 L509,780 Q507.5,794 502.8,801 Q498,794 496.6,780 Z" fill="url(#vg)"/>
<path d="M502.8,755 L502.8,795" stroke="#333" stroke-width="1.2" fill="none"/>
<rect x="134.9" y="34.1" width="31.85" height="31.20" rx="4" stroke="#888" stroke-width="1.2" fill="none" />
<rect x="144.25" y="43.35" width="13.15" height="13.25" rx="1.5" stroke="#222" stroke-width="1.2" fill="none" />
<rect x="144" y="56.7" width="13.80" height="1.50" rx="0" stroke="#2a2a2a" stroke-width="0" fill="#999" />
<rect x="144" y="58" width="13.80" height="8.00" rx="0" stroke="#777" stroke-width="0.8" fill="none" />
<rect x="148.2" y="64.2" width="5.80" height="1.90" rx="0" stroke="#777" stroke-width="0.7" fill="none" />
<rect x="145.4" y="66.5" width="9.70" height="2.50" rx="0" stroke="#2a2a2a" stroke-width="0" fill="#888" />
<rect x="142.1" y="69.2" width="17.30" height="12.70" rx="0" stroke="#666" stroke-width="0.8" fill="none" />
<rect x="147" y="69.2" width="7.30" height="3.50" rx="0" stroke="#777" stroke-width="0.7" fill="none" />
<path d="M71.4,85.4 L80.75,85.2 L86.75,82.3 L213.3,82.3 L219.3,85.2 L229.8,85.4" stroke="#222" stroke-width="1.1" fill="none" />
<line x1="79.4" y1="85.2" x2="221.8" y2="85.2" stroke="#333" stroke-width="1" />
<line x1="93.1" y1="82.3" x2="93.1" y2="85.2" stroke="#555" stroke-width="0.8" />
<line x1="116.8" y1="82.3" x2="116.8" y2="85.2" stroke="#555" stroke-width="0.8" />
<line x1="184.4" y1="82.3" x2="184.4" y2="85.2" stroke="#555" stroke-width="0.8" />
<line x1="208.4" y1="82.3" x2="208.4" y2="85.2" stroke="#555" stroke-width="0.8" />
<path d="M86.35,85.4 L86.55,87.8 Q86.85,88.8 88.25,88.8 Q89.65,88.8 89.95,87.8 L90.15,85.4" stroke="#333" stroke-width="1.0" fill="#ccc" />
<line x1="88.25" y1="86.2" x2="88.25" y2="88.4" stroke="#555" stroke-width="0.8" />
<path d="M95.91,85.4 L96.11,87.8 Q96.41,88.8 97.81,88.8 Q99.21000000000001,88.8 99.51,87.8 L99.71000000000001,85.4" stroke="#333" stroke-width="1.0" fill="#ccc" />
<line x1="97.81" y1="86.2" x2="97.81" y2="88.4" stroke="#555" stroke-width="0.8" />
<path d="M105.47,85.4 L105.67,87.8 Q105.97,88.8 107.37,88.8 Q108.77000000000001,88.8 109.07000000000001,87.8 L109.27000000000001,85.4" stroke="#333" stroke-width="1.0" fill="#ccc" />
<line x1="107.37" y1="86.2" x2="107.37" y2="88.4" stroke="#555" stroke-width="0.8" />
<path d="M115.03,85.4 L115.23,87.8 Q115.53,88.8 116.93,88.8 Q118.33000000000001,88.8 118.63000000000001,87.8 L118.83000000000001,85.4" stroke="#333" stroke-width="1.0" fill="#ccc" />
<line x1="116.93" y1="86.2" x2="116.93" y2="88.4" stroke="#555" stroke-width="0.8" />
<path d="M124.59,85.4 L124.79,87.8 Q125.09,88.8 126.49000000000001,88.8 Q127.89000000000001,88.8 128.19,87.8 L128.39000000000001,85.4" stroke="#333" stroke-width="1.0" fill="#ccc" />
<line x1="126.49000000000001" y1="86.2" x2="126.49000000000001" y2="88.4" stroke="#555" stroke-width="0.8" />
<path d="M134.15,85.4 L134.35000000000002,87.8 Q134.65,88.8 136.05,88.8 Q137.45000000000002,88.8 137.75,87.8 L137.95000000000002,85.4" stroke="#333" stroke-width="1.0" fill="#ccc" />
<line x1="136.05" y1="86.2" x2="136.05" y2="88.4" stroke="#555" stroke-width="0.8" />
<path d="M143.71,85.4 L143.91000000000003,87.8 Q144.21,88.8 145.61,88.8 Q147.01000000000002,88.8 147.31,87.8 L147.51000000000002,85.4" stroke="#333" stroke-width="1.0" fill="#ccc" />
<line x1="145.61" y1="86.2" x2="145.61" y2="88.4" stroke="#555" stroke-width="0.8" />
<path d="M153.27,85.4 L153.47000000000003,87.8 Q153.77,88.8 155.17000000000002,88.8 Q156.57000000000002,88.8 156.87,87.8 L157.07000000000002,85.4" stroke="#333" stroke-width="1.0" fill="#ccc" />
<line x1="155.17000000000002" y1="86.2" x2="155.17000000000002" y2="88.4" stroke="#555" stroke-width="0.8" />
<path d="M162.83,85.4 L163.03000000000003,87.8 Q163.33,88.8 164.73000000000002,88.8 Q166.13000000000002,88.8 166.43,87.8 L166.63000000000002,85.4" stroke="#333" stroke-width="1.0" fill="#ccc" />
<line x1="164.73000000000002" y1="86.2" x2="164.73000000000002" y2="88.4" stroke="#555" stroke-width="0.8" />
<path d="M172.39000000000001,85.4 L172.59000000000003,87.8 Q172.89000000000001,88.8 174.29000000000002,88.8 Q175.69000000000003,88.8 175.99,87.8 L176.19000000000003,85.4" stroke="#333" stroke-width="1.0" fill="#ccc" />
<line x1="174.29000000000002" y1="86.2" x2="174.29000000000002" y2="88.4" stroke="#555" stroke-width="0.8" />
<path d="M181.95000000000002,85.4 L182.15000000000003,87.8 Q182.45000000000002,88.8 183.85000000000002,88.8 Q185.25000000000003,88.8 185.55,87.8 L185.75000000000003,85.4" stroke="#333" stroke-width="1.0" fill="#ccc" />
<line x1="183.85000000000002" y1="86.2" x2="183.85000000000002" y2="88.4" stroke="#555" stroke-width="0.8" />
<path d="M191.51000000000002,85.4 L191.71000000000004,87.8 Q192.01000000000002,88.8 193.41000000000003,88.8 Q194.81000000000003,88.8 195.11,87.8 L195.31000000000003,85.4" stroke="#333" stroke-width="1.0" fill="#ccc" />
<line x1="193.41000000000003" y1="86.2" x2="193.41000000000003" y2="88.4" stroke="#555" stroke-width="0.8" />
<path d="M201.07,85.4 L201.27,87.8 Q201.57,88.8 202.97,88.8 Q204.37,88.8 204.67,87.8 L204.87,85.4" stroke="#333" stroke-width="1.0" fill="#ccc" />
<line x1="202.97" y1="86.2" x2="202.97" y2="88.4" stroke="#555" stroke-width="0.8" />
<path d="M210.63,85.4 L210.83,87.8 Q211.13,88.8 212.53,88.8 Q213.93,88.8 214.23,87.8 L214.43,85.4" stroke="#333" stroke-width="1.0" fill="#ccc" />
<line x1="212.53" y1="86.2" x2="212.53" y2="88.4" stroke="#555" stroke-width="0.8" />
<line x1="475.2" y1="12.5" x2="675.4" y2="12.5" stroke="#999" stroke-width="0.8" />
<polygon points="475.20,12.50 483.00,11.10 483.00,13.90" fill="#111"/>
<polygon points="675.40,12.50 667.60,11.10 667.60,13.90" fill="#111"/>
<line x1="475.2" y1="12.5" x2="475.2" y2="34" stroke="#c0c0c0" stroke-width="0.8" />
<line x1="675.4" y1="12.5" x2="675.4" y2="43" stroke="#c0c0c0" stroke-width="0.8" />
<g transform="translate(575.8,10)"><text x="-9.18" y="0" font-size="11">380</text></g>
<path d="M475.1,34.1 L480.2,34.1 Q482.2,34.1 482.2,36.3 L482.2,64 Q482.2,66.2 480.2,66.2 L475.1,66.2 Z" stroke="#777" stroke-width="0.9" fill="#fff" />
<rect x="480.4" y="35" width="1.40" height="30.50" rx="0" stroke="#2a2a2a" stroke-width="0" fill="#ccc" />
<line x1="475.1" y1="37.35" x2="482.2" y2="37.35" stroke="#666" stroke-width="0.8" />
<line x1="475.1" y1="62.65" x2="482.2" y2="62.65" stroke="#666" stroke-width="0.8" />
<line x1="475.1" y1="43.7" x2="482.2" y2="43.7" stroke="#ccc" stroke-width="0.6" />
<line x1="475.1" y1="56.4" x2="482.2" y2="56.4" stroke="#ccc" stroke-width="0.6" />
<path d="M482.2,43.6 L685.7,43.6 L685.7,56.4 L482.2,56.4" stroke="#333" stroke-width="1" fill="none" />
<rect x="462.7" y="44.8" width="11.90" height="10.60" rx="0" stroke="#555" stroke-width="1" fill="none" />
<line x1="462.7" y1="55.4" x2="474.6" y2="55.4" stroke="#333" stroke-width="1" />
<line x1="433.1" y1="34.1" x2="475.2" y2="34.1" stroke="#999" stroke-width="0.8" />
<line x1="433.1" y1="66.4" x2="475.2" y2="66.4" stroke="#999" stroke-width="0.8" />
<line x1="432.7" y1="34.1" x2="432.7" y2="66.4" stroke="#c0c0c0" stroke-width="0.8" />
<polygon points="432.70,34.30 431.30,41.10 434.10,41.10" fill="#111"/>
<polygon points="432.70,66.20 431.30,59.40 434.10,59.40" fill="#111"/>
<g transform="translate(429.8,50.2) rotate(-90)"><text x="-15.90" y="0" font-size="11">60X60</text></g>
<line x1="451.6" y1="28.7" x2="451.6" y2="71.4" stroke="#aaa" stroke-width="0.7" />
<line x1="451.6" y1="44.8" x2="462.9" y2="44.8" stroke="#999" stroke-width="0.8" />
<line x1="451.6" y1="55.5" x2="462.9" y2="55.5" stroke="#999" stroke-width="0.8" />
<polygon points="451.60,44.80 450.20,37.00 453.00,37.00" fill="#111"/>
<polygon points="451.60,55.50 450.20,63.30 453.00,63.30" fill="#111"/>
<g transform="translate(448,50.2) rotate(-90)"><text x="-11.92" y="0" font-size="11">G /2</text><path transform="translate(-3.37,0) scale(0.00537,-0.00537)" d="M763,0 L583,0 L583,1147 Q518,1085 412,1023 Q306,961 222,930 L222,1104 Q373,1175 486,1276 Q599,1377 646,1472 L763,1472 Z" fill="#111" stroke="#222" stroke-width="46.5"/></g>
<line x1="557.3" y1="28.5" x2="557.3" y2="103.5" stroke="#aaa" stroke-width="0.8" />
<polygon points="557.30,43.40 555.90,35.60 558.70,35.60" fill="#111"/>
<polygon points="557.30,56.20 555.90,64.00 558.70,64.00" fill="#111"/>
<g transform="translate(554.5,87.6) rotate(-90)"><text x="-15.90" y="0" font-size="11">25X25</text></g>
<rect x="670.2" y="56.8" width="10.70" height="1.60" rx="0" stroke="#2a2a2a" stroke-width="0" fill="#999" />
<path d="M669.6,58.4 Q668.8,62.3 669.6,66.2 M680.9,58.4 Q681.7,62.3 680.9,66.2" stroke="#888" stroke-width="0.9" fill="none" />
<rect x="670.4" y="66" width="10.20" height="3.10" rx="0" stroke="#2a2a2a" stroke-width="0" fill="#888" />
<path d="M667.4,82.3 L667.4,71 Q667.4,69.1 669.2,69.1 L681.6,69.1 Q683.4,69.1 683.4,71 L683.4,82.3" stroke="#777" stroke-width="0.9" fill="none" />
<path d="M622.5,85.4 L633,85.2 L639,82.3 L711,82.3 L717,85.2 L728.2,85.4" stroke="#222" stroke-width="1.1" fill="none" />
<line x1="630.5" y1="85.2" x2="720.2" y2="85.2" stroke="#333" stroke-width="1" />
<line x1="655.5" y1="82.3" x2="655.5" y2="85.2" stroke="#555" stroke-width="0.8" />
<line x1="695.2" y1="82.3" x2="695.2" y2="85.2" stroke="#555" stroke-width="0.8" />
<path d="M637.1,85.4 L637.3,87.8 Q637.6,88.8 639.0,88.8 Q640.4,88.8 640.7,87.8 L640.9,85.4" stroke="#333" stroke-width="1.0" fill="#ccc" />
<line x1="639.0" y1="86.2" x2="639.0" y2="88.4" stroke="#555" stroke-width="0.8" />
<path d="M645.01,85.4 L645.2099999999999,87.8 Q645.51,88.8 646.91,88.8 Q648.31,88.8 648.61,87.8 L648.81,85.4" stroke="#333" stroke-width="1.0" fill="#ccc" />
<line x1="646.91" y1="86.2" x2="646.91" y2="88.4" stroke="#555" stroke-width="0.8" />
<path d="M652.9200000000001,85.4 L653.12,87.8 Q653.4200000000001,88.8 654.82,88.8 Q656.22,88.8 656.5200000000001,87.8 L656.72,85.4" stroke="#333" stroke-width="1.0" fill="#ccc" />
<line x1="654.82" y1="86.2" x2="654.82" y2="88.4" stroke="#555" stroke-width="0.8" />
<path d="M660.83,85.4 L661.03,87.8 Q661.33,88.8 662.73,88.8 Q664.13,88.8 664.4300000000001,87.8 L664.63,85.4" stroke="#333" stroke-width="1.0" fill="#ccc" />
<line x1="662.73" y1="86.2" x2="662.73" y2="88.4" stroke="#555" stroke-width="0.8" />
<path d="M668.74,85.4 L668.9399999999999,87.8 Q669.24,88.8 670.64,88.8 Q672.04,88.8 672.34,87.8 L672.54,85.4" stroke="#333" stroke-width="1.0" fill="#ccc" />
<line x1="670.64" y1="86.2" x2="670.64" y2="88.4" stroke="#555" stroke-width="0.8" />
<path d="M676.65,85.4 L676.8499999999999,87.8 Q677.15,88.8 678.55,88.8 Q679.9499999999999,88.8 680.25,87.8 L680.4499999999999,85.4" stroke="#333" stroke-width="1.0" fill="#ccc" />
<line x1="678.55" y1="86.2" x2="678.55" y2="88.4" stroke="#555" stroke-width="0.8" />
<path d="M684.5600000000001,85.4 L684.76,87.8 Q685.0600000000001,88.8 686.46,88.8 Q687.86,88.8 688.1600000000001,87.8 L688.36,85.4" stroke="#333" stroke-width="1.0" fill="#ccc" />
<line x1="686.46" y1="86.2" x2="686.46" y2="88.4" stroke="#555" stroke-width="0.8" />
<path d="M692.47,85.4 L692.67,87.8 Q692.97,88.8 694.37,88.8 Q695.77,88.8 696.07,87.8 L696.27,85.4" stroke="#333" stroke-width="1.0" fill="#ccc" />
<line x1="694.37" y1="86.2" x2="694.37" y2="88.4" stroke="#555" stroke-width="0.8" />
<path d="M700.38,85.4 L700.5799999999999,87.8 Q700.88,88.8 702.28,88.8 Q703.68,88.8 703.98,87.8 L704.18,85.4" stroke="#333" stroke-width="1.0" fill="#ccc" />
<line x1="702.28" y1="86.2" x2="702.28" y2="88.4" stroke="#555" stroke-width="0.8" />
<path d="M708.2900000000001,85.4 L708.49,87.8 Q708.7900000000001,88.8 710.19,88.8 Q711.59,88.8 711.8900000000001,87.8 L712.09,85.4" stroke="#333" stroke-width="1.0" fill="#ccc" />
<line x1="710.19" y1="86.2" x2="710.19" y2="88.4" stroke="#555" stroke-width="0.8" />
<line x1="622.5" y1="86" x2="622.5" y2="110.5" stroke="#c0c0c0" stroke-width="0.8" />
<line x1="728.2" y1="86" x2="728.2" y2="110.5" stroke="#c0c0c0" stroke-width="0.8" />
<line x1="622.5" y1="110.2" x2="728.2" y2="110.2" stroke="#999" stroke-width="0.8" />
<polygon points="622.50,110.20 630.30,108.80 630.30,111.60" fill="#111"/>
<polygon points="728.20,110.20 720.40,108.80 720.40,111.60" fill="#111"/>
<g transform="translate(675.3,107.5)"><text x="-22.02" y="0" font-size="11">300X200</text></g>
<path d="M281.5,262 L281.5,247 C281.5,243 276,240 271,238.5 C267,237 265.6,235 265.6,231 L265.6,180 Q265.6,174.2 271,174.2 L309.8,174.2 Q315.3,174.2 315.3,180 L315.3,231 C315.3,235 313.8,237 309.8,238.5 C304.8,240 298.8,243 298.8,247 L298.8,262" stroke="#666" stroke-width="1.0" fill="none" />
<line x1="265.9" y1="181" x2="265.9" y2="232" stroke="#333" stroke-width="1.2" />
<path d="M281.5,262 L281.5,247 C281.5,243 276,240 271,238.5 C267,237 265.6,235 265.6,231" stroke="#333" stroke-width="1.3" fill="none" />
<path d="M298.8,262 L298.8,247 C298.8,243 304.8,240 309.8,238.5 C313.8,237 315.3,235 315.3,231" stroke="#333" stroke-width="1.3" fill="none" />
<path d="M284,255 L284,248.5 C284,244.5 279,241.5 273,239.8 C269.5,238.6 268.1,236.5 268.1,233 L268.1,181 Q268.1,177.5 272,177.5 L309.8,177.5 Q313.7,177.5 313.7,181 L313.7,233 C313.7,236.5 312.4,238.6 308.8,239.8 C302.8,241.5 296.5,244.5 296.5,248.5 L296.5,255" stroke="#555" stroke-width="1.0" fill="none" />
<path d="M268.1,181 Q268.1,177.5 272,177.5 L309.8,177.5 Q313.7,177.5 313.7,181 L313.7,233" stroke="#2a2a2a" stroke-width="1.3" fill="none" />
<path d="M265.5,178 Q268,175.7 272,175.7 L309.8,175.7" stroke="#bbb" stroke-width="0.6" fill="none" />
<path d="M268.5,232 Q275,236.5 290.5,237.5 Q306,236.5 313.3,232" stroke="#888" stroke-width="0.6" fill="none" />
<circle cx="272.75" cy="181.50" r="1.2" fill="#4a4a4a"/>
<circle cx="277.75" cy="181.50" r="1.2" fill="#4a4a4a"/>
<circle cx="282.75" cy="181.50" r="1.2" fill="#4a4a4a"/>
<circle cx="287.75" cy="181.50" r="1.2" fill="#4a4a4a"/>
<circle cx="292.75" cy="181.50" r="1.2" fill="#4a4a4a"/>
<circle cx="297.75" cy="181.50" r="1.2" fill="#4a4a4a"/>
<circle cx="302.75" cy="181.50" r="1.2" fill="#4a4a4a"/>
<circle cx="307.75" cy="181.50" r="1.2" fill="#4a4a4a"/>
<circle cx="270.25" cy="184.43" r="1.2" fill="#4a4a4a"/>
<circle cx="275.25" cy="184.43" r="1.2" fill="#4a4a4a"/>
<circle cx="280.25" cy="184.43" r="1.2" fill="#4a4a4a"/>
<circle cx="285.25" cy="184.43" r="1.3" fill="#333"/>
<circle cx="290.25" cy="184.43" r="1.3" fill="#333"/>
<circle cx="295.25" cy="184.43" r="1.2" fill="#4a4a4a"/>
<circle cx="300.25" cy="184.43" r="1.2" fill="#4a4a4a"/>
<circle cx="305.25" cy="184.43" r="1.2" fill="#4a4a4a"/>
<circle cx="310.25" cy="184.43" r="1.2" fill="#4a4a4a"/>
<circle cx="272.75" cy="187.36" r="1.2" fill="#4a4a4a"/>
<circle cx="277.75" cy="187.36" r="1.2" fill="#4a4a4a"/>
<circle cx="282.75" cy="187.36" r="1.3" fill="#333"/>
<circle cx="287.75" cy="187.36" r="1.3" fill="#333"/>
<circle cx="292.75" cy="187.36" r="1.3" fill="#333"/>
<circle cx="297.75" cy="187.36" r="1.3" fill="#333"/>
<circle cx="302.75" cy="187.36" r="1.2" fill="#4a4a4a"/>
<circle cx="307.75" cy="187.36" r="1.2" fill="#4a4a4a"/>
<circle cx="270.25" cy="190.29" r="1.2" fill="#4a4a4a"/>
<circle cx="275.25" cy="190.29" r="1.2" fill="#4a4a4a"/>
<circle cx="280.25" cy="190.29" r="1.3" fill="#333"/>
<circle cx="285.25" cy="190.29" r="1.3" fill="#333"/>
<circle cx="290.25" cy="190.29" r="1.4" fill="#0a0a0a"/>
<circle cx="295.25" cy="190.29" r="1.3" fill="#333"/>
<circle cx="300.25" cy="190.29" r="1.3" fill="#333"/>
<circle cx="305.25" cy="190.29" r="1.2" fill="#4a4a4a"/>
<circle cx="310.25" cy="190.29" r="1.2" fill="#4a4a4a"/>
<circle cx="272.75" cy="193.22" r="1.2" fill="#4a4a4a"/>
<circle cx="277.75" cy="193.22" r="1.3" fill="#333"/>
<circle cx="282.75" cy="193.22" r="1.4" fill="#0a0a0a"/>
<circle cx="287.75" cy="193.22" r="1.4" fill="#0a0a0a"/>
<circle cx="292.75" cy="193.22" r="1.4" fill="#0a0a0a"/>
<circle cx="297.75" cy="193.22" r="1.4" fill="#0a0a0a"/>
<circle cx="302.75" cy="193.22" r="1.3" fill="#333"/>
<circle cx="307.75" cy="193.22" r="1.2" fill="#4a4a4a"/>
<circle cx="270.25" cy="196.15" r="1.2" fill="#4a4a4a"/>
<circle cx="275.25" cy="196.15" r="1.3" fill="#333"/>
<circle cx="280.25" cy="196.15" r="1.4" fill="#0a0a0a"/>
<circle cx="285.25" cy="196.15" r="1.4" fill="#0a0a0a"/>
<circle cx="290.25" cy="196.15" r="1.45" fill="#000"/>
<circle cx="295.25" cy="196.15" r="1.4" fill="#0a0a0a"/>
<circle cx="300.25" cy="196.15" r="1.4" fill="#0a0a0a"/>
<circle cx="305.25" cy="196.15" r="1.3" fill="#333"/>
<circle cx="310.25" cy="196.15" r="1.2" fill="#4a4a4a"/>
<circle cx="272.75" cy="199.08" r="1.3" fill="#333"/>
<circle cx="277.75" cy="199.08" r="1.4" fill="#0a0a0a"/>
<circle cx="282.75" cy="199.08" r="1.45" fill="#000"/>
<circle cx="287.75" cy="199.08" r="1.45" fill="#000"/>
<circle cx="292.75" cy="199.08" r="1.45" fill="#000"/>
<circle cx="297.75" cy="199.08" r="1.4" fill="#0a0a0a"/>
<circle cx="302.75" cy="199.08" r="1.3" fill="#333"/>
<circle cx="307.75" cy="199.08" r="1.2" fill="#4a4a4a"/>
<circle cx="270.25" cy="202.01" r="1.2" fill="#4a4a4a"/>
<circle cx="275.25" cy="202.01" r="1.3" fill="#333"/>
<circle cx="280.25" cy="202.01" r="1.4" fill="#0a0a0a"/>
<circle cx="285.25" cy="202.01" r="1.45" fill="#000"/>
<circle cx="290.25" cy="202.01" r="1.45" fill="#000"/>
<circle cx="295.25" cy="202.01" r="1.45" fill="#000"/>
<circle cx="300.25" cy="202.01" r="1.4" fill="#0a0a0a"/>
<circle cx="305.25" cy="202.01" r="1.3" fill="#333"/>
<circle cx="310.25" cy="202.01" r="1.2" fill="#4a4a4a"/>
<circle cx="272.75" cy="204.94" r="1.3" fill="#333"/>
<circle cx="277.75" cy="204.94" r="1.4" fill="#0a0a0a"/>
<circle cx="282.75" cy="204.94" r="1.45" fill="#000"/>
<circle cx="287.75" cy="204.94" r="1.45" fill="#000"/>
<circle cx="292.75" cy="204.94" r="1.45" fill="#000"/>
<circle cx="297.75" cy="204.94" r="1.45" fill="#000"/>
<circle cx="302.75" cy="204.94" r="1.4" fill="#0a0a0a"/>
<circle cx="307.75" cy="204.94" r="1.3" fill="#333"/>
<circle cx="270.25" cy="207.87" r="1.2" fill="#4a4a4a"/>
<circle cx="275.25" cy="207.87" r="1.3" fill="#333"/>
<circle cx="280.25" cy="207.87" r="1.4" fill="#0a0a0a"/>
<circle cx="285.25" cy="207.87" r="1.45" fill="#000"/>
<circle cx="290.25" cy="207.87" r="1.45" fill="#000"/>
<circle cx="295.25" cy="207.87" r="1.45" fill="#000"/>
<circle cx="300.25" cy="207.87" r="1.4" fill="#0a0a0a"/>
<circle cx="305.25" cy="207.87" r="1.3" fill="#333"/>
<circle cx="310.25" cy="207.87" r="1.2" fill="#4a4a4a"/>
<circle cx="272.75" cy="210.80" r="1.3" fill="#333"/>
<circle cx="277.75" cy="210.80" r="1.4" fill="#0a0a0a"/>
<circle cx="282.75" cy="210.80" r="1.45" fill="#000"/>
<circle cx="287.75" cy="210.80" r="1.45" fill="#000"/>
<circle cx="292.75" cy="210.80" r="1.45" fill="#000"/>
<circle cx="297.75" cy="210.80" r="1.4" fill="#0a0a0a"/>
<circle cx="302.75" cy="210.80" r="1.4" fill="#0a0a0a"/>
<circle cx="307.75" cy="210.80" r="1.3" fill="#333"/>
<circle cx="270.25" cy="213.73" r="1.2" fill="#4a4a4a"/>
<circle cx="275.25" cy="213.73" r="1.3" fill="#333"/>
<circle cx="280.25" cy="213.73" r="1.4" fill="#0a0a0a"/>
<circle cx="285.25" cy="213.73" r="1.45" fill="#000"/>
<circle cx="290.25" cy="213.73" r="1.45" fill="#000"/>
<circle cx="295.25" cy="213.73" r="1.45" fill="#000"/>
<circle cx="300.25" cy="213.73" r="1.4" fill="#0a0a0a"/>
<circle cx="305.25" cy="213.73" r="1.3" fill="#333"/>
<circle cx="310.25" cy="213.73" r="1.2" fill="#4a4a4a"/>
<circle cx="272.75" cy="216.66" r="1.2" fill="#4a4a4a"/>
<circle cx="277.75" cy="216.66" r="1.3" fill="#333"/>
<circle cx="282.75" cy="216.66" r="1.4" fill="#0a0a0a"/>
<circle cx="287.75" cy="216.66" r="1.4" fill="#0a0a0a"/>
<circle cx="292.75" cy="216.66" r="1.4" fill="#0a0a0a"/>
<circle cx="297.75" cy="216.66" r="1.4" fill="#0a0a0a"/>
<circle cx="302.75" cy="216.66" r="1.3" fill="#333"/>
<circle cx="307.75" cy="216.66" r="1.2" fill="#4a4a4a"/>
<circle cx="270.25" cy="219.59" r="1.2" fill="#4a4a4a"/>
<circle cx="275.25" cy="219.59" r="1.3" fill="#333"/>
<circle cx="280.25" cy="219.59" r="1.3" fill="#333"/>
<circle cx="285.25" cy="219.59" r="1.4" fill="#0a0a0a"/>
<circle cx="290.25" cy="219.59" r="1.4" fill="#0a0a0a"/>
<circle cx="295.25" cy="219.59" r="1.4" fill="#0a0a0a"/>
<circle cx="300.25" cy="219.59" r="1.3" fill="#333"/>
<circle cx="305.25" cy="219.59" r="1.2" fill="#4a4a4a"/>
<circle cx="310.25" cy="219.59" r="1.2" fill="#4a4a4a"/>
<circle cx="272.75" cy="222.52" r="1.2" fill="#4a4a4a"/>
<circle cx="277.75" cy="222.52" r="1.3" fill="#333"/>
<circle cx="282.75" cy="222.52" r="1.3" fill="#333"/>
<circle cx="287.75" cy="222.52" r="1.3" fill="#333"/>
<circle cx="292.75" cy="222.52" r="1.3" fill="#333"/>
<circle cx="297.75" cy="222.52" r="1.3" fill="#333"/>
<circle cx="302.75" cy="222.52" r="1.2" fill="#4a4a4a"/>
<circle cx="307.75" cy="222.52" r="1.2" fill="#4a4a4a"/>
<circle cx="270.25" cy="225.45" r="1.2" fill="#4a4a4a"/>
<circle cx="275.25" cy="225.45" r="1.2" fill="#4a4a4a"/>
<circle cx="280.25" cy="225.45" r="1.3" fill="#333"/>
<circle cx="285.25" cy="225.45" r="1.3" fill="#333"/>
<circle cx="290.25" cy="225.45" r="1.3" fill="#333"/>
<circle cx="295.25" cy="225.45" r="1.3" fill="#333"/>
<circle cx="300.25" cy="225.45" r="1.2" fill="#4a4a4a"/>
<circle cx="305.25" cy="225.45" r="1.2" fill="#4a4a4a"/>
<circle cx="310.25" cy="225.45" r="1.2" fill="#4a4a4a"/>
<circle cx="272.75" cy="228.38" r="1.2" fill="#4a4a4a"/>
<circle cx="277.75" cy="228.38" r="1.2" fill="#4a4a4a"/>
<circle cx="282.75" cy="228.38" r="1.2" fill="#4a4a4a"/>
<circle cx="287.75" cy="228.38" r="1.2" fill="#4a4a4a"/>
<circle cx="292.75" cy="228.38" r="1.2" fill="#4a4a4a"/>
<circle cx="297.75" cy="228.38" r="1.2" fill="#4a4a4a"/>
<circle cx="302.75" cy="228.38" r="1.2" fill="#4a4a4a"/>
<circle cx="307.75" cy="228.38" r="1.2" fill="#4a4a4a"/>
<circle cx="270.25" cy="231.31" r="1.2" fill="#4a4a4a"/>
<circle cx="275.25" cy="231.31" r="1.2" fill="#4a4a4a"/>
<circle cx="280.25" cy="231.31" r="1.2" fill="#4a4a4a"/>
<circle cx="285.25" cy="231.31" r="1.2" fill="#4a4a4a"/>
<circle cx="290.25" cy="231.31" r="1.2" fill="#4a4a4a"/>
<circle cx="295.25" cy="231.31" r="1.2" fill="#4a4a4a"/>
<circle cx="300.25" cy="231.31" r="1.2" fill="#4a4a4a"/>
<circle cx="305.25" cy="231.31" r="1.2" fill="#4a4a4a"/>
<circle cx="310.25" cy="231.31" r="1.2" fill="#4a4a4a"/>
<circle cx="272.75" cy="234.24" r="1.2" fill="#4a4a4a"/>
<circle cx="277.75" cy="234.24" r="1.2" fill="#4a4a4a"/>
<circle cx="282.75" cy="234.24" r="1.2" fill="#4a4a4a"/>
<circle cx="287.75" cy="234.24" r="1.2" fill="#4a4a4a"/>
<circle cx="292.75" cy="234.24" r="1.2" fill="#4a4a4a"/>
<circle cx="297.75" cy="234.24" r="1.2" fill="#4a4a4a"/>
<circle cx="302.75" cy="234.24" r="1.2" fill="#4a4a4a"/>
<circle cx="307.75" cy="234.24" r="1.2" fill="#4a4a4a"/>
<rect x="284.5" y="240" width="10.50" height="16.50" rx="3" stroke="#333" stroke-width="1" fill="none" />
<rect x="285.6" y="241.5" width="8.30" height="13.50" rx="2.2" stroke="#222" stroke-width="1" fill="none" />
<path d="M281,255 L283,309" stroke="#333" stroke-width="1.1" fill="none" />
<path d="M299,255 L297.5,309" stroke="#333" stroke-width="1.1" fill="none" />
<line x1="283" y1="257.5" x2="297" y2="257.5" stroke="#666" stroke-width="0.8" />
<line x1="283.5" y1="261.3" x2="296.5" y2="261.3" stroke="#666" stroke-width="0.8" />
<path d="M283.7,261.3 L287.8,308" stroke="#666" stroke-width="0.7" fill="none" />
<path d="M296,261.3 L292,308" stroke="#666" stroke-width="0.7" fill="none" />
<rect x="283" y="308.8" width="14.50" height="2.70" rx="0" stroke="#555" stroke-width="0.8" fill="#fff" />
<rect x="257.3" y="306.6" width="25.95" height="25.90" rx="0" stroke="#666" stroke-width="1" fill="none" />
<rect x="262.3" y="311.9" width="15.60" height="15.60" rx="0" stroke="#444" stroke-width="1.1" fill="none" />
<rect x="277.9" y="312.2" width="17.85" height="15.30" rx="0" stroke="#777" stroke-width="0.9" fill="#fff" />
<rect x="116.6" y="385.6" width="68.40" height="94.80" rx="0" stroke="#666" stroke-width="1" fill="none" />
<line x1="116.6" y1="374.4" x2="185" y2="374.4" stroke="#999" stroke-width="0.8" />
<line x1="116.6" y1="374.4" x2="116.6" y2="385.6" stroke="#bbb" stroke-width="0.8" />
<line x1="185" y1="374.4" x2="185" y2="385.6" stroke="#bbb" stroke-width="0.8" />
<polygon points="116.80,374.40 124.60,373.00 124.60,375.80" fill="#111"/>
<polygon points="184.80,374.40 177.00,373.00 177.00,375.80" fill="#111"/>
<g transform="translate(151,371)"><text x="-9.18" y="0" font-size="11"> 30</text><path transform="translate(-9.18,0) scale(0.00537,-0.00537)" d="M763,0 L583,0 L583,1147 Q518,1085 412,1023 Q306,961 222,930 L222,1104 Q373,1175 486,1276 Q599,1377 646,1472 L763,1472 Z" fill="#111" stroke="#222" stroke-width="46.5"/></g>
<line x1="86" y1="385.6" x2="116.6" y2="385.6" stroke="#999" stroke-width="0.8" />
<line x1="86" y1="480.4" x2="116.6" y2="480.4" stroke="#999" stroke-width="0.8" />
<line x1="86.2" y1="385.6" x2="86.2" y2="480.4" stroke="#c0c0c0" stroke-width="0.8" />
<polygon points="86.20,385.80 84.80,393.60 87.60,393.60" fill="#111"/>
<polygon points="86.20,480.20 84.80,472.40 87.60,472.40" fill="#111"/>
<g transform="translate(84,433) rotate(-90)"><text x="-9.18" y="0" font-size="11"> 80</text><path transform="translate(-9.18,0) scale(0.00537,-0.00537)" d="M763,0 L583,0 L583,1147 Q518,1085 412,1023 Q306,961 222,930 L222,1104 Q373,1175 486,1276 Q599,1377 646,1472 L763,1472 Z" fill="#111" stroke="#222" stroke-width="46.5"/></g>
<line x1="104.4" y1="412.4" x2="114" y2="412.4" stroke="#999" stroke-width="0.8" />
<line x1="104.4" y1="448.4" x2="114" y2="448.4" stroke="#999" stroke-width="0.8" />
<line x1="104.4" y1="412.4" x2="104.4" y2="448.4" stroke="#c0c0c0" stroke-width="0.8" />
<polygon points="104.40,412.60 103.00,420.40 105.80,420.40" fill="#111"/>
<polygon points="104.40,448.20 103.00,440.40 105.80,440.40" fill="#111"/>
<g transform="translate(102,430.5) rotate(-90)"><text x="-6.12" y="0" font-size="11">68</text></g>
<rect x="143.25" y="405" width="15.40" height="15.40" rx="3.2" stroke="#333" stroke-width="1.1" fill="none" />
<path d="M146.5,413.5 A4.5,5.2 0 0 1 155.5,413" stroke="#333" stroke-width="0.9" fill="none" />
<path d="M153.4,414 Q155.4,411.3 157.4,414 Z" fill="#000"/>
<line x1="143.5" y1="412" x2="146.4" y2="412.8" stroke="#aaa" stroke-width="0.8" />
<path d="M149.5,421 Q151,422.5 152.5,421" stroke="#666" stroke-width="0.6" fill="none" />
<rect x="139.4" y="437.3" width="22.50" height="58.50" rx="0" stroke="#777" stroke-width="1" fill="#fff" />
<path d="M139.4,460 L139.4,437.3 L161.9,437.3 L161.9,460" stroke="#222" stroke-width="1.1" fill="none" />
<path d="M148.5,437.3 Q150.6,435.8 152.7,437.3" stroke="#333" stroke-width="0.8" fill="none" />
<line x1="132.25" y1="590.6" x2="169.4" y2="590.6" stroke="#999" stroke-width="0.8" />
<line x1="132.25" y1="590.6" x2="132.25" y2="600.6" stroke="#aaa" stroke-width="0.8" />
<line x1="169.4" y1="590.6" x2="169.4" y2="600.6" stroke="#aaa" stroke-width="0.8" />
<polygon points="132.45,590.60 140.25,589.20 140.25,592.00" fill="#111"/>
<polygon points="169.20,590.60 161.40,589.20 161.40,592.00" fill="#111"/>
<g transform="translate(151,587.5)"><text x="-6.12" y="0" font-size="11">70</text></g>
<line x1="121.25" y1="600.6" x2="132.25" y2="600.6" stroke="#999" stroke-width="0.8" />
<line x1="121.25" y1="631.25" x2="132.25" y2="631.25" stroke="#999" stroke-width="0.8" />
<line x1="121.25" y1="600.6" x2="121.25" y2="631.25" stroke="#c0c0c0" stroke-width="0.8" />
<polygon points="121.25,600.80 119.85,608.60 122.65,608.60" fill="#111"/>
<polygon points="121.25,631.05 119.85,623.25 122.65,623.25" fill="#111"/>
<g transform="translate(119.5,616) rotate(-90)"><text x="-6.12" y="0" font-size="11">57</text></g>
<rect x="132.25" y="600.7" width="37.35" height="30.20" rx="3.5" stroke="#666" stroke-width="1" fill="#fff" />
<rect x="140.3" y="608.75" width="21.30" height="14.05" rx="0" stroke="#333" stroke-width="1.1" fill="none" />
<line x1="140.3" y1="608.75" x2="161.6" y2="608.75" stroke="#222" stroke-width="1.3" />
<line x1="141" y1="625.3" x2="161" y2="625.3" stroke="#888" stroke-width="0.7" />
<line x1="140.3" y1="627.5" x2="161.6" y2="627.5" stroke="#666" stroke-width="0.8" />
<line x1="141" y1="622.8" x2="141" y2="627.5" stroke="#777" stroke-width="0.8" />
<line x1="161" y1="622.8" x2="161" y2="627.5" stroke="#777" stroke-width="0.8" />
<rect x="139.5" y="627.5" width="22.10" height="13.10" rx="0" stroke="#666" stroke-width="0.9" fill="#fff" />
<rect x="139.3" y="640.6" width="22.50" height="4.70" rx="0" stroke="#2a2a2a" stroke-width="0" fill="#2a2a2a" />
<line x1="140.5" y1="642.9" x2="160.5" y2="642.9" stroke="#bbb" stroke-width="0.8" stroke-dasharray="1.2 0.8"/>
<path d="M144.2,645.3 L144.2,649.6 Q144.2,651.3 146,651.3 L156,651.3 Q157.8,651.3 157.8,649.6 L157.8,645.3" stroke="#555" stroke-width="0.9" fill="#fff" />
<ellipse cx="148.6" cy="648.3" rx="1.7" ry="2.1" fill="none" stroke="#666" stroke-width="0.7"/>
<ellipse cx="153.4" cy="648.3" rx="1.7" ry="2.1" fill="none" stroke="#666" stroke-width="0.7"/>
<rect x="146.3" y="651.3" width="8.10" height="8.70" rx="0" stroke="#666" stroke-width="0.8" fill="#fff" />
<path d="M523,174.5 L531.2,177.2 L514.3,239.4 L506.9,238.1 Z" stroke="#333" stroke-width="0.9" fill="#fff" />
<line x1="531.2" y1="177.2" x2="514.3" y2="239.4" stroke="#222" stroke-width="1.4" />
<line x1="522.3" y1="180" x2="530.4" y2="182.6" stroke="#666" stroke-width="0.7" />
<line x1="521.2" y1="184" x2="529.5" y2="186.2" stroke="#666" stroke-width="0.7" />
<path d="M522,179 C512,200 503,222 501.6,243 L501.6,309" stroke="#555" stroke-width="0.8" fill="none" />
<line x1="508.3" y1="232.5" x2="516" y2="233.2" stroke="#444" stroke-width="0.8" />
<line x1="514.8" y1="239.4" x2="514.8" y2="309" stroke="#555" stroke-width="0.9" />
<path d="M506.9,238.1 L505.9,246.5 L505.9,308.5" stroke="#777" stroke-width="0.7" fill="none" />
<line x1="504.4" y1="246" x2="504.4" y2="308.5" stroke="#999" stroke-width="0.6" />
<line x1="514.7" y1="248" x2="508.8" y2="308.2" stroke="#888" stroke-width="0.6" />
<path d="M514.6,239.6 L517.6,241.3 L515,255.6 Z" stroke="#222" stroke-width="0.7" fill="#fff" />
<line x1="515" y1="241" x2="515.2" y2="254" stroke="#222" stroke-width="1.2" />
<rect x="501.6" y="308.9" width="13.70" height="3.00" rx="0" stroke="#555" stroke-width="0.8" fill="#fff" />
<rect x="479.3" y="311.9" width="38.00" height="15.70" rx="0" stroke="#333" stroke-width="1" fill="#fff" />
<rect x="475.3" y="306.7" width="4.30" height="26.30" rx="0" stroke="#333" stroke-width="0.9" fill="#fff" />
<line x1="464.9" y1="266" x2="464.9" y2="333.2" stroke="#999" stroke-width="0.7" />
<line x1="464.9" y1="306.7" x2="475.3" y2="306.7" stroke="#888" stroke-width="0.7" />
<line x1="464.9" y1="333.1" x2="475.3" y2="333.1" stroke="#888" stroke-width="0.7" />
<polygon points="464.90,307.50 463.50,315.30 466.30,315.30" fill="#111"/>
<polygon points="464.90,332.30 463.50,324.50 466.30,324.50" fill="#111"/>
<g transform="translate(463.2,283.2) rotate(-90)"><text x="-15.90" y="0" font-size="11">50X50</text></g>
<line x1="421.75" y1="390" x2="421.75" y2="472.7" stroke="#aaa" stroke-width="0.9" />
<line x1="421.75" y1="390.2" x2="427.4" y2="390.2" stroke="#666" stroke-width="0.9" />
<line x1="421.75" y1="472.5" x2="427.4" y2="472.5" stroke="#999" stroke-width="0.9" />
<line x1="427.4" y1="390" x2="427.4" y2="401.6" stroke="#555" stroke-width="0.9" />
<line x1="427.4" y1="461.5" x2="427.4" y2="472.7" stroke="#555" stroke-width="0.9" />
<line x1="427.4" y1="394.6" x2="448.2" y2="394.6" stroke="#444" stroke-width="0.9" />
<line x1="448.2" y1="394.6" x2="448.2" y2="396.25" stroke="#777" stroke-width="0.7" />
<line x1="421.75" y1="396.5" x2="457.75" y2="396.5" stroke="#444" stroke-width="0.9" />
<line x1="421.75" y1="401.6" x2="457.75" y2="401.6" stroke="#444" stroke-width="0.9" />
<line x1="421.75" y1="461.5" x2="457.75" y2="461.5" stroke="#444" stroke-width="0.9" />
<line x1="421.75" y1="466" x2="457.75" y2="466" stroke="#444" stroke-width="0.9" />
<line x1="427.4" y1="468.2" x2="443.1" y2="468.2" stroke="#444" stroke-width="1.0" />
<line x1="443.1" y1="466" x2="443.1" y2="468.2" stroke="#777" stroke-width="0.7" />
<line x1="457.75" y1="396.25" x2="457.75" y2="466" stroke="#555" stroke-width="0.9" />
<line x1="436.9" y1="394" x2="436.9" y2="470" stroke="#bbb" stroke-width="0.8" />
<circle cx="436.9" cy="414.25" r="10.7" stroke="#222" stroke-width="1.1" fill="#fff"/>
<circle cx="436.9" cy="448.55" r="10.7" stroke="#222" stroke-width="1.2" fill="#fff"/>
<circle cx="436.9" cy="448.55" r="8.0" stroke="#666" stroke-width="0.6" fill="none"/>
<circle cx="436.9" cy="448.55" r="6.7" stroke="#777" stroke-width="0.6" fill="none"/>
<circle cx="436.9" cy="448.55" r="5.1" stroke="#222" stroke-width="1.0" fill="none"/>
<line x1="431.5" y1="448.55" x2="441.5" y2="448.55" stroke="#444" stroke-width="0.6" />
<path d="M439,445.5 L441.5,448.55 L439,451.5" stroke="#444" stroke-width="0.6" fill="none" />
<line x1="438.5" y1="448.55" x2="438.5" y2="453" stroke="#555" stroke-width="0.6" />
<rect x="459.2" y="397.2" width="5.90" height="68.20" rx="0" stroke="#666" stroke-width="0.6" fill="#aaa" />
<rect x="460.4" y="397.4" width="3.60" height="67.80" rx="0" stroke="#2a2a2a" stroke-width="0" fill="#888" />
<line x1="459.2" y1="401.4" x2="465.1" y2="401.4" stroke="#444" stroke-width="0.8" />
<line x1="459.2" y1="461.5" x2="465.1" y2="461.5" stroke="#444" stroke-width="0.8" />
<line x1="465.2" y1="385.3" x2="465.2" y2="480.4" stroke="#444" stroke-width="1.0" />
<line x1="465.2" y1="480.4" x2="465.2" y2="506" stroke="#999" stroke-width="0.6" />
<line x1="465.2" y1="407.6" x2="471.3" y2="407.6" stroke="#555" stroke-width="0.8" />
<line x1="465.2" y1="418.5" x2="471.3" y2="418.5" stroke="#555" stroke-width="0.8" />
<rect x="471.3" y="404.75" width="15.80" height="15.45" rx="0" stroke="#999" stroke-width="0.9" fill="none" />
<line x1="471.3" y1="408.4" x2="487.1" y2="408.4" stroke="#444" stroke-width="1.0" />
<line x1="471.3" y1="417.4" x2="487.1" y2="417.4" stroke="#444" stroke-width="1.0" />
<line x1="471.3" y1="404.75" x2="471.3" y2="420.2" stroke="#555" stroke-width="0.8" />
<line x1="486.6" y1="405" x2="486.6" y2="420" stroke="#888" stroke-width="1.2" />
<line x1="471.3" y1="420.2" x2="487.1" y2="420.2" stroke="#444" stroke-width="0.9" />
<path d="M477.5,420.3 Q479.2,422 481,420.3" stroke="#555" stroke-width="0.7" fill="none" />
<rect x="465.4" y="437.2" width="9.40" height="22.00" rx="0" stroke="#333" stroke-width="0.9" fill="none" />
<path d="M474.8,459.2 L483.5,459.2 C487,459.5 488.5,464 488.3,470 L487.3,491 C487,494 488,495.6 489,495.6 C490.5,495.6 491.3,493 491.7,490 C493.3,475 493.2,462 492.6,455 C491.8,447 490,440 487.3,437.2 L480.6,437.2 C478.5,440 475.8,445 474.8,449" stroke="#222" stroke-width="0.9" fill="#fff" />
<line x1="480.6" y1="437.2" x2="487.3" y2="437.2" stroke="#111" stroke-width="1.8" />
<line x1="474.8" y1="437.2" x2="480.4" y2="439" stroke="#666" stroke-width="0.6" />
<line x1="426.5" y1="486.4" x2="481.6" y2="486.4" stroke="#999" stroke-width="0.7" />
<polygon points="464.60,486.40 456.60,485.00 456.60,487.80" fill="#111"/>
<polygon points="465.40,486.40 473.70,485.00 473.70,487.80" fill="#111"/>
<g transform="translate(436.7,483.6)"><text x="-7.65" y="0" font-size="11">2.5</text></g>
<line x1="421.9" y1="472.5" x2="421.9" y2="526.5" stroke="#999" stroke-width="0.7" />
<line x1="421.9" y1="505.9" x2="465.2" y2="505.9" stroke="#999" stroke-width="0.7" />
<polygon points="422.10,505.90 429.90,504.50 429.90,507.30" fill="#111"/>
<polygon points="465.00,505.90 457.20,504.50 457.20,507.30" fill="#111"/>
<g transform="translate(443.3,503.3)"><text x="-14.07" y="0" font-size="11">73-88</text></g>
<line x1="492.5" y1="467" x2="492.5" y2="526.5" stroke="#999" stroke-width="0.7" />
<line x1="421.9" y1="526" x2="492.5" y2="526" stroke="#999" stroke-width="0.7" />
<polygon points="422.10,526.00 429.90,524.60 429.90,527.40" fill="#111"/>
<polygon points="492.30,526.00 484.50,524.60 484.50,527.40" fill="#111"/>
<g transform="translate(457.7,523.3)"><text x="-9.18" y="0" font-size="11"> 35</text><path transform="translate(-9.18,0) scale(0.00537,-0.00537)" d="M763,0 L583,0 L583,1147 Q518,1085 412,1023 Q306,961 222,930 L222,1104 Q373,1175 486,1276 Q599,1377 646,1472 L763,1472 Z" fill="#111" stroke="#222" stroke-width="46.5"/></g>
<line x1="451.5" y1="595" x2="451.5" y2="666.25" stroke="#999" stroke-width="0.7" />
<line x1="451.5" y1="610.3" x2="460.6" y2="610.3" stroke="#999" stroke-width="0.7" />
<line x1="451.5" y1="621.25" x2="460.6" y2="621.25" stroke="#999" stroke-width="0.7" />
<polygon points="451.50,610.30 450.10,602.50 452.90,602.50" fill="#111"/>
<polygon points="451.50,621.25 450.10,629.05 452.90,629.05" fill="#111"/>
<g transform="translate(448.5,653.5) rotate(-90)"><text x="-11.92" y="0" font-size="11">G /2</text><path transform="translate(-3.37,0) scale(0.00537,-0.00537)" d="M763,0 L583,0 L583,1147 Q518,1085 412,1023 Q306,961 222,930 L222,1104 Q373,1175 486,1276 Q599,1377 646,1472 L763,1472 Z" fill="#111" stroke="#222" stroke-width="46.5"/></g>
<rect x="460.6" y="610.6" width="17.50" height="10.65" rx="0" stroke="#333" stroke-width="1" fill="#fff" />
<rect x="482.5" y="609.4" width="25.00" height="13.10" rx="0" stroke="#333" stroke-width="1" fill="#fff" />
<path d="M478.1,600.6 L480.5,600.6 Q482.5,600.6 482.5,602.6 L482.5,629.25 Q482.5,631.25 480.5,631.25 L478.1,631.25 Z" stroke="#333" stroke-width="0.9" fill="#fff" />
<rect x="488.25" y="622.6" width="18.75" height="4.30" rx="0" stroke="#555" stroke-width="0.8" fill="#fff" />
<line x1="488.25" y1="624.75" x2="507" y2="624.75" stroke="#888" stroke-width="0.6" />
<path d="M487.25,635.5 L487.25,628.5 Q487.25,627 489,627 L515,627 C530,627.5 545,633 558,641 L547,645.5 C537,639 528,635.5 518,635.5 Z" stroke="#222" stroke-width="1" fill="#fff" />
<path d="M488.7,635.3 L492.6,640.5 L503.1,640.5 L504.4,635.3" stroke="#555" stroke-width="0.8" fill="#fff" />
<rect x="492.4" y="640.5" width="11.00" height="3.10" rx="0" stroke="#555" stroke-width="0.6" fill="#999" />
<path d="M492.2,643.6 L492.2,650 Q492.2,651.4 493.6,651.4 L502.2,651.4 Q503.6,651.4 503.6,650 L503.6,643.6" stroke="#444" stroke-width="0.8" fill="#fff" />
<ellipse cx="495.4" cy="647.5" rx="1.6" ry="2.5" fill="none" stroke="#444" stroke-width="0.8"/>
<ellipse cx="500.6" cy="647.5" rx="1.6" ry="2.5" fill="none" stroke="#444" stroke-width="0.8"/>
<line x1="498" y1="644" x2="498" y2="651" stroke="#888" stroke-width="0.6" />
<rect x="494.4" y="651.4" width="7.00" height="8.60" rx="0" stroke="#666" stroke-width="0.7" fill="#fff" />
<line x1="478.1" y1="631.25" x2="478.1" y2="669" stroke="#999" stroke-width="0.7" />
<line x1="551" y1="645.5" x2="551" y2="669" stroke="#999" stroke-width="0.7" />
<line x1="478.1" y1="668.5" x2="551" y2="668.5" stroke="#999" stroke-width="0.7" />
<polygon points="478.30,668.50 486.10,667.10 486.10,669.90" fill="#111"/>
<polygon points="550.80,668.50 543.00,667.10 543.00,669.90" fill="#111"/>
<g transform="translate(526.2,665.5)"><text x="-9.18" y="0" font-size="11"> 38</text><path transform="translate(-9.18,0) scale(0.00537,-0.00537)" d="M763,0 L583,0 L583,1147 Q518,1085 412,1023 Q306,961 222,930 L222,1104 Q373,1175 486,1276 Q599,1377 646,1472 L763,1472 Z" fill="#111" stroke="#222" stroke-width="46.5"/></g>
</svg></body></html>
